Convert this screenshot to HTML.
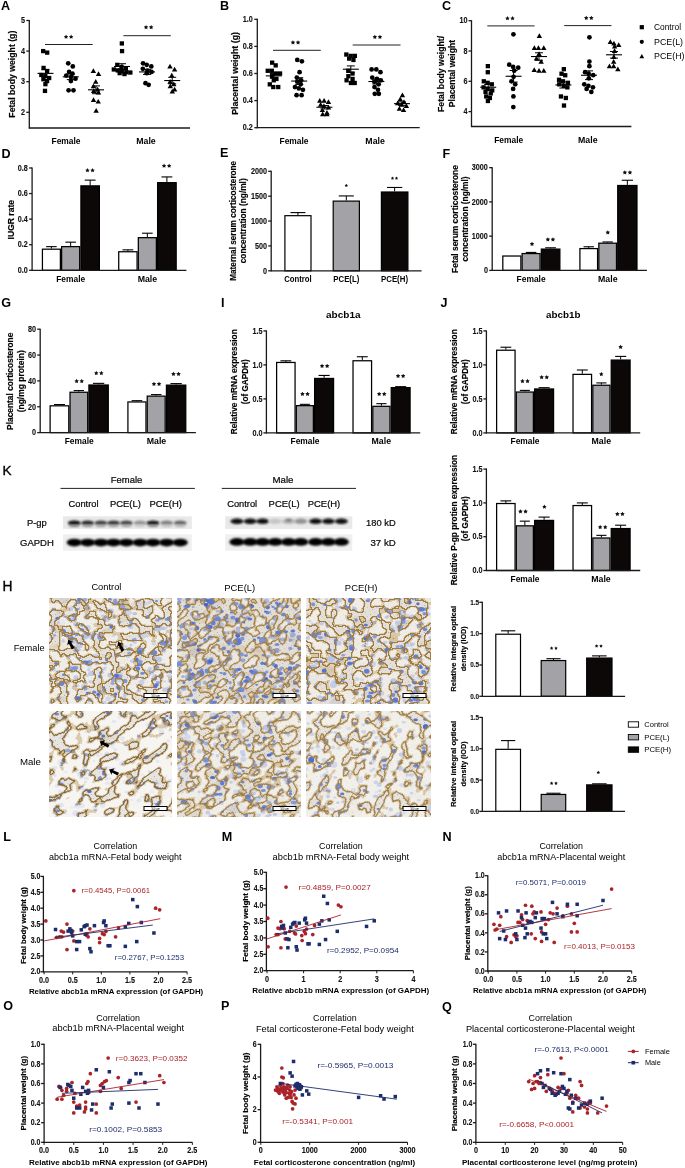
<!DOCTYPE html>
<html><head><meta charset="utf-8"><style>
html,body{margin:0;padding:0;background:#fff;}
svg{display:block;filter:blur(0.3px);}
text[fill="#0a0a0a"]{stroke:#0a0a0a;stroke-width:0.22px;}
text[transform^="rotate"][font-weight="bold"]{stroke:#111;stroke-width:0.18px;}
text[transform^="translate"]{stroke:#111;stroke-width:0.12px;}
</style></head><body>
<svg width="685" height="1168" viewBox="0 0 685 1168" font-family='"Liberation Sans", sans-serif'>
<defs>
<filter id="bl" x="-50%" y="-80%" width="200%" height="260%"><feGaussianBlur stdDeviation="0.9"/></filter>
<filter id="bl2" x="-5%" y="-20%" width="110%" height="140%"><feGaussianBlur stdDeviation="0.5"/></filter>
<pattern id="spk" width="9" height="9" patternUnits="userSpaceOnUse"><rect x="1" y="2" width="0.8" height="0.8" fill="#5a4a30"/><rect x="5.5" y="0.5" width="0.6" height="0.6" fill="#5a4a30"/><rect x="3.2" y="6.1" width="0.7" height="0.7" fill="#5a4a30"/><rect x="7.4" y="4.3" width="0.6" height="0.6" fill="#5a4a30"/><rect x="0.3" y="7.6" width="0.6" height="0.6" fill="#5a4a30"/></pattern>
</defs>
<rect width="685" height="1168" fill="#fff"/>
<text x="1" y="9.9" font-size="12.6" font-weight="bold" fill="#000">A</text>
<line x1="29.3" y1="20" x2="29.3" y2="128.5" stroke="#1a1a1a" stroke-width="1.3"/>
<line x1="26.3" y1="20.5" x2="29.3" y2="20.5" stroke="#1a1a1a" stroke-width="1.3"/>
<text transform="translate(25.1 23.26) scale(0.84 1)" font-size="8.61" font-weight="bold" text-anchor="end" fill="#111">5</text>
<line x1="26.3" y1="51.1" x2="29.3" y2="51.1" stroke="#1a1a1a" stroke-width="1.3"/>
<text transform="translate(25.1 53.86) scale(0.84 1)" font-size="8.61" font-weight="bold" text-anchor="end" fill="#111">4</text>
<line x1="26.3" y1="81.7" x2="29.3" y2="81.7" stroke="#1a1a1a" stroke-width="1.3"/>
<text transform="translate(25.1 84.46) scale(0.84 1)" font-size="8.61" font-weight="bold" text-anchor="end" fill="#111">3</text>
<line x1="26.3" y1="112.3" x2="29.3" y2="112.3" stroke="#1a1a1a" stroke-width="1.3"/>
<text transform="translate(25.1 115.06) scale(0.84 1)" font-size="8.61" font-weight="bold" text-anchor="end" fill="#111">2</text>
<line x1="28.8" y1="128" x2="190" y2="128" stroke="#1a1a1a" stroke-width="1.3"/>
<text x="15.02" y="74.2" font-size="8.6" font-weight="bold" text-anchor="middle" textLength="87" lengthAdjust="spacingAndGlyphs" transform="rotate(-90 15.02 74.2)">Fetal body weight (g)</text>
<text x="66" y="144.25" font-size="8.2" font-weight="bold" text-anchor="middle" textLength="29" lengthAdjust="spacingAndGlyphs">Female</text>
<text x="146" y="144.25" font-size="8.2" font-weight="bold" text-anchor="middle" textLength="19.5" lengthAdjust="spacingAndGlyphs">Male</text>
<line x1="45" y1="44.5" x2="92.7" y2="44.5" stroke="#222" stroke-width="1"/>
<polygon points="66.05,34.55 66.77,35.91 68.28,36.17 67.21,37.28 67.43,38.8 66.05,38.12 64.67,38.8 64.89,37.28 63.82,36.17 65.33,35.91" fill="#111"/>
<polygon points="71.15,34.55 71.87,35.91 73.38,36.17 72.31,37.28 72.53,38.8 71.15,38.12 69.77,38.8 69.99,37.28 68.92,36.17 70.43,35.91" fill="#111"/>
<line x1="123.4" y1="35.7" x2="170.8" y2="35.7" stroke="#222" stroke-width="1"/>
<polygon points="146.05,24.95 146.77,26.31 148.28,26.57 147.21,27.68 147.43,29.2 146.05,28.52 144.67,29.2 144.89,27.68 143.82,26.57 145.33,26.31" fill="#111"/>
<polygon points="151.15,24.95 151.87,26.31 153.38,26.57 152.31,27.68 152.53,29.2 151.15,28.52 149.77,29.2 149.99,27.68 148.92,26.57 150.43,26.31" fill="#111"/>
<rect x="41.04" y="48.95" width="4.3" height="4.3" fill="#000"/>
<rect x="45.03" y="50.48" width="4.3" height="4.3" fill="#000"/>
<rect x="41.43" y="65.78" width="4.3" height="4.3" fill="#000"/>
<rect x="44.94" y="68.84" width="4.3" height="4.3" fill="#000"/>
<rect x="39.19" y="72.82" width="4.3" height="4.3" fill="#000"/>
<rect x="43.19" y="74.04" width="4.3" height="4.3" fill="#000"/>
<rect x="47.02" y="75.88" width="4.3" height="4.3" fill="#000"/>
<rect x="41.26" y="77.1" width="4.3" height="4.3" fill="#000"/>
<rect x="44.89" y="78.94" width="4.3" height="4.3" fill="#000"/>
<rect x="43.27" y="82" width="4.3" height="4.3" fill="#000"/>
<rect x="42.83" y="88.73" width="4.3" height="4.3" fill="#000"/>
<line x1="37.5" y1="73.38" x2="53.5" y2="73.38" stroke="#000" stroke-width="1.1"/>
<line x1="41.5" y1="69.68" x2="49.5" y2="69.68" stroke="#000" stroke-width="1"/>
<line x1="41.5" y1="77.09" x2="49.5" y2="77.09" stroke="#000" stroke-width="1"/>
<line x1="45.5" y1="69.68" x2="45.5" y2="77.09" stroke="#000" stroke-width="1"/>
<circle cx="68.21" cy="63.34" r="2.37" fill="#000"/>
<circle cx="72.81" cy="66.4" r="2.37" fill="#000"/>
<circle cx="69.09" cy="71.91" r="2.37" fill="#000"/>
<circle cx="72.45" cy="73.74" r="2.37" fill="#000"/>
<circle cx="66.27" cy="75.58" r="2.37" fill="#000"/>
<circle cx="70.95" cy="77.11" r="2.37" fill="#000"/>
<circle cx="75.54" cy="78.64" r="2.37" fill="#000"/>
<circle cx="70.89" cy="81.09" r="2.37" fill="#000"/>
<circle cx="68.58" cy="90.27" r="2.37" fill="#000"/>
<circle cx="73.47" cy="90.27" r="2.37" fill="#000"/>
<line x1="62.8" y1="76.83" x2="78.8" y2="76.83" stroke="#000" stroke-width="1.1"/>
<line x1="66.8" y1="74.03" x2="74.8" y2="74.03" stroke="#000" stroke-width="1"/>
<line x1="66.8" y1="79.64" x2="74.8" y2="79.64" stroke="#000" stroke-width="1"/>
<line x1="70.8" y1="74.03" x2="70.8" y2="79.64" stroke="#000" stroke-width="1"/>
<path d="M93.36 68.28L96.06 73.02L90.65 73.02Z" fill="#000"/>
<path d="M98.53 71.34L101.24 76.08L95.82 76.08Z" fill="#000"/>
<path d="M95.75 78.99L98.46 83.73L93.04 83.73Z" fill="#000"/>
<path d="M93.47 83.58L96.18 88.32L90.76 88.32Z" fill="#000"/>
<path d="M97.64 86.64L100.35 91.38L94.93 91.38Z" fill="#000"/>
<path d="M93.67 88.17L96.38 92.91L90.96 92.91Z" fill="#000"/>
<path d="M98.48 89.7L101.19 94.44L95.77 94.44Z" fill="#000"/>
<path d="M93.52 97.35L96.23 102.09L90.81 102.09Z" fill="#000"/>
<path d="M98.2 98.88L100.91 103.62L95.49 103.62Z" fill="#000"/>
<path d="M96.17 108.06L98.88 112.8L93.46 112.8Z" fill="#000"/>
<line x1="88" y1="89.81" x2="104" y2="89.81" stroke="#000" stroke-width="1.1"/>
<line x1="92" y1="85.9" x2="100" y2="85.9" stroke="#000" stroke-width="1"/>
<line x1="92" y1="93.71" x2="100" y2="93.71" stroke="#000" stroke-width="1"/>
<line x1="96" y1="85.9" x2="96" y2="93.71" stroke="#000" stroke-width="1"/>
<rect x="119.7" y="41.3" width="4.3" height="4.3" fill="#000"/>
<rect x="119.91" y="48.95" width="4.3" height="4.3" fill="#000"/>
<rect x="115.13" y="62.72" width="4.3" height="4.3" fill="#000"/>
<rect x="119.32" y="64.86" width="4.3" height="4.3" fill="#000"/>
<rect x="123.7" y="66.09" width="4.3" height="4.3" fill="#000"/>
<rect x="111.67" y="67.31" width="4.3" height="4.3" fill="#000"/>
<rect x="115.56" y="68.23" width="4.3" height="4.3" fill="#000"/>
<rect x="119.63" y="69.15" width="4.3" height="4.3" fill="#000"/>
<rect x="124.15" y="70.06" width="4.3" height="4.3" fill="#000"/>
<rect x="128.19" y="70.37" width="4.3" height="4.3" fill="#000"/>
<rect x="117.51" y="70.98" width="4.3" height="4.3" fill="#000"/>
<rect x="122.3" y="71.9" width="4.3" height="4.3" fill="#000"/>
<line x1="114" y1="66.48" x2="130" y2="66.48" stroke="#000" stroke-width="1.1"/>
<line x1="118" y1="63.74" x2="126" y2="63.74" stroke="#000" stroke-width="1"/>
<line x1="118" y1="69.22" x2="126" y2="69.22" stroke="#000" stroke-width="1"/>
<line x1="122" y1="63.74" x2="122" y2="69.22" stroke="#000" stroke-width="1"/>
<circle cx="143.04" cy="63.34" r="2.37" fill="#000"/>
<circle cx="146.69" cy="64.87" r="2.37" fill="#000"/>
<circle cx="151.29" cy="66.4" r="2.37" fill="#000"/>
<circle cx="142.83" cy="68.85" r="2.37" fill="#000"/>
<circle cx="147.45" cy="70.68" r="2.37" fill="#000"/>
<circle cx="151.48" cy="71.91" r="2.37" fill="#000"/>
<circle cx="146.75" cy="73.13" r="2.37" fill="#000"/>
<circle cx="145.48" cy="83.23" r="2.37" fill="#000"/>
<circle cx="148.64" cy="84.76" r="2.37" fill="#000"/>
<line x1="139" y1="71.91" x2="155" y2="71.91" stroke="#000" stroke-width="1.1"/>
<line x1="143" y1="69.38" x2="151" y2="69.38" stroke="#000" stroke-width="1"/>
<line x1="143" y1="74.43" x2="151" y2="74.43" stroke="#000" stroke-width="1"/>
<line x1="147" y1="69.38" x2="147" y2="74.43" stroke="#000" stroke-width="1"/>
<path d="M170 63.69L172.71 68.43L167.29 68.43Z" fill="#000"/>
<path d="M174.61 66.75L177.32 71.49L171.9 71.49Z" fill="#000"/>
<path d="M171.78 72.87L174.49 77.61L169.07 77.61Z" fill="#000"/>
<path d="M170.09 78.99L172.8 83.73L167.38 83.73Z" fill="#000"/>
<path d="M173.75 81.44L176.46 86.18L171.04 86.18Z" fill="#000"/>
<path d="M170.3 83.58L173.01 88.32L167.59 88.32Z" fill="#000"/>
<path d="M174.62 86.64L177.33 91.38L171.91 91.38Z" fill="#000"/>
<path d="M172.29 88.78L175 93.52L169.58 93.52Z" fill="#000"/>
<line x1="164.2" y1="80.55" x2="180.2" y2="80.55" stroke="#000" stroke-width="1.1"/>
<line x1="168.2" y1="77.3" x2="176.2" y2="77.3" stroke="#000" stroke-width="1"/>
<line x1="168.2" y1="83.8" x2="176.2" y2="83.8" stroke="#000" stroke-width="1"/>
<line x1="172.2" y1="77.3" x2="172.2" y2="83.8" stroke="#000" stroke-width="1"/>
<text x="220" y="9.6" font-size="12.6" font-weight="bold" fill="#000">B</text>
<line x1="257.3" y1="18.8" x2="257.3" y2="128.2" stroke="#1a1a1a" stroke-width="1.3"/>
<line x1="254.3" y1="19.3" x2="257.3" y2="19.3" stroke="#1a1a1a" stroke-width="1.3"/>
<text transform="translate(252.8 22.06) scale(0.84 1)" font-size="8.61" font-weight="bold" text-anchor="end" fill="#111">1.0</text>
<line x1="254.3" y1="46.4" x2="257.3" y2="46.4" stroke="#1a1a1a" stroke-width="1.3"/>
<text transform="translate(252.8 49.16) scale(0.84 1)" font-size="8.61" font-weight="bold" text-anchor="end" fill="#111">0.8</text>
<line x1="254.3" y1="73.5" x2="257.3" y2="73.5" stroke="#1a1a1a" stroke-width="1.3"/>
<text transform="translate(252.8 76.26) scale(0.84 1)" font-size="8.61" font-weight="bold" text-anchor="end" fill="#111">0.6</text>
<line x1="254.3" y1="100.6" x2="257.3" y2="100.6" stroke="#1a1a1a" stroke-width="1.3"/>
<text transform="translate(252.8 103.36) scale(0.84 1)" font-size="8.61" font-weight="bold" text-anchor="end" fill="#111">0.4</text>
<line x1="254.3" y1="127.7" x2="257.3" y2="127.7" stroke="#1a1a1a" stroke-width="1.3"/>
<text transform="translate(252.8 130.46) scale(0.84 1)" font-size="8.61" font-weight="bold" text-anchor="end" fill="#111">0.2</text>
<line x1="256.8" y1="127.7" x2="419.7" y2="127.7" stroke="#1a1a1a" stroke-width="1.3"/>
<text x="237.82" y="73.4" font-size="8.6" font-weight="bold" text-anchor="middle" textLength="82.8" lengthAdjust="spacingAndGlyphs" transform="rotate(-90 237.82 73.4)">Placental weight (g)</text>
<text x="294" y="144.25" font-size="8.2" font-weight="bold" text-anchor="middle" textLength="29" lengthAdjust="spacingAndGlyphs">Female</text>
<text x="375.1" y="144.25" font-size="8.2" font-weight="bold" text-anchor="middle" textLength="19.5" lengthAdjust="spacingAndGlyphs">Male</text>
<line x1="273" y1="50.3" x2="320.8" y2="50.3" stroke="#222" stroke-width="1"/>
<polygon points="292.95,40.25 293.67,41.61 295.18,41.87 294.11,42.98 294.33,44.5 292.95,43.82 291.57,44.5 291.79,42.98 290.72,41.87 292.23,41.61" fill="#111"/>
<polygon points="298.05,40.25 298.77,41.61 300.28,41.87 299.21,42.98 299.43,44.5 298.05,43.82 296.67,44.5 296.89,42.98 295.82,41.87 297.33,41.61" fill="#111"/>
<line x1="352.7" y1="45" x2="400.5" y2="45" stroke="#222" stroke-width="1"/>
<polygon points="374.85,34.65 375.57,36.01 377.08,36.27 376.01,37.38 376.23,38.9 374.85,38.22 373.47,38.9 373.69,37.38 372.62,36.27 374.13,36.01" fill="#111"/>
<polygon points="379.95,34.65 380.67,36.01 382.18,36.27 381.11,37.38 381.33,38.9 379.95,38.22 378.57,38.9 378.79,37.38 377.72,36.27 379.23,36.01" fill="#111"/>
<rect x="270" y="60.51" width="4.3" height="4.3" fill="#000"/>
<rect x="273.53" y="63.22" width="4.3" height="4.3" fill="#000"/>
<rect x="265.58" y="68.64" width="4.3" height="4.3" fill="#000"/>
<rect x="269.66" y="68.64" width="4.3" height="4.3" fill="#000"/>
<rect x="273.85" y="71.35" width="4.3" height="4.3" fill="#000"/>
<rect x="277.9" y="71.35" width="4.3" height="4.3" fill="#000"/>
<rect x="269.96" y="74.06" width="4.3" height="4.3" fill="#000"/>
<rect x="274.28" y="76.77" width="4.3" height="4.3" fill="#000"/>
<rect x="271.62" y="78.12" width="4.3" height="4.3" fill="#000"/>
<rect x="267.65" y="82.19" width="4.3" height="4.3" fill="#000"/>
<rect x="271.12" y="84.9" width="4.3" height="4.3" fill="#000"/>
<rect x="276.09" y="84.9" width="4.3" height="4.3" fill="#000"/>
<line x1="265.8" y1="75.87" x2="281.8" y2="75.87" stroke="#000" stroke-width="1.1"/>
<line x1="269.8" y1="73.57" x2="277.8" y2="73.57" stroke="#000" stroke-width="1"/>
<line x1="269.8" y1="78.17" x2="277.8" y2="78.17" stroke="#000" stroke-width="1"/>
<line x1="273.8" y1="73.57" x2="273.8" y2="78.17" stroke="#000" stroke-width="1"/>
<circle cx="297.28" cy="59.95" r="2.37" fill="#000"/>
<circle cx="301.89" cy="61.31" r="2.37" fill="#000"/>
<circle cx="299.59" cy="72.15" r="2.37" fill="#000"/>
<circle cx="296.84" cy="77.57" r="2.37" fill="#000"/>
<circle cx="301.16" cy="80.28" r="2.37" fill="#000"/>
<circle cx="297.3" cy="81.63" r="2.37" fill="#000"/>
<circle cx="300.73" cy="84.34" r="2.37" fill="#000"/>
<circle cx="294.95" cy="87.05" r="2.37" fill="#000"/>
<circle cx="298.8" cy="88.41" r="2.37" fill="#000"/>
<circle cx="302.94" cy="89.76" r="2.37" fill="#000"/>
<circle cx="296.57" cy="95.18" r="2.37" fill="#000"/>
<circle cx="301.62" cy="95.18" r="2.37" fill="#000"/>
<line x1="291.2" y1="81.07" x2="307.2" y2="81.07" stroke="#000" stroke-width="1.1"/>
<line x1="295.2" y1="77.69" x2="303.2" y2="77.69" stroke="#000" stroke-width="1"/>
<line x1="295.2" y1="84.44" x2="303.2" y2="84.44" stroke="#000" stroke-width="1"/>
<line x1="299.2" y1="77.69" x2="299.2" y2="84.44" stroke="#000" stroke-width="1"/>
<path d="M319.76 97.89L322.46 102.63L317.05 102.63Z" fill="#000"/>
<path d="M324.1 97.89L326.81 102.63L321.39 102.63Z" fill="#000"/>
<path d="M328.47 99.25L331.18 103.99L325.76 103.99Z" fill="#000"/>
<path d="M320.65 101.96L323.35 106.7L317.94 106.7Z" fill="#000"/>
<path d="M323.9 103.31L326.61 108.05L321.19 108.05Z" fill="#000"/>
<path d="M328.54 104.67L331.25 109.41L325.83 109.41Z" fill="#000"/>
<path d="M322.36 107.38L325.07 112.12L319.65 112.12Z" fill="#000"/>
<path d="M326.96 110.09L329.67 114.83L324.25 114.83Z" fill="#000"/>
<path d="M322.68 111.44L325.39 116.18L319.97 116.18Z" fill="#000"/>
<path d="M326.94 111.44L329.65 116.18L324.23 116.18Z" fill="#000"/>
<line x1="316.4" y1="107.24" x2="332.4" y2="107.24" stroke="#000" stroke-width="1.1"/>
<line x1="320.4" y1="105.54" x2="328.4" y2="105.54" stroke="#000" stroke-width="1"/>
<line x1="320.4" y1="108.93" x2="328.4" y2="108.93" stroke="#000" stroke-width="1"/>
<line x1="324.4" y1="105.54" x2="324.4" y2="108.93" stroke="#000" stroke-width="1"/>
<rect x="344.18" y="52.38" width="4.3" height="4.3" fill="#000"/>
<rect x="348.55" y="53.74" width="4.3" height="4.3" fill="#000"/>
<rect x="352.68" y="53.74" width="4.3" height="4.3" fill="#000"/>
<rect x="347.01" y="56.45" width="4.3" height="4.3" fill="#000"/>
<rect x="351.3" y="57.8" width="4.3" height="4.3" fill="#000"/>
<rect x="346.13" y="68.64" width="4.3" height="4.3" fill="#000"/>
<rect x="350.36" y="71.35" width="4.3" height="4.3" fill="#000"/>
<rect x="346.23" y="74.06" width="4.3" height="4.3" fill="#000"/>
<rect x="350.43" y="76.77" width="4.3" height="4.3" fill="#000"/>
<rect x="344.43" y="78.12" width="4.3" height="4.3" fill="#000"/>
<rect x="348.76" y="80.83" width="4.3" height="4.3" fill="#000"/>
<rect x="352.57" y="80.83" width="4.3" height="4.3" fill="#000"/>
<line x1="342.8" y1="69.21" x2="358.8" y2="69.21" stroke="#000" stroke-width="1.1"/>
<line x1="346.8" y1="65.91" x2="354.8" y2="65.91" stroke="#000" stroke-width="1"/>
<line x1="346.8" y1="72.51" x2="354.8" y2="72.51" stroke="#000" stroke-width="1"/>
<line x1="350.8" y1="65.91" x2="350.8" y2="72.51" stroke="#000" stroke-width="1"/>
<circle cx="371.6" cy="69.44" r="2.37" fill="#000"/>
<circle cx="376.3" cy="69.44" r="2.37" fill="#000"/>
<circle cx="380.44" cy="72.15" r="2.37" fill="#000"/>
<circle cx="372.28" cy="77.57" r="2.37" fill="#000"/>
<circle cx="376.94" cy="78.92" r="2.37" fill="#000"/>
<circle cx="380.83" cy="80.28" r="2.37" fill="#000"/>
<circle cx="374.32" cy="81.63" r="2.37" fill="#000"/>
<circle cx="378.64" cy="84.34" r="2.37" fill="#000"/>
<circle cx="374.51" cy="87.05" r="2.37" fill="#000"/>
<circle cx="377.96" cy="89.76" r="2.37" fill="#000"/>
<circle cx="374.78" cy="93.83" r="2.37" fill="#000"/>
<circle cx="378.84" cy="93.83" r="2.37" fill="#000"/>
<line x1="368.4" y1="81.52" x2="384.4" y2="81.52" stroke="#000" stroke-width="1.1"/>
<line x1="372.4" y1="79.04" x2="380.4" y2="79.04" stroke="#000" stroke-width="1"/>
<line x1="372.4" y1="84" x2="380.4" y2="84" stroke="#000" stroke-width="1"/>
<line x1="376.4" y1="79.04" x2="376.4" y2="84" stroke="#000" stroke-width="1"/>
<path d="M402.45 92.47L405.16 97.21L399.74 97.21Z" fill="#000"/>
<path d="M400.26 96.54L402.97 101.28L397.55 101.28Z" fill="#000"/>
<path d="M403.97 99.25L406.68 103.99L401.26 103.99Z" fill="#000"/>
<path d="M397.68 100.6L400.39 105.34L394.97 105.34Z" fill="#000"/>
<path d="M401.52 101.96L404.23 106.7L398.82 106.7Z" fill="#000"/>
<path d="M406.36 103.31L409.07 108.05L403.65 108.05Z" fill="#000"/>
<path d="M399.37 106.02L402.08 110.76L396.67 110.76Z" fill="#000"/>
<path d="M403.58 107.38L406.29 112.12L400.87 112.12Z" fill="#000"/>
<line x1="394" y1="103.65" x2="410" y2="103.65" stroke="#000" stroke-width="1.1"/>
<line x1="398" y1="101.92" x2="406" y2="101.92" stroke="#000" stroke-width="1"/>
<line x1="398" y1="105.38" x2="406" y2="105.38" stroke="#000" stroke-width="1"/>
<line x1="402" y1="101.92" x2="402" y2="105.38" stroke="#000" stroke-width="1"/>
<text x="442" y="9.6" font-size="12.6" font-weight="bold" fill="#000">C</text>
<line x1="471.5" y1="20.2" x2="471.5" y2="127" stroke="#1a1a1a" stroke-width="1.3"/>
<line x1="468.5" y1="20.7" x2="471.5" y2="20.7" stroke="#1a1a1a" stroke-width="1.3"/>
<text transform="translate(467.5 23.46) scale(0.84 1)" font-size="8.61" font-weight="bold" text-anchor="end" fill="#111">10</text>
<line x1="468.5" y1="51" x2="471.5" y2="51" stroke="#1a1a1a" stroke-width="1.3"/>
<text transform="translate(467.5 53.76) scale(0.84 1)" font-size="8.61" font-weight="bold" text-anchor="end" fill="#111">8</text>
<line x1="468.5" y1="81.3" x2="471.5" y2="81.3" stroke="#1a1a1a" stroke-width="1.3"/>
<text transform="translate(467.5 84.06) scale(0.84 1)" font-size="8.61" font-weight="bold" text-anchor="end" fill="#111">6</text>
<line x1="468.5" y1="111.6" x2="471.5" y2="111.6" stroke="#1a1a1a" stroke-width="1.3"/>
<text transform="translate(467.5 114.36) scale(0.84 1)" font-size="8.61" font-weight="bold" text-anchor="end" fill="#111">4</text>
<line x1="471" y1="126.5" x2="631.4" y2="126.5" stroke="#1a1a1a" stroke-width="1.3"/>
<text x="443.52" y="73.9" font-size="8.6" font-weight="bold" text-anchor="middle" textLength="76.2" lengthAdjust="spacingAndGlyphs" transform="rotate(-90 443.52 73.9)">Fetal body weight/</text>
<text x="454.92" y="73.6" font-size="8.6" font-weight="bold" text-anchor="middle" textLength="67.2" lengthAdjust="spacingAndGlyphs" transform="rotate(-90 454.92 73.6)">Placental weight</text>
<text x="508.7" y="143.15" font-size="8.2" font-weight="bold" text-anchor="middle" textLength="29" lengthAdjust="spacingAndGlyphs">Female</text>
<text x="587.8" y="143.25" font-size="8.2" font-weight="bold" text-anchor="middle" textLength="19.5" lengthAdjust="spacingAndGlyphs">Male</text>
<line x1="487.3" y1="25.9" x2="534.6" y2="25.9" stroke="#222" stroke-width="1"/>
<polygon points="507.45,16.05 508.17,17.41 509.68,17.67 508.61,18.78 508.83,20.3 507.45,19.62 506.07,20.3 506.29,18.78 505.22,17.67 506.73,17.41" fill="#111"/>
<polygon points="512.55,16.05 513.27,17.41 514.78,17.67 513.71,18.78 513.93,20.3 512.55,19.62 511.17,20.3 511.39,18.78 510.32,17.67 511.83,17.41" fill="#111"/>
<line x1="564.2" y1="25.6" x2="611.5" y2="25.6" stroke="#222" stroke-width="1"/>
<polygon points="586.25,15.75 586.97,17.11 588.48,17.37 587.41,18.48 587.63,20 586.25,19.32 584.87,20 585.09,18.48 584.02,17.37 585.53,17.11" fill="#111"/>
<polygon points="591.35,15.75 592.07,17.11 593.58,17.37 592.51,18.48 592.73,20 591.35,19.32 589.97,20 590.19,18.48 589.12,17.37 590.63,17.11" fill="#111"/>
<rect x="485.7" y="64" width="4.3" height="4.3" fill="#000"/>
<rect x="485.64" y="70.06" width="4.3" height="4.3" fill="#000"/>
<rect x="481.66" y="79.15" width="4.3" height="4.3" fill="#000"/>
<rect x="485.51" y="80.66" width="4.3" height="4.3" fill="#000"/>
<rect x="489.65" y="82.18" width="4.3" height="4.3" fill="#000"/>
<rect x="481.43" y="85.21" width="4.3" height="4.3" fill="#000"/>
<rect x="485.57" y="86.72" width="4.3" height="4.3" fill="#000"/>
<rect x="490.09" y="88.24" width="4.3" height="4.3" fill="#000"/>
<rect x="483.38" y="89.75" width="4.3" height="4.3" fill="#000"/>
<rect x="488.6" y="91.27" width="4.3" height="4.3" fill="#000"/>
<rect x="484.09" y="94.3" width="4.3" height="4.3" fill="#000"/>
<rect x="487.73" y="95.81" width="4.3" height="4.3" fill="#000"/>
<rect x="485.75" y="98.84" width="4.3" height="4.3" fill="#000"/>
<line x1="480.2" y1="87.24" x2="496.2" y2="87.24" stroke="#000" stroke-width="1.1"/>
<line x1="484.2" y1="84.48" x2="492.2" y2="84.48" stroke="#000" stroke-width="1"/>
<line x1="484.2" y1="90.01" x2="492.2" y2="90.01" stroke="#000" stroke-width="1"/>
<line x1="488.2" y1="84.48" x2="488.2" y2="90.01" stroke="#000" stroke-width="1"/>
<circle cx="513.42" cy="34.34" r="2.37" fill="#000"/>
<circle cx="509.24" cy="64.64" r="2.37" fill="#000"/>
<circle cx="513.15" cy="66.91" r="2.37" fill="#000"/>
<circle cx="518.22" cy="67.66" r="2.37" fill="#000"/>
<circle cx="514.19" cy="70.69" r="2.37" fill="#000"/>
<circle cx="513.56" cy="76.76" r="2.37" fill="#000"/>
<circle cx="511.48" cy="81.3" r="2.37" fill="#000"/>
<circle cx="515.2" cy="84.33" r="2.37" fill="#000"/>
<circle cx="513.12" cy="88.88" r="2.37" fill="#000"/>
<circle cx="513.41" cy="96.45" r="2.37" fill="#000"/>
<circle cx="513.32" cy="107.06" r="2.37" fill="#000"/>
<line x1="505.6" y1="76.27" x2="521.6" y2="76.27" stroke="#000" stroke-width="1.1"/>
<line x1="509.6" y1="70.48" x2="517.6" y2="70.48" stroke="#000" stroke-width="1"/>
<line x1="509.6" y1="82.07" x2="517.6" y2="82.07" stroke="#000" stroke-width="1"/>
<line x1="513.6" y1="70.48" x2="513.6" y2="82.07" stroke="#000" stroke-width="1"/>
<path d="M539.39 33.14L542.1 37.88L536.69 37.88Z" fill="#000"/>
<path d="M534.39 45.26L537.1 50L531.68 50Z" fill="#000"/>
<path d="M538.43 45.26L541.14 50L535.72 50Z" fill="#000"/>
<path d="M543.74 45.26L546.45 50L541.03 50Z" fill="#000"/>
<path d="M539.03 51.32L541.74 56.06L536.32 56.06Z" fill="#000"/>
<path d="M536.48 55.87L539.18 60.61L533.77 60.61Z" fill="#000"/>
<path d="M541.15 58.9L543.86 63.64L538.44 63.64Z" fill="#000"/>
<path d="M534.23 67.23L536.94 71.97L531.52 71.97Z" fill="#000"/>
<path d="M539.03 67.99L541.74 72.73L536.32 72.73Z" fill="#000"/>
<path d="M543.77 67.99L546.48 72.73L541.07 72.73Z" fill="#000"/>
<line x1="531" y1="56.53" x2="547" y2="56.53" stroke="#000" stroke-width="1.1"/>
<line x1="535" y1="52.78" x2="543" y2="52.78" stroke="#000" stroke-width="1"/>
<line x1="535" y1="60.28" x2="543" y2="60.28" stroke="#000" stroke-width="1"/>
<line x1="539" y1="52.78" x2="539" y2="60.28" stroke="#000" stroke-width="1"/>
<rect x="561.69" y="67.03" width="4.3" height="4.3" fill="#000"/>
<rect x="559.39" y="71.57" width="4.3" height="4.3" fill="#000"/>
<rect x="563.06" y="73.09" width="4.3" height="4.3" fill="#000"/>
<rect x="556.89" y="77.64" width="4.3" height="4.3" fill="#000"/>
<rect x="560.85" y="79.15" width="4.3" height="4.3" fill="#000"/>
<rect x="565.78" y="80.66" width="4.3" height="4.3" fill="#000"/>
<rect x="557.09" y="82.18" width="4.3" height="4.3" fill="#000"/>
<rect x="561.58" y="83.69" width="4.3" height="4.3" fill="#000"/>
<rect x="565.25" y="85.21" width="4.3" height="4.3" fill="#000"/>
<rect x="558.82" y="94.3" width="4.3" height="4.3" fill="#000"/>
<rect x="563.72" y="95.81" width="4.3" height="4.3" fill="#000"/>
<rect x="561.83" y="103.39" width="4.3" height="4.3" fill="#000"/>
<line x1="555.4" y1="84.96" x2="571.4" y2="84.96" stroke="#000" stroke-width="1.1"/>
<line x1="559.4" y1="81.89" x2="567.4" y2="81.89" stroke="#000" stroke-width="1"/>
<line x1="559.4" y1="88.03" x2="567.4" y2="88.03" stroke="#000" stroke-width="1"/>
<line x1="563.4" y1="81.89" x2="563.4" y2="88.03" stroke="#000" stroke-width="1"/>
<circle cx="589.42" cy="37.36" r="2.37" fill="#000"/>
<circle cx="589.37" cy="61.61" r="2.37" fill="#000"/>
<circle cx="589.38" cy="66.15" r="2.37" fill="#000"/>
<circle cx="585.09" cy="72.21" r="2.37" fill="#000"/>
<circle cx="588.67" cy="73.72" r="2.37" fill="#000"/>
<circle cx="593.22" cy="75.24" r="2.37" fill="#000"/>
<circle cx="588.83" cy="78.27" r="2.37" fill="#000"/>
<circle cx="584.23" cy="84.33" r="2.37" fill="#000"/>
<circle cx="588.43" cy="85.84" r="2.37" fill="#000"/>
<circle cx="592.94" cy="87.36" r="2.37" fill="#000"/>
<circle cx="586.61" cy="88.88" r="2.37" fill="#000"/>
<circle cx="591.33" cy="91.91" r="2.37" fill="#000"/>
<line x1="581" y1="75.24" x2="597" y2="75.24" stroke="#000" stroke-width="1.1"/>
<line x1="585" y1="70.86" x2="593" y2="70.86" stroke="#000" stroke-width="1"/>
<line x1="585" y1="79.62" x2="593" y2="79.62" stroke="#000" stroke-width="1"/>
<line x1="589" y1="70.86" x2="589" y2="79.62" stroke="#000" stroke-width="1"/>
<path d="M610.35 39.2L613.06 43.94L607.64 43.94Z" fill="#000"/>
<path d="M613.94 40.72L616.65 45.46L611.23 45.46Z" fill="#000"/>
<path d="M618.72 42.23L621.43 46.97L616.02 46.97Z" fill="#000"/>
<path d="M614.59 43.75L617.29 48.49L611.88 48.49Z" fill="#000"/>
<path d="M614.55 48.29L617.26 53.03L611.84 53.03Z" fill="#000"/>
<path d="M613.84 54.35L616.55 59.09L611.13 59.09Z" fill="#000"/>
<path d="M613.66 58.9L616.37 63.64L610.96 63.64Z" fill="#000"/>
<path d="M609.47 63.44L612.18 68.18L606.76 68.18Z" fill="#000"/>
<path d="M613.64 63.44L616.35 68.18L610.93 68.18Z" fill="#000"/>
<path d="M617.85 66.47L620.55 71.21L615.14 71.21Z" fill="#000"/>
<line x1="606" y1="54.79" x2="622" y2="54.79" stroke="#000" stroke-width="1.1"/>
<line x1="610" y1="51.47" x2="618" y2="51.47" stroke="#000" stroke-width="1"/>
<line x1="610" y1="58.11" x2="618" y2="58.11" stroke="#000" stroke-width="1"/>
<line x1="614" y1="51.47" x2="614" y2="58.11" stroke="#000" stroke-width="1"/>
<rect x="639.7" y="25.1" width="4.2" height="4.2" fill="#000"/>
<circle cx="641.8" cy="41.8" r="2.09" fill="#000"/>
<path d="M641.8 54.01L644.19 58.2L639.41 58.2Z" fill="#000"/>
<text x="654" y="30.13" font-size="8.7" textLength="27" lengthAdjust="spacingAndGlyphs">Control</text>
<text x="654" y="44.93" font-size="8.7" textLength="29" lengthAdjust="spacingAndGlyphs">PCE(L)</text>
<text x="654" y="59.33" font-size="8.7" textLength="30.5" lengthAdjust="spacingAndGlyphs">PCE(H)</text>
<text x="1.6" y="157.8" font-size="12.6" font-weight="bold" fill="#000">D</text>
<line x1="32.1" y1="167.5" x2="32.1" y2="270.8" stroke="#1a1a1a" stroke-width="1.3"/>
<line x1="29.1" y1="167.98" x2="32.1" y2="167.98" stroke="#1a1a1a" stroke-width="1.3"/>
<text transform="translate(27.7 170.74) scale(0.84 1)" font-size="8.61" font-weight="bold" text-anchor="end" fill="#111">0.8</text>
<line x1="29.1" y1="193.56" x2="32.1" y2="193.56" stroke="#1a1a1a" stroke-width="1.3"/>
<text transform="translate(27.7 196.32) scale(0.84 1)" font-size="8.61" font-weight="bold" text-anchor="end" fill="#111">0.6</text>
<line x1="29.1" y1="219.14" x2="32.1" y2="219.14" stroke="#1a1a1a" stroke-width="1.3"/>
<text transform="translate(27.7 221.9) scale(0.84 1)" font-size="8.61" font-weight="bold" text-anchor="end" fill="#111">0.4</text>
<line x1="29.1" y1="244.72" x2="32.1" y2="244.72" stroke="#1a1a1a" stroke-width="1.3"/>
<text transform="translate(27.7 247.48) scale(0.84 1)" font-size="8.61" font-weight="bold" text-anchor="end" fill="#111">0.2</text>
<line x1="29.1" y1="270.3" x2="32.1" y2="270.3" stroke="#1a1a1a" stroke-width="1.3"/>
<text transform="translate(27.7 273.06) scale(0.84 1)" font-size="8.61" font-weight="bold" text-anchor="end" fill="#111">0.0</text>
<line x1="51.4" y1="248.56" x2="51.4" y2="246.64" stroke="#000" stroke-width="1"/>
<line x1="46.12" y1="246.64" x2="56.68" y2="246.64" stroke="#000" stroke-width="1.1"/>
<rect x="42.42" y="249.18" width="17.95" height="21.12" fill="#ffffff" stroke="#000" stroke-width="1.25"/>
<line x1="70.65" y1="246" x2="70.65" y2="242.16" stroke="#000" stroke-width="1"/>
<line x1="65.34" y1="242.16" x2="75.96" y2="242.16" stroke="#000" stroke-width="1.1"/>
<rect x="61.62" y="246.62" width="18.05" height="23.68" fill="#a3a3a7" stroke="#000" stroke-width="1.25"/>
<line x1="90.15" y1="185.25" x2="90.15" y2="180.13" stroke="#000" stroke-width="1"/>
<line x1="84.73" y1="180.13" x2="95.57" y2="180.13" stroke="#000" stroke-width="1.1"/>
<rect x="80.92" y="185.87" width="18.45" height="84.43" fill="#0c0808" stroke="#000" stroke-width="1.25"/>
<line x1="127.9" y1="251.12" x2="127.9" y2="249.84" stroke="#000" stroke-width="1"/>
<line x1="122.51" y1="249.84" x2="133.29" y2="249.84" stroke="#000" stroke-width="1.1"/>
<rect x="118.72" y="251.74" width="18.35" height="18.56" fill="#ffffff" stroke="#000" stroke-width="1.25"/>
<line x1="147.35" y1="237.05" x2="147.35" y2="233.21" stroke="#000" stroke-width="1"/>
<line x1="142.04" y1="233.21" x2="152.66" y2="233.21" stroke="#000" stroke-width="1.1"/>
<rect x="138.32" y="237.67" width="18.05" height="32.63" fill="#a3a3a7" stroke="#000" stroke-width="1.25"/>
<line x1="166.9" y1="182.05" x2="166.9" y2="176.93" stroke="#000" stroke-width="1"/>
<line x1="161.46" y1="176.93" x2="172.34" y2="176.93" stroke="#000" stroke-width="1.1"/>
<rect x="157.62" y="182.67" width="18.55" height="87.63" fill="#0c0808" stroke="#000" stroke-width="1.25"/>
<line x1="31.6" y1="270.3" x2="186.4" y2="270.3" stroke="#1a1a1a" stroke-width="1.3"/>
<text x="13.52" y="219.7" font-size="8.6" font-weight="bold" text-anchor="middle" textLength="39.4" lengthAdjust="spacingAndGlyphs" transform="rotate(-90 13.52 219.7)">IUGR rate</text>
<text x="70.7" y="282.05" font-size="8.2" font-weight="bold" text-anchor="middle" textLength="29" lengthAdjust="spacingAndGlyphs">Female</text>
<text x="147.4" y="281.75" font-size="8.2" font-weight="bold" text-anchor="middle" textLength="19.5" lengthAdjust="spacingAndGlyphs">Male</text>
<polygon points="87.45,168.05 88.17,169.41 89.68,169.67 88.61,170.78 88.83,172.3 87.45,171.62 86.07,172.3 86.29,170.78 85.22,169.67 86.73,169.41" fill="#111"/>
<polygon points="92.55,168.05 93.27,169.41 94.78,169.67 93.71,170.78 93.93,172.3 92.55,171.62 91.17,172.3 91.39,170.78 90.32,169.67 91.83,169.41" fill="#111"/>
<polygon points="164.05,163.55 164.77,164.91 166.28,165.17 165.21,166.28 165.43,167.8 164.05,167.12 162.67,167.8 162.89,166.28 161.82,165.17 163.33,164.91" fill="#111"/>
<polygon points="169.15,163.55 169.87,164.91 171.38,165.17 170.31,166.28 170.53,167.8 169.15,167.12 167.77,167.8 167.99,166.28 166.92,165.17 168.43,164.91" fill="#111"/>
<text x="220" y="157.3" font-size="12.6" font-weight="bold" fill="#000">E</text>
<line x1="271.2" y1="170.8" x2="271.2" y2="271.3" stroke="#1a1a1a" stroke-width="1.3"/>
<line x1="268.2" y1="171.3" x2="271.2" y2="171.3" stroke="#1a1a1a" stroke-width="1.3"/>
<text transform="translate(267 174.06) scale(0.84 1)" font-size="8.61" font-weight="bold" text-anchor="end" fill="#111">2000</text>
<line x1="268.2" y1="196.18" x2="271.2" y2="196.18" stroke="#1a1a1a" stroke-width="1.3"/>
<text transform="translate(267 198.93) scale(0.84 1)" font-size="8.61" font-weight="bold" text-anchor="end" fill="#111">1500</text>
<line x1="268.2" y1="221.05" x2="271.2" y2="221.05" stroke="#1a1a1a" stroke-width="1.3"/>
<text transform="translate(267 223.81) scale(0.84 1)" font-size="8.61" font-weight="bold" text-anchor="end" fill="#111">1000</text>
<line x1="268.2" y1="245.93" x2="271.2" y2="245.93" stroke="#1a1a1a" stroke-width="1.3"/>
<text transform="translate(267 248.68) scale(0.84 1)" font-size="8.61" font-weight="bold" text-anchor="end" fill="#111">500</text>
<line x1="268.2" y1="270.8" x2="271.2" y2="270.8" stroke="#1a1a1a" stroke-width="1.3"/>
<text transform="translate(267 273.56) scale(0.84 1)" font-size="8.61" font-weight="bold" text-anchor="end" fill="#111">0</text>
<line x1="297.95" y1="215.08" x2="297.95" y2="212.59" stroke="#000" stroke-width="1"/>
<line x1="290.44" y1="212.59" x2="305.46" y2="212.59" stroke="#000" stroke-width="1.1"/>
<rect x="284.9" y="215.68" width="26.1" height="55.12" fill="#ffffff" stroke="#000" stroke-width="1.2"/>
<line x1="346.3" y1="200.5" x2="346.3" y2="195.93" stroke="#000" stroke-width="1"/>
<line x1="338.77" y1="195.93" x2="353.83" y2="195.93" stroke="#000" stroke-width="1.1"/>
<rect x="333.2" y="201.1" width="26.2" height="69.7" fill="#a3a3a7" stroke="#000" stroke-width="1.2"/>
<line x1="394.65" y1="191.4" x2="394.65" y2="187.47" stroke="#000" stroke-width="1"/>
<line x1="387.03" y1="187.47" x2="402.27" y2="187.47" stroke="#000" stroke-width="1.1"/>
<rect x="381.4" y="192" width="26.5" height="78.8" fill="#0c0808" stroke="#000" stroke-width="1.2"/>
<line x1="270.7" y1="270.8" x2="421.6" y2="270.8" stroke="#1a1a1a" stroke-width="1.3"/>
<text x="236.02" y="220.8" font-size="8.6" font-weight="bold" text-anchor="middle" textLength="120" lengthAdjust="spacingAndGlyphs" transform="rotate(-90 236.02 220.8)">Maternal serum corticosterone</text>
<text x="246.02" y="220.8" font-size="8.6" font-weight="bold" text-anchor="middle" textLength="85" lengthAdjust="spacingAndGlyphs" transform="rotate(-90 246.02 220.8)">concentration (ng/ml)</text>
<text x="298" y="282.45" font-size="8.2" font-weight="bold" text-anchor="middle" textLength="27.5" lengthAdjust="spacingAndGlyphs">Control</text>
<text x="346.3" y="282.45" font-size="8.2" font-weight="bold" text-anchor="middle" textLength="26" lengthAdjust="spacingAndGlyphs">PCE(L)</text>
<text x="394.5" y="282.45" font-size="8.2" font-weight="bold" text-anchor="middle" textLength="27" lengthAdjust="spacingAndGlyphs">PCE(H)</text>
<polygon points="346.3,183.85 346.83,184.86 347.96,185.06 347.17,185.88 347.33,187.02 346.3,186.51 345.27,187.02 345.43,185.88 344.64,185.06 345.77,184.86" fill="#111"/>
<polygon points="392.5,176.55 393.03,177.56 394.16,177.76 393.37,178.58 393.53,179.72 392.5,179.21 391.47,179.72 391.63,178.58 390.84,177.76 391.97,177.56" fill="#111"/>
<polygon points="396.5,176.55 397.03,177.56 398.16,177.76 397.37,178.58 397.53,179.72 396.5,179.21 395.47,179.72 395.63,178.58 394.84,177.76 395.97,177.56" fill="#111"/>
<text x="442.6" y="157.6" font-size="12.6" font-weight="bold" fill="#000">F</text>
<line x1="492.2" y1="167.3" x2="492.2" y2="270.9" stroke="#1a1a1a" stroke-width="1.3"/>
<line x1="489.2" y1="167.65" x2="492.2" y2="167.65" stroke="#1a1a1a" stroke-width="1.3"/>
<text transform="translate(487.9 170.41) scale(0.84 1)" font-size="8.61" font-weight="bold" text-anchor="end" fill="#111">3000</text>
<line x1="489.2" y1="201.9" x2="492.2" y2="201.9" stroke="#1a1a1a" stroke-width="1.3"/>
<text transform="translate(487.9 204.66) scale(0.84 1)" font-size="8.61" font-weight="bold" text-anchor="end" fill="#111">2000</text>
<line x1="489.2" y1="236.15" x2="492.2" y2="236.15" stroke="#1a1a1a" stroke-width="1.3"/>
<text transform="translate(487.9 238.91) scale(0.84 1)" font-size="8.61" font-weight="bold" text-anchor="end" fill="#111">1000</text>
<line x1="489.2" y1="270.4" x2="492.2" y2="270.4" stroke="#1a1a1a" stroke-width="1.3"/>
<text transform="translate(487.9 273.16) scale(0.84 1)" font-size="8.61" font-weight="bold" text-anchor="end" fill="#111">0</text>
<rect x="502.82" y="256.02" width="18.05" height="14.38" fill="#ffffff" stroke="#000" stroke-width="1.25"/>
<line x1="531.1" y1="252.93" x2="531.1" y2="252.42" stroke="#000" stroke-width="1"/>
<line x1="525.82" y1="252.42" x2="536.38" y2="252.42" stroke="#000" stroke-width="1.1"/>
<rect x="522.12" y="253.56" width="17.95" height="16.84" fill="#a3a3a7" stroke="#000" stroke-width="1.25"/>
<line x1="550.6" y1="248.48" x2="550.6" y2="247.79" stroke="#000" stroke-width="1"/>
<line x1="545.16" y1="247.79" x2="556.04" y2="247.79" stroke="#000" stroke-width="1.1"/>
<rect x="541.33" y="249.1" width="18.55" height="21.3" fill="#0c0808" stroke="#000" stroke-width="1.25"/>
<line x1="588.75" y1="247.97" x2="588.75" y2="246.77" stroke="#000" stroke-width="1"/>
<line x1="583.55" y1="246.77" x2="593.95" y2="246.77" stroke="#000" stroke-width="1.1"/>
<rect x="579.92" y="248.59" width="17.65" height="21.81" fill="#ffffff" stroke="#000" stroke-width="1.25"/>
<line x1="607.65" y1="242.55" x2="607.65" y2="241.97" stroke="#000" stroke-width="1"/>
<line x1="602.45" y1="241.97" x2="612.85" y2="241.97" stroke="#000" stroke-width="1.1"/>
<rect x="598.83" y="243.18" width="17.65" height="27.22" fill="#a3a3a7" stroke="#000" stroke-width="1.25"/>
<line x1="627.35" y1="184.88" x2="627.35" y2="180.25" stroke="#000" stroke-width="1"/>
<line x1="621.71" y1="180.25" x2="632.99" y2="180.25" stroke="#000" stroke-width="1.1"/>
<rect x="617.73" y="185.5" width="19.25" height="84.9" fill="#0c0808" stroke="#000" stroke-width="1.25"/>
<line x1="491.7" y1="270.4" x2="646.9" y2="270.4" stroke="#1a1a1a" stroke-width="1.3"/>
<text x="457.72" y="219" font-size="8.6" font-weight="bold" text-anchor="middle" textLength="107.8" lengthAdjust="spacingAndGlyphs" transform="rotate(-90 457.72 219)">Fetal serum corticosterone</text>
<text x="467.72" y="219" font-size="8.6" font-weight="bold" text-anchor="middle" textLength="85" lengthAdjust="spacingAndGlyphs" transform="rotate(-90 467.72 219)">concentration (ng/ml)</text>
<text x="531.1" y="281.95" font-size="8.2" font-weight="bold" text-anchor="middle" textLength="29" lengthAdjust="spacingAndGlyphs">Female</text>
<text x="607.8" y="281.95" font-size="8.2" font-weight="bold" text-anchor="middle" textLength="19.5" lengthAdjust="spacingAndGlyphs">Male</text>
<polygon points="532,241.65 532.72,243.01 534.23,243.27 533.16,244.38 533.38,245.9 532,245.22 530.62,245.9 530.84,244.38 529.77,243.27 531.28,243.01" fill="#111"/>
<polygon points="547.85,237.25 548.57,238.61 550.08,238.87 549.01,239.98 549.23,241.5 547.85,240.82 546.47,241.5 546.69,239.98 545.62,238.87 547.13,238.61" fill="#111"/>
<polygon points="552.95,237.25 553.67,238.61 555.18,238.87 554.11,239.98 554.33,241.5 552.95,240.82 551.57,241.5 551.79,239.98 550.72,238.87 552.23,238.61" fill="#111"/>
<polygon points="607.8,230.25 608.52,231.61 610.03,231.87 608.96,232.98 609.18,234.5 607.8,233.82 606.42,234.5 606.64,232.98 605.57,231.87 607.08,231.61" fill="#111"/>
<polygon points="624.85,170.15 625.57,171.51 627.08,171.77 626.01,172.88 626.23,174.4 624.85,173.72 623.47,174.4 623.69,172.88 622.62,171.77 624.13,171.51" fill="#111"/>
<polygon points="629.95,170.15 630.67,171.51 632.18,171.77 631.11,172.88 631.33,174.4 629.95,173.72 628.57,174.4 628.79,172.88 627.72,171.77 629.23,171.51" fill="#111"/>
<text x="1.3" y="307" font-size="12.6" font-weight="bold" fill="#000">G</text>
<line x1="40.2" y1="328.7" x2="40.2" y2="433.1" stroke="#1a1a1a" stroke-width="1.3"/>
<line x1="37.2" y1="329.2" x2="40.2" y2="329.2" stroke="#1a1a1a" stroke-width="1.3"/>
<text transform="translate(36 331.96) scale(0.84 1)" font-size="8.61" font-weight="bold" text-anchor="end" fill="#111">80</text>
<line x1="37.2" y1="355.05" x2="40.2" y2="355.05" stroke="#1a1a1a" stroke-width="1.3"/>
<text transform="translate(36 357.81) scale(0.84 1)" font-size="8.61" font-weight="bold" text-anchor="end" fill="#111">60</text>
<line x1="37.2" y1="380.9" x2="40.2" y2="380.9" stroke="#1a1a1a" stroke-width="1.3"/>
<text transform="translate(36 383.66) scale(0.84 1)" font-size="8.61" font-weight="bold" text-anchor="end" fill="#111">40</text>
<line x1="37.2" y1="406.75" x2="40.2" y2="406.75" stroke="#1a1a1a" stroke-width="1.3"/>
<text transform="translate(36 409.51) scale(0.84 1)" font-size="8.61" font-weight="bold" text-anchor="end" fill="#111">20</text>
<line x1="37.2" y1="432.6" x2="40.2" y2="432.6" stroke="#1a1a1a" stroke-width="1.3"/>
<text transform="translate(36 435.36) scale(0.84 1)" font-size="8.61" font-weight="bold" text-anchor="end" fill="#111">0</text>
<line x1="59.45" y1="405.2" x2="59.45" y2="404.55" stroke="#000" stroke-width="1"/>
<line x1="53.98" y1="404.55" x2="64.92" y2="404.55" stroke="#000" stroke-width="1.1"/>
<rect x="50.12" y="405.82" width="18.65" height="26.78" fill="#ffffff" stroke="#000" stroke-width="1.25"/>
<line x1="78.85" y1="391.63" x2="78.85" y2="390.59" stroke="#000" stroke-width="1"/>
<line x1="73.65" y1="390.59" x2="84.05" y2="390.59" stroke="#000" stroke-width="1.1"/>
<rect x="70.03" y="392.25" width="17.65" height="40.35" fill="#a3a3a7" stroke="#000" stroke-width="1.25"/>
<line x1="98.6" y1="384.39" x2="98.6" y2="383.36" stroke="#000" stroke-width="1"/>
<line x1="92.93" y1="383.36" x2="104.27" y2="383.36" stroke="#000" stroke-width="1.1"/>
<rect x="88.92" y="385.01" width="19.35" height="47.59" fill="#0c0808" stroke="#000" stroke-width="1.25"/>
<line x1="136.95" y1="401.32" x2="136.95" y2="400.68" stroke="#000" stroke-width="1"/>
<line x1="131.64" y1="400.68" x2="142.26" y2="400.68" stroke="#000" stroke-width="1.1"/>
<rect x="127.92" y="401.95" width="18.05" height="30.65" fill="#ffffff" stroke="#000" stroke-width="1.25"/>
<line x1="156.2" y1="395.51" x2="156.2" y2="394.6" stroke="#000" stroke-width="1"/>
<line x1="150.92" y1="394.6" x2="161.48" y2="394.6" stroke="#000" stroke-width="1.1"/>
<rect x="147.22" y="396.13" width="17.95" height="36.47" fill="#a3a3a7" stroke="#000" stroke-width="1.25"/>
<line x1="176.1" y1="384.52" x2="176.1" y2="383.61" stroke="#000" stroke-width="1"/>
<line x1="170.44" y1="383.61" x2="181.77" y2="383.61" stroke="#000" stroke-width="1.1"/>
<rect x="166.43" y="385.14" width="19.35" height="47.46" fill="#0c0808" stroke="#000" stroke-width="1.25"/>
<line x1="39.7" y1="432.6" x2="195.9" y2="432.6" stroke="#1a1a1a" stroke-width="1.3"/>
<text x="13.22" y="381.3" font-size="8.6" font-weight="bold" text-anchor="middle" textLength="97.2" lengthAdjust="spacingAndGlyphs" transform="rotate(-90 13.22 381.3)">Placental corticosterone</text>
<text x="24.02" y="381.3" font-size="8.6" font-weight="bold" text-anchor="middle" textLength="62" lengthAdjust="spacingAndGlyphs" transform="rotate(-90 24.02 381.3)">(ng/mg protein)</text>
<text x="79.2" y="444.45" font-size="8.2" font-weight="bold" text-anchor="middle" textLength="29" lengthAdjust="spacingAndGlyphs">Female</text>
<text x="156.5" y="444.45" font-size="8.2" font-weight="bold" text-anchor="middle" textLength="19.5" lengthAdjust="spacingAndGlyphs">Male</text>
<polygon points="76.65,378.85 77.37,380.21 78.88,380.47 77.81,381.58 78.03,383.1 76.65,382.42 75.27,383.1 75.49,381.58 74.42,380.47 75.93,380.21" fill="#111"/>
<polygon points="81.75,378.85 82.47,380.21 83.98,380.47 82.91,381.58 83.13,383.1 81.75,382.42 80.37,383.1 80.59,381.58 79.52,380.47 81.03,380.21" fill="#111"/>
<polygon points="96.25,370.85 96.97,372.21 98.48,372.47 97.41,373.58 97.63,375.1 96.25,374.42 94.87,375.1 95.09,373.58 94.02,372.47 95.53,372.21" fill="#111"/>
<polygon points="101.35,370.85 102.07,372.21 103.58,372.47 102.51,373.58 102.73,375.1 101.35,374.42 99.97,375.1 100.19,373.58 99.12,372.47 100.63,372.21" fill="#111"/>
<polygon points="153.95,381.75 154.67,383.11 156.18,383.37 155.11,384.48 155.33,386 153.95,385.32 152.57,386 152.79,384.48 151.72,383.37 153.23,383.11" fill="#111"/>
<polygon points="159.05,381.75 159.77,383.11 161.28,383.37 160.21,384.48 160.43,386 159.05,385.32 157.67,386 157.89,384.48 156.82,383.37 158.33,383.11" fill="#111"/>
<polygon points="173.45,371.65 174.17,373.01 175.68,373.27 174.61,374.38 174.83,375.9 173.45,375.22 172.07,375.9 172.29,374.38 171.22,373.27 172.73,373.01" fill="#111"/>
<polygon points="178.55,371.65 179.27,373.01 180.78,373.27 179.71,374.38 179.93,375.9 178.55,375.22 177.17,375.9 177.39,374.38 176.32,373.27 177.83,373.01" fill="#111"/>
<text x="221" y="307.3" font-size="12.6" font-weight="bold" fill="#000">I</text>
<text x="343.3" y="318.03" font-size="9.8" font-weight="bold" text-anchor="middle" textLength="34.5" lengthAdjust="spacingAndGlyphs">abcb1a</text>
<line x1="266.4" y1="330.4" x2="266.4" y2="433.4" stroke="#1a1a1a" stroke-width="1.3"/>
<line x1="263.4" y1="330.9" x2="266.4" y2="330.9" stroke="#1a1a1a" stroke-width="1.3"/>
<text transform="translate(262.5 333.66) scale(0.84 1)" font-size="8.61" font-weight="bold" text-anchor="end" fill="#111">1.5</text>
<line x1="263.4" y1="364.9" x2="266.4" y2="364.9" stroke="#1a1a1a" stroke-width="1.3"/>
<text transform="translate(262.5 367.66) scale(0.84 1)" font-size="8.61" font-weight="bold" text-anchor="end" fill="#111">1.0</text>
<line x1="263.4" y1="398.9" x2="266.4" y2="398.9" stroke="#1a1a1a" stroke-width="1.3"/>
<text transform="translate(262.5 401.66) scale(0.84 1)" font-size="8.61" font-weight="bold" text-anchor="end" fill="#111">0.5</text>
<line x1="263.4" y1="432.9" x2="266.4" y2="432.9" stroke="#1a1a1a" stroke-width="1.3"/>
<text transform="translate(262.5 435.66) scale(0.84 1)" font-size="8.61" font-weight="bold" text-anchor="end" fill="#111">0.0</text>
<line x1="285.85" y1="361.84" x2="285.85" y2="360.82" stroke="#000" stroke-width="1"/>
<line x1="280.43" y1="360.82" x2="291.27" y2="360.82" stroke="#000" stroke-width="1.1"/>
<rect x="276.62" y="362.46" width="18.45" height="70.44" fill="#ffffff" stroke="#000" stroke-width="1.25"/>
<line x1="304.85" y1="405.02" x2="304.85" y2="404.34" stroke="#000" stroke-width="1"/>
<line x1="299.82" y1="404.34" x2="309.88" y2="404.34" stroke="#000" stroke-width="1.1"/>
<rect x="296.32" y="405.64" width="17.05" height="27.25" fill="#a3a3a7" stroke="#000" stroke-width="1.25"/>
<line x1="324.1" y1="377.82" x2="324.1" y2="375.44" stroke="#000" stroke-width="1"/>
<line x1="318.55" y1="375.44" x2="329.66" y2="375.44" stroke="#000" stroke-width="1.1"/>
<rect x="314.62" y="378.44" width="18.95" height="54.45" fill="#0c0808" stroke="#000" stroke-width="1.25"/>
<line x1="362.3" y1="360.14" x2="362.3" y2="356.74" stroke="#000" stroke-width="1"/>
<line x1="356.85" y1="356.74" x2="367.74" y2="356.74" stroke="#000" stroke-width="1.1"/>
<rect x="353.02" y="360.76" width="18.55" height="72.13" fill="#ffffff" stroke="#000" stroke-width="1.25"/>
<line x1="381.4" y1="405.7" x2="381.4" y2="403.66" stroke="#000" stroke-width="1"/>
<line x1="376.34" y1="403.66" x2="386.46" y2="403.66" stroke="#000" stroke-width="1.1"/>
<rect x="372.82" y="406.32" width="17.15" height="26.57" fill="#a3a3a7" stroke="#000" stroke-width="1.25"/>
<line x1="400.65" y1="387" x2="400.65" y2="386.66" stroke="#000" stroke-width="1"/>
<line x1="395.12" y1="386.66" x2="406.18" y2="386.66" stroke="#000" stroke-width="1.1"/>
<rect x="391.23" y="387.62" width="18.85" height="45.27" fill="#0c0808" stroke="#000" stroke-width="1.25"/>
<line x1="265.9" y1="432.9" x2="420.2" y2="432.9" stroke="#1a1a1a" stroke-width="1.3"/>
<text x="237.22" y="381.8" font-size="8.6" font-weight="bold" text-anchor="middle" textLength="105" lengthAdjust="spacingAndGlyphs" transform="rotate(-90 237.22 381.8)">Relative mRNA expression</text>
<text x="247.72" y="381.8" font-size="8.6" font-weight="bold" text-anchor="middle" textLength="45" lengthAdjust="spacingAndGlyphs" transform="rotate(-90 247.72 381.8)">(of GAPDH)</text>
<text x="305" y="444.25" font-size="8.2" font-weight="bold" text-anchor="middle" textLength="29" lengthAdjust="spacingAndGlyphs">Female</text>
<text x="381.3" y="444.25" font-size="8.2" font-weight="bold" text-anchor="middle" textLength="19.5" lengthAdjust="spacingAndGlyphs">Male</text>
<polygon points="302.45,391.65 303.17,393.01 304.68,393.27 303.61,394.38 303.83,395.9 302.45,395.22 301.07,395.9 301.29,394.38 300.22,393.27 301.73,393.01" fill="#111"/>
<polygon points="307.55,391.65 308.27,393.01 309.78,393.27 308.71,394.38 308.93,395.9 307.55,395.22 306.17,395.9 306.39,394.38 305.32,393.27 306.83,393.01" fill="#111"/>
<polygon points="322.05,363.65 322.77,365.01 324.28,365.27 323.21,366.38 323.43,367.9 322.05,367.22 320.67,367.9 320.89,366.38 319.82,365.27 321.33,365.01" fill="#111"/>
<polygon points="327.15,363.65 327.87,365.01 329.38,365.27 328.31,366.38 328.53,367.9 327.15,367.22 325.77,367.9 325.99,366.38 324.92,365.27 326.43,365.01" fill="#111"/>
<polygon points="379.15,391.65 379.87,393.01 381.38,393.27 380.31,394.38 380.53,395.9 379.15,395.22 377.77,395.9 377.99,394.38 376.92,393.27 378.43,393.01" fill="#111"/>
<polygon points="384.25,391.65 384.97,393.01 386.48,393.27 385.41,394.38 385.63,395.9 384.25,395.22 382.87,395.9 383.09,394.38 382.02,393.27 383.53,393.01" fill="#111"/>
<polygon points="398.05,373.65 398.77,375.01 400.28,375.27 399.21,376.38 399.43,377.9 398.05,377.22 396.67,377.9 396.89,376.38 395.82,375.27 397.33,375.01" fill="#111"/>
<polygon points="403.15,373.65 403.87,375.01 405.38,375.27 404.31,376.38 404.53,377.9 403.15,377.22 401.77,377.9 401.99,376.38 400.92,375.27 402.43,375.01" fill="#111"/>
<text x="440.5" y="307.3" font-size="12.6" font-weight="bold" fill="#000">J</text>
<text x="563.3" y="318.03" font-size="9.8" font-weight="bold" text-anchor="middle" textLength="34.5" lengthAdjust="spacingAndGlyphs">abcb1b</text>
<line x1="486.4" y1="330.4" x2="486.4" y2="433.4" stroke="#1a1a1a" stroke-width="1.3"/>
<line x1="483.4" y1="330.9" x2="486.4" y2="330.9" stroke="#1a1a1a" stroke-width="1.3"/>
<text transform="translate(482.5 333.66) scale(0.84 1)" font-size="8.61" font-weight="bold" text-anchor="end" fill="#111">1.5</text>
<line x1="483.4" y1="364.9" x2="486.4" y2="364.9" stroke="#1a1a1a" stroke-width="1.3"/>
<text transform="translate(482.5 367.66) scale(0.84 1)" font-size="8.61" font-weight="bold" text-anchor="end" fill="#111">1.0</text>
<line x1="483.4" y1="398.9" x2="486.4" y2="398.9" stroke="#1a1a1a" stroke-width="1.3"/>
<text transform="translate(482.5 401.66) scale(0.84 1)" font-size="8.61" font-weight="bold" text-anchor="end" fill="#111">0.5</text>
<line x1="483.4" y1="432.9" x2="486.4" y2="432.9" stroke="#1a1a1a" stroke-width="1.3"/>
<text transform="translate(482.5 435.66) scale(0.84 1)" font-size="8.61" font-weight="bold" text-anchor="end" fill="#111">0.0</text>
<line x1="505.85" y1="349.6" x2="505.85" y2="347.22" stroke="#000" stroke-width="1"/>
<line x1="500.43" y1="347.22" x2="511.27" y2="347.22" stroke="#000" stroke-width="1.1"/>
<rect x="496.62" y="350.22" width="18.45" height="82.68" fill="#ffffff" stroke="#000" stroke-width="1.25"/>
<line x1="524.85" y1="391.42" x2="524.85" y2="390.4" stroke="#000" stroke-width="1"/>
<line x1="519.82" y1="390.4" x2="529.88" y2="390.4" stroke="#000" stroke-width="1.1"/>
<rect x="516.33" y="392.04" width="17.05" height="40.86" fill="#a3a3a7" stroke="#000" stroke-width="1.25"/>
<line x1="544.1" y1="388.36" x2="544.1" y2="387.68" stroke="#000" stroke-width="1"/>
<line x1="538.54" y1="387.68" x2="549.66" y2="387.68" stroke="#000" stroke-width="1.1"/>
<rect x="534.62" y="388.98" width="18.95" height="43.92" fill="#0c0808" stroke="#000" stroke-width="1.25"/>
<line x1="582.3" y1="373.74" x2="582.3" y2="370" stroke="#000" stroke-width="1"/>
<line x1="576.85" y1="370" x2="587.75" y2="370" stroke="#000" stroke-width="1.1"/>
<rect x="573.02" y="374.37" width="18.55" height="58.53" fill="#ffffff" stroke="#000" stroke-width="1.25"/>
<line x1="601.4" y1="384.62" x2="601.4" y2="382.92" stroke="#000" stroke-width="1"/>
<line x1="596.34" y1="382.92" x2="606.46" y2="382.92" stroke="#000" stroke-width="1.1"/>
<rect x="592.83" y="385.25" width="17.15" height="47.65" fill="#a3a3a7" stroke="#000" stroke-width="1.25"/>
<line x1="620.65" y1="359.46" x2="620.65" y2="356.4" stroke="#000" stroke-width="1"/>
<line x1="615.12" y1="356.4" x2="626.18" y2="356.4" stroke="#000" stroke-width="1.1"/>
<rect x="611.23" y="360.08" width="18.85" height="72.81" fill="#0c0808" stroke="#000" stroke-width="1.25"/>
<line x1="485.9" y1="432.9" x2="640.2" y2="432.9" stroke="#1a1a1a" stroke-width="1.3"/>
<text x="457.22" y="381.8" font-size="8.6" font-weight="bold" text-anchor="middle" textLength="105" lengthAdjust="spacingAndGlyphs" transform="rotate(-90 457.22 381.8)">Relative mRNA expression</text>
<text x="467.72" y="381.8" font-size="8.6" font-weight="bold" text-anchor="middle" textLength="45" lengthAdjust="spacingAndGlyphs" transform="rotate(-90 467.72 381.8)">(of GAPDH)</text>
<text x="525" y="444.25" font-size="8.2" font-weight="bold" text-anchor="middle" textLength="29" lengthAdjust="spacingAndGlyphs">Female</text>
<text x="601.3" y="444.25" font-size="8.2" font-weight="bold" text-anchor="middle" textLength="19.5" lengthAdjust="spacingAndGlyphs">Male</text>
<polygon points="522.45,378.85 523.17,380.21 524.68,380.47 523.61,381.58 523.83,383.1 522.45,382.42 521.07,383.1 521.29,381.58 520.22,380.47 521.73,380.21" fill="#111"/>
<polygon points="527.55,378.85 528.27,380.21 529.78,380.47 528.71,381.58 528.93,383.1 527.55,382.42 526.17,383.1 526.39,381.58 525.32,380.47 526.83,380.21" fill="#111"/>
<polygon points="541.65,374.95 542.37,376.31 543.88,376.57 542.81,377.68 543.03,379.2 541.65,378.52 540.27,379.2 540.49,377.68 539.42,376.57 540.93,376.31" fill="#111"/>
<polygon points="546.75,374.95 547.47,376.31 548.98,376.57 547.91,377.68 548.13,379.2 546.75,378.52 545.37,379.2 545.59,377.68 544.52,376.57 546.03,376.31" fill="#111"/>
<polygon points="601.3,371.85 602.02,373.21 603.53,373.47 602.46,374.58 602.68,376.1 601.3,375.42 599.92,376.1 600.14,374.58 599.07,373.47 600.58,373.21" fill="#111"/>
<polygon points="620.6,344.65 621.32,346.01 622.83,346.27 621.76,347.38 621.98,348.9 620.6,348.22 619.22,348.9 619.44,347.38 618.37,346.27 619.88,346.01" fill="#111"/>
<line x1="486.4" y1="468.4" x2="486.4" y2="571" stroke="#1a1a1a" stroke-width="1.3"/>
<line x1="483.4" y1="469.1" x2="486.4" y2="469.1" stroke="#1a1a1a" stroke-width="1.3"/>
<text transform="translate(482.5 471.86) scale(0.84 1)" font-size="8.61" font-weight="bold" text-anchor="end" fill="#111">1.5</text>
<line x1="483.4" y1="502.9" x2="486.4" y2="502.9" stroke="#1a1a1a" stroke-width="1.3"/>
<text transform="translate(482.5 505.66) scale(0.84 1)" font-size="8.61" font-weight="bold" text-anchor="end" fill="#111">1.0</text>
<line x1="483.4" y1="536.7" x2="486.4" y2="536.7" stroke="#1a1a1a" stroke-width="1.3"/>
<text transform="translate(482.5 539.46) scale(0.84 1)" font-size="8.61" font-weight="bold" text-anchor="end" fill="#111">0.5</text>
<line x1="483.4" y1="570.5" x2="486.4" y2="570.5" stroke="#1a1a1a" stroke-width="1.3"/>
<text transform="translate(482.5 573.26) scale(0.84 1)" font-size="8.61" font-weight="bold" text-anchor="end" fill="#111">0.0</text>
<line x1="505.85" y1="502.9" x2="505.85" y2="500.87" stroke="#000" stroke-width="1"/>
<line x1="500.43" y1="500.87" x2="511.27" y2="500.87" stroke="#000" stroke-width="1.1"/>
<rect x="496.62" y="503.52" width="18.45" height="66.98" fill="#ffffff" stroke="#000" stroke-width="1.25"/>
<line x1="524.85" y1="525.21" x2="524.85" y2="521.15" stroke="#000" stroke-width="1"/>
<line x1="519.82" y1="521.15" x2="529.88" y2="521.15" stroke="#000" stroke-width="1.1"/>
<rect x="516.33" y="525.83" width="17.05" height="44.67" fill="#a3a3a7" stroke="#000" stroke-width="1.25"/>
<line x1="544.1" y1="519.8" x2="544.1" y2="517.1" stroke="#000" stroke-width="1"/>
<line x1="538.54" y1="517.1" x2="549.66" y2="517.1" stroke="#000" stroke-width="1.1"/>
<rect x="534.62" y="520.42" width="18.95" height="50.08" fill="#0c0808" stroke="#000" stroke-width="1.25"/>
<line x1="582.3" y1="504.93" x2="582.3" y2="502.9" stroke="#000" stroke-width="1"/>
<line x1="576.85" y1="502.9" x2="587.75" y2="502.9" stroke="#000" stroke-width="1.1"/>
<rect x="573.02" y="505.55" width="18.55" height="64.95" fill="#ffffff" stroke="#000" stroke-width="1.25"/>
<line x1="601.4" y1="537.38" x2="601.4" y2="535.35" stroke="#000" stroke-width="1"/>
<line x1="596.34" y1="535.35" x2="606.46" y2="535.35" stroke="#000" stroke-width="1.1"/>
<rect x="592.83" y="538" width="17.15" height="32.5" fill="#a3a3a7" stroke="#000" stroke-width="1.25"/>
<line x1="620.65" y1="527.91" x2="620.65" y2="525.21" stroke="#000" stroke-width="1"/>
<line x1="615.12" y1="525.21" x2="626.18" y2="525.21" stroke="#000" stroke-width="1.1"/>
<rect x="611.23" y="528.54" width="18.85" height="41.96" fill="#0c0808" stroke="#000" stroke-width="1.25"/>
<line x1="485.9" y1="570.5" x2="640.2" y2="570.5" stroke="#1a1a1a" stroke-width="1.3"/>
<text x="457.22" y="520" font-size="8.6" font-weight="bold" text-anchor="middle" textLength="130.5" lengthAdjust="spacingAndGlyphs" transform="rotate(-90 457.22 520)">Relative P-gp protien expression</text>
<text x="467.72" y="518.8" font-size="8.6" font-weight="bold" text-anchor="middle" textLength="45" lengthAdjust="spacingAndGlyphs" transform="rotate(-90 467.72 518.8)">(of GAPDH)</text>
<text x="525" y="582.25" font-size="8.2" font-weight="bold" text-anchor="middle" textLength="29" lengthAdjust="spacingAndGlyphs">Female</text>
<text x="601" y="582.45" font-size="8.2" font-weight="bold" text-anchor="middle" textLength="19.5" lengthAdjust="spacingAndGlyphs">Male</text>
<polygon points="520.45,509.15 521.17,510.51 522.68,510.77 521.61,511.88 521.83,513.4 520.45,512.72 519.07,513.4 519.29,511.88 518.22,510.77 519.73,510.51" fill="#111"/>
<polygon points="525.55,509.15 526.27,510.51 527.78,510.77 526.71,511.88 526.93,513.4 525.55,512.72 524.17,513.4 524.39,511.88 523.32,510.77 524.83,510.51" fill="#111"/>
<polygon points="544.4,504.55 545.12,505.91 546.63,506.17 545.56,507.28 545.78,508.8 544.4,508.12 543.02,508.8 543.24,507.28 542.17,506.17 543.68,505.91" fill="#111"/>
<polygon points="600.15,524.85 600.87,526.21 602.38,526.47 601.31,527.58 601.53,529.1 600.15,528.42 598.77,529.1 598.99,527.58 597.92,526.47 599.43,526.21" fill="#111"/>
<polygon points="605.25,524.85 605.97,526.21 607.48,526.47 606.41,527.58 606.63,529.1 605.25,528.42 603.87,529.1 604.09,527.58 603.02,526.47 604.53,526.21" fill="#111"/>
<polygon points="617.35,511.65 618.07,513.01 619.58,513.27 618.51,514.38 618.73,515.9 617.35,515.22 615.97,515.9 616.19,514.38 615.12,513.27 616.63,513.01" fill="#111"/>
<polygon points="622.45,511.65 623.17,513.01 624.68,513.27 623.61,514.38 623.83,515.9 622.45,515.22 621.07,515.9 621.29,514.38 620.22,513.27 621.73,513.01" fill="#111"/>
<text x="2.6" y="475.1" font-size="13.6" fill="#000" stroke="#000" stroke-width="0.35">K</text>
<text x="126.5" y="482.55" font-size="9.3" text-anchor="middle" fill="#0a0a0a" textLength="31.5" lengthAdjust="spacingAndGlyphs">Female</text>
<line x1="60.5" y1="488.4" x2="194.9" y2="488.4" stroke="#222" stroke-width="1"/>
<text x="283" y="482.55" font-size="9.3" text-anchor="middle" fill="#0a0a0a" textLength="21" lengthAdjust="spacingAndGlyphs">Male</text>
<line x1="221.8" y1="488.4" x2="356" y2="488.4" stroke="#222" stroke-width="1"/>
<text x="83.5" y="507.05" font-size="9.3" text-anchor="middle" fill="#0a0a0a" textLength="30" lengthAdjust="spacingAndGlyphs">Control</text>
<text x="125.4" y="507.05" font-size="9.3" text-anchor="middle" fill="#0a0a0a" textLength="31" lengthAdjust="spacingAndGlyphs">PCE(L)</text>
<text x="165.7" y="507.05" font-size="9.3" text-anchor="middle" fill="#0a0a0a" textLength="32.5" lengthAdjust="spacingAndGlyphs">PCE(H)</text>
<text x="242.2" y="507.05" font-size="9.3" text-anchor="middle" fill="#0a0a0a" textLength="30" lengthAdjust="spacingAndGlyphs">Control</text>
<text x="284.1" y="507.05" font-size="9.3" text-anchor="middle" fill="#0a0a0a" textLength="31" lengthAdjust="spacingAndGlyphs">PCE(L)</text>
<text x="324" y="507.05" font-size="9.3" text-anchor="middle" fill="#0a0a0a" textLength="32.5" lengthAdjust="spacingAndGlyphs">PCE(H)</text>
<text x="36.9" y="526.15" font-size="9.3" text-anchor="middle" fill="#0a0a0a" textLength="19.9" lengthAdjust="spacingAndGlyphs">P-gp</text>
<text x="36.9" y="545.55" font-size="9.3" text-anchor="middle" fill="#0a0a0a" textLength="33.8" lengthAdjust="spacingAndGlyphs">GAPDH</text>
<text x="366.1" y="525.55" font-size="9.3" fill="#0a0a0a" textLength="29.6" lengthAdjust="spacingAndGlyphs">180 kD</text>
<text x="370.5" y="545.65" font-size="9.3" fill="#0a0a0a" textLength="25.2" lengthAdjust="spacingAndGlyphs">37 kD</text>
<rect x="63" y="516.3" width="128.8" height="12.6" fill="#e9e9e9" filter="url(#bl2)"/>
<rect x="63" y="534.4" width="128.8" height="16.3" fill="#efefef" filter="url(#bl2)"/>
<rect x="225.2" y="516.3" width="127.1" height="12.6" fill="#e9e9e9" filter="url(#bl2)"/>
<rect x="225.2" y="534.4" width="127.1" height="16.3" fill="#efefef" filter="url(#bl2)"/>
<ellipse cx="74.3" cy="523" rx="6.4" ry="2.6" fill="#070707" filter="url(#bl)"/>
<ellipse cx="74.3" cy="525.8" rx="5.5" ry="1.3" fill="#8f8f8f" filter="url(#bl)"/>
<ellipse cx="87.6" cy="523" rx="6.4" ry="2.6" fill="#262626" filter="url(#bl)"/>
<ellipse cx="87.6" cy="525.8" rx="5.5" ry="1.3" fill="#9d9d9d" filter="url(#bl)"/>
<ellipse cx="100.9" cy="523" rx="6.4" ry="2.6" fill="#3f3f3f" filter="url(#bl)"/>
<ellipse cx="100.9" cy="525.8" rx="5.5" ry="1.3" fill="#a8a8a8" filter="url(#bl)"/>
<ellipse cx="113.5" cy="523" rx="6.4" ry="2.6" fill="#383838" filter="url(#bl)"/>
<ellipse cx="113.5" cy="525.8" rx="5.5" ry="1.3" fill="#a5a5a5" filter="url(#bl)"/>
<ellipse cx="126.4" cy="523" rx="6.4" ry="2.6" fill="#474747" filter="url(#bl)"/>
<ellipse cx="126.4" cy="525.8" rx="5.5" ry="1.3" fill="#acacac" filter="url(#bl)"/>
<ellipse cx="140.1" cy="523" rx="6.4" ry="2.6" fill="#939393" filter="url(#bl)"/>
<ellipse cx="140.1" cy="525.8" rx="5.5" ry="1.3" fill="#cecece" filter="url(#bl)"/>
<ellipse cx="153" cy="523" rx="6.4" ry="2.6" fill="#141414" filter="url(#bl)"/>
<ellipse cx="153" cy="525.8" rx="5.5" ry="1.3" fill="#959595" filter="url(#bl)"/>
<ellipse cx="166.7" cy="523" rx="6.4" ry="2.6" fill="#7f7f7f" filter="url(#bl)"/>
<ellipse cx="166.7" cy="525.8" rx="5.5" ry="1.3" fill="#c5c5c5" filter="url(#bl)"/>
<ellipse cx="180.2" cy="523" rx="6.4" ry="2.6" fill="#666666" filter="url(#bl)"/>
<ellipse cx="180.2" cy="525.8" rx="5.5" ry="1.3" fill="#bababa" filter="url(#bl)"/>
<ellipse cx="74.3" cy="542.6" rx="7.6" ry="3.9" fill="#000000" filter="url(#bl)"/>
<ellipse cx="87.6" cy="542.6" rx="7.6" ry="3.9" fill="#000000" filter="url(#bl)"/>
<ellipse cx="100.9" cy="542.6" rx="7.6" ry="3.9" fill="#000000" filter="url(#bl)"/>
<ellipse cx="113.5" cy="542.6" rx="7.6" ry="3.9" fill="#000000" filter="url(#bl)"/>
<ellipse cx="126.4" cy="542.6" rx="7.6" ry="3.9" fill="#000000" filter="url(#bl)"/>
<ellipse cx="140.1" cy="542.6" rx="7.6" ry="3.9" fill="#000000" filter="url(#bl)"/>
<ellipse cx="153" cy="542.6" rx="7.6" ry="3.9" fill="#000000" filter="url(#bl)"/>
<ellipse cx="166.7" cy="542.6" rx="7.6" ry="3.9" fill="#000000" filter="url(#bl)"/>
<ellipse cx="180.2" cy="542.6" rx="7.6" ry="3.9" fill="#000000" filter="url(#bl)"/>
<ellipse cx="237" cy="521.3" rx="6.4" ry="2.7" fill="#070707" filter="url(#bl)"/>
<ellipse cx="250.2" cy="521.3" rx="6.4" ry="2.7" fill="#070707" filter="url(#bl)"/>
<ellipse cx="262.6" cy="521.3" rx="6.4" ry="2.7" fill="#0c0c0c" filter="url(#bl)"/>
<ellipse cx="275.3" cy="521.3" rx="6.4" ry="2.7" fill="#c6c6c6" filter="url(#bl)"/>
<ellipse cx="288.6" cy="521.3" rx="6.4" ry="2.7" fill="#b2b2b2" filter="url(#bl)"/>
<ellipse cx="300.8" cy="521.3" rx="6.4" ry="2.7" fill="#939393" filter="url(#bl)"/>
<ellipse cx="315.6" cy="521.3" rx="6.4" ry="2.7" fill="#0c0c0c" filter="url(#bl)"/>
<ellipse cx="328.4" cy="521.3" rx="6.4" ry="2.7" fill="#0c0c0c" filter="url(#bl)"/>
<ellipse cx="341.3" cy="521.3" rx="6.4" ry="2.7" fill="#070707" filter="url(#bl)"/>
<ellipse cx="288.6" cy="520.3" rx="3" ry="1" fill="#666666" filter="url(#bl)"/>
<ellipse cx="237" cy="541.9" rx="7.6" ry="3.9" fill="#000000" filter="url(#bl)"/>
<ellipse cx="250.2" cy="541.9" rx="7.6" ry="3.9" fill="#000000" filter="url(#bl)"/>
<ellipse cx="262.6" cy="541.9" rx="7.6" ry="3.9" fill="#000000" filter="url(#bl)"/>
<ellipse cx="275.3" cy="541.9" rx="7.6" ry="3.9" fill="#000000" filter="url(#bl)"/>
<ellipse cx="288.6" cy="541.9" rx="7.6" ry="3.9" fill="#000000" filter="url(#bl)"/>
<ellipse cx="300.8" cy="541.9" rx="7.6" ry="3.9" fill="#000000" filter="url(#bl)"/>
<ellipse cx="315.6" cy="541.9" rx="7.6" ry="3.9" fill="#000000" filter="url(#bl)"/>
<ellipse cx="328.4" cy="541.9" rx="7.6" ry="3.9" fill="#000000" filter="url(#bl)"/>
<ellipse cx="341.3" cy="541.9" rx="7.6" ry="3.9" fill="#000000" filter="url(#bl)"/>
<text x="2.6" y="590.8" font-size="13.8" fill="#000" stroke="#000" stroke-width="0.35">H</text>
<text x="106.4" y="590.15" font-size="9.3" text-anchor="middle" textLength="30" lengthAdjust="spacingAndGlyphs">Control</text>
<text x="239.7" y="590.75" font-size="9.3" text-anchor="middle" textLength="31" lengthAdjust="spacingAndGlyphs">PCE(L)</text>
<text x="361.1" y="590.75" font-size="9.3" text-anchor="middle" textLength="32.5" lengthAdjust="spacingAndGlyphs">PCE(H)</text>
<text x="29.2" y="651.15" font-size="9.3" text-anchor="middle" textLength="31" lengthAdjust="spacingAndGlyphs">Female</text>
<text x="30.4" y="764.65" font-size="9.3" text-anchor="middle" textLength="21" lengthAdjust="spacingAndGlyphs">Male</text>
<clipPath id="hc0"><rect x="49" y="598" width="123" height="106"/></clipPath>
<filter id="vf0" x="0" y="0" width="1" height="1" color-interpolation-filters="sRGB"><feTurbulence type="fractalNoise" baseFrequency="0.117 0.131" numOctaves="3" seed="11" result="n0"/><feGaussianBlur in="n0" stdDeviation="1.0" result="n"/><feColorMatrix in="n" type="matrix" values="0 0 0 0 0 0 0 0 0 0 0 0 0 0 0 1 0 0 0 0" result="r"/><feComponentTransfer in="r" result="A"><feFuncA type="discrete" tableValues="0 0 0 0 0 0 0 0 0 0 1 1 1 1 1 1 1 1 1 1"/></feComponentTransfer><feComponentTransfer in="r" result="W"><feFuncA type="discrete" tableValues="0 0 0 0 0 0 0 0 0 0 0 1 1 1 1 1 1 1 1 1"/></feComponentTransfer><feMorphology in="A" operator="dilate" radius="0.7" result="D"/><feComposite in="D" in2="A" operator="out" result="E"/><feComposite in="A" in2="W" operator="out" result="H"/><feFlood flood-color="#a07e44"/><feComposite operator="in" in2="E" result="Ec"/><feFlood flood-color="#d0b27c" flood-opacity="0.5"/><feComposite operator="in" in2="H" result="Hc"/><feFlood flood-color="#f6f4f0" flood-opacity="0.65"/><feComposite operator="in" in2="W" result="Wc"/><feMerge><feMergeNode in="Wc"/><feMergeNode in="Hc"/><feMergeNode in="Ec"/></feMerge></filter>
<g clip-path="url(#hc0)">
<rect x="49" y="598" width="123" height="106" fill="#e4e1dc"/>
<ellipse cx="63.4" cy="645.8" rx="7.9" ry="4.9" fill="#d6c096" opacity="0.3"/>
<ellipse cx="150.4" cy="654.8" rx="8.2" ry="3.1" fill="#d6c096" opacity="0.3"/>
<ellipse cx="130.1" cy="616.7" rx="5.2" ry="5.1" fill="#d6c096" opacity="0.2"/>
<ellipse cx="67.7" cy="614.9" rx="5.6" ry="3.6" fill="#cfb893" opacity="0.4"/>
<ellipse cx="97.6" cy="646.5" rx="9.3" ry="5.3" fill="#cfb893" opacity="0.2"/>
<ellipse cx="130.3" cy="607.4" rx="7.2" ry="2.6" fill="#d6c096" opacity="0.4"/>
<ellipse cx="65.6" cy="612.4" rx="9.4" ry="2.9" fill="#d6c096" opacity="0.3"/>
<ellipse cx="128.8" cy="697.7" rx="7.4" ry="5" fill="#d6c096" opacity="0.2"/>
<ellipse cx="76.9" cy="664.8" rx="8" ry="4.8" fill="#bcb8cc" opacity="0.2"/>
<ellipse cx="134.7" cy="655.9" rx="10" ry="3.6" fill="#cfb893" opacity="0.2"/>
<ellipse cx="57.5" cy="627.8" rx="4.8" ry="5.4" fill="#cfb893" opacity="0.4"/>
<ellipse cx="139.1" cy="682" rx="8.6" ry="5.6" fill="#bcb8cc" opacity="0.2"/>
<ellipse cx="51.7" cy="660.9" rx="4.2" ry="5" fill="#cfb893" opacity="0.3"/>
<ellipse cx="60.1" cy="598.9" rx="9.2" ry="5.5" fill="#bcb8cc" opacity="0.3"/>
<ellipse cx="72.8" cy="686.3" rx="7" ry="3.3" fill="#bcb8cc" opacity="0.2"/>
<ellipse cx="59.2" cy="615.4" rx="3.8" ry="4.4" fill="#bcb8cc" opacity="0.2"/>
<ellipse cx="140.4" cy="605.1" rx="8" ry="4.5" fill="#bcb8cc" opacity="0.3"/>
<ellipse cx="107.4" cy="656.2" rx="6.1" ry="2.2" fill="#bcb8cc" opacity="0.3"/>
<ellipse cx="144.4" cy="708.5" rx="4.1" ry="2.2" fill="#d6c096" opacity="0.2"/>
<ellipse cx="56" cy="622.2" rx="9.6" ry="3.6" fill="#bcb8cc" opacity="0.3"/>
<ellipse cx="107.1" cy="632.9" rx="6.7" ry="4.4" fill="#cfb893" opacity="0.4"/>
<ellipse cx="99.6" cy="688.9" rx="3.5" ry="6" fill="#cfb893" opacity="0.2"/>
<ellipse cx="175.6" cy="691.5" rx="3.7" ry="2.9" fill="#bcb8cc" opacity="0.2"/>
<ellipse cx="170.9" cy="593.3" rx="3.3" ry="2.1" fill="#cfb893" opacity="0.4"/>
<ellipse cx="83.2" cy="639.7" rx="3.6" ry="3.2" fill="#bcb8cc" opacity="0.3"/>
<ellipse cx="127.3" cy="692" rx="5.5" ry="4.7" fill="#bcb8cc" opacity="0.3"/>
<ellipse cx="140.9" cy="614.4" rx="3.2" ry="4.5" fill="#d6c096" opacity="0.2"/>
<ellipse cx="150.5" cy="609.7" rx="3" ry="4.9" fill="#bcb8cc" opacity="0.3"/>
<ellipse cx="111.5" cy="613.2" rx="8.1" ry="2.8" fill="#cfb893" opacity="0.4"/>
<ellipse cx="123.9" cy="659.9" rx="3.5" ry="3.8" fill="#cfb893" opacity="0.3"/>
<ellipse cx="102.2" cy="692.3" rx="3.8" ry="3.2" fill="#bcb8cc" opacity="0.4"/>
<ellipse cx="121" cy="618.9" rx="8.6" ry="3.7" fill="#cfb893" opacity="0.2"/>
<ellipse cx="172.7" cy="601.1" rx="5.9" ry="4.3" fill="#cfb893" opacity="0.3"/>
<ellipse cx="135.6" cy="627.1" rx="3.7" ry="4.3" fill="#bcb8cc" opacity="0.4"/>
<ellipse cx="62.7" cy="681" rx="4" ry="5.8" fill="#bcb8cc" opacity="0.2"/>
<ellipse cx="119.2" cy="676" rx="3.7" ry="5.3" fill="#bcb8cc" opacity="0.4"/>
<ellipse cx="59.4" cy="699.2" rx="9.4" ry="3.1" fill="#cfb893" opacity="0.3"/>
<ellipse cx="147.7" cy="633.4" rx="9.4" ry="2.9" fill="#d6c096" opacity="0.2"/>
<ellipse cx="55.8" cy="647.5" rx="8.2" ry="3.4" fill="#d6c096" opacity="0.3"/>
<ellipse cx="109.5" cy="703.8" rx="9" ry="4.4" fill="#bcb8cc" opacity="0.2"/>
<ellipse cx="113.9" cy="704.7" rx="7.8" ry="2.2" fill="#d6c096" opacity="0.3"/>
<ellipse cx="74.9" cy="707.4" rx="3.8" ry="3.5" fill="#d6c096" opacity="0.2"/>
<ellipse cx="127.4" cy="605" rx="9.2" ry="4.8" fill="#cfb893" opacity="0.4"/>
<ellipse cx="69.5" cy="603.2" rx="7.2" ry="4.6" fill="#cfb893" opacity="0.2"/>
<ellipse cx="69.5" cy="642.2" rx="5.2" ry="2.8" fill="#d6c096" opacity="0.2"/>
<rect x="49" y="598" width="123" height="106" fill="url(#spk)" opacity="0.5"/>
<ellipse cx="131" cy="645" rx="1.5" ry="1.5" fill="#3f60c8" opacity="0.8"/>
<ellipse cx="122.7" cy="667.6" rx="2.1" ry="1.5" fill="#4a6bd0" opacity="0.8"/>
<ellipse cx="101.3" cy="638.4" rx="1.7" ry="1.2" fill="#3f60c8" opacity="0.9"/>
<ellipse cx="98.2" cy="694.4" rx="1.9" ry="1.7" fill="#3f60c8" opacity="0.9"/>
<ellipse cx="70.7" cy="668.2" rx="3.2" ry="2" fill="#8497d4" opacity="0.8"/>
<ellipse cx="75.3" cy="668.1" rx="2.7" ry="2.1" fill="#5b7bd4" opacity="0.7"/>
<ellipse cx="110.4" cy="702.7" rx="2" ry="1.9" fill="#5b7bd4" opacity="0.9"/>
<ellipse cx="105.3" cy="663.6" rx="2.2" ry="1.6" fill="#3f60c8" opacity="0.9"/>
<ellipse cx="139.8" cy="634" rx="2.3" ry="1.5" fill="#6f8ad8" opacity="0.9"/>
<ellipse cx="114.3" cy="616.7" rx="1.5" ry="1.4" fill="#5b7bd4" opacity="0.9"/>
<ellipse cx="76" cy="698.5" rx="2.4" ry="2" fill="#6f8ad8" opacity="0.8"/>
<ellipse cx="91.2" cy="673.5" rx="3.1" ry="2.6" fill="#3f60c8" opacity="0.8"/>
<ellipse cx="169.4" cy="640.8" rx="4" ry="3.9" fill="#8497d4" opacity="0.9"/>
<ellipse cx="169.6" cy="690.7" rx="1.9" ry="1.4" fill="#6f8ad8" opacity="0.8"/>
<ellipse cx="139.9" cy="664.3" rx="2.6" ry="2" fill="#5572cc" opacity="0.9"/>
<ellipse cx="71.4" cy="607.6" rx="2.3" ry="2" fill="#8497d4" opacity="0.7"/>
<ellipse cx="124.3" cy="614.5" rx="1.6" ry="1.1" fill="#6f8ad8" opacity="0.7"/>
<ellipse cx="118.2" cy="687" rx="2.5" ry="2.1" fill="#6f8ad8" opacity="0.8"/>
<ellipse cx="157.9" cy="628.5" rx="3.8" ry="3.1" fill="#3f60c8" opacity="0.9"/>
<ellipse cx="109.2" cy="673.7" rx="1.7" ry="1" fill="#5572cc" opacity="0.8"/>
<ellipse cx="50.1" cy="702.7" rx="2.5" ry="2.5" fill="#5572cc" opacity="0.8"/>
<ellipse cx="78.9" cy="698.6" rx="2.5" ry="2.3" fill="#3f60c8" opacity="0.8"/>
<ellipse cx="85.5" cy="688.6" rx="2.2" ry="2" fill="#6f8ad8" opacity="0.7"/>
<ellipse cx="119.2" cy="680.4" rx="3.7" ry="2.1" fill="#6f8ad8" opacity="0.8"/>
<ellipse cx="76.2" cy="610" rx="2" ry="1.4" fill="#5572cc" opacity="0.7"/>
<ellipse cx="124.7" cy="697.1" rx="2" ry="1.9" fill="#5b7bd4" opacity="0.8"/>
<ellipse cx="58.1" cy="622.6" rx="1.5" ry="1.5" fill="#4a6bd0" opacity="0.9"/>
<ellipse cx="142.3" cy="673.2" rx="2" ry="1.5" fill="#5572cc" opacity="0.8"/>
<ellipse cx="142.6" cy="636.1" rx="3.3" ry="2.6" fill="#6f8ad8" opacity="0.9"/>
<ellipse cx="130.4" cy="626.6" rx="2.9" ry="2.7" fill="#5572cc" opacity="0.9"/>
<ellipse cx="141.6" cy="682.2" rx="2.7" ry="2.5" fill="#5b7bd4" opacity="0.8"/>
<ellipse cx="132.1" cy="619.4" rx="1.9" ry="1.3" fill="#5b7bd4" opacity="0.8"/>
<ellipse cx="163.5" cy="628.4" rx="2.7" ry="1.8" fill="#3f60c8" opacity="0.9"/>
<ellipse cx="166.2" cy="701.7" rx="1.8" ry="1.3" fill="#6f8ad8" opacity="0.8"/>
<ellipse cx="66.4" cy="635.4" rx="2.3" ry="1.9" fill="#3f60c8" opacity="0.9"/>
<ellipse cx="83.9" cy="686.3" rx="2.8" ry="2.3" fill="#5b7bd4" opacity="0.8"/>
<ellipse cx="90.6" cy="681.8" rx="2.2" ry="1.7" fill="#5b7bd4" opacity="0.8"/>
<ellipse cx="137.8" cy="601" rx="2" ry="1.2" fill="#5b7bd4" opacity="0.8"/>
<ellipse cx="92" cy="637.7" rx="1.7" ry="1.5" fill="#5572cc" opacity="0.7"/>
<ellipse cx="106.4" cy="619.2" rx="3.7" ry="2.9" fill="#6f8ad8" opacity="0.9"/>
<ellipse cx="121.9" cy="605.6" rx="3.4" ry="2.5" fill="#8497d4" opacity="0.8"/>
<ellipse cx="138.7" cy="690.9" rx="2.4" ry="1.5" fill="#4a6bd0" opacity="0.9"/>
<ellipse cx="119.2" cy="676.5" rx="2.8" ry="2.3" fill="#8497d4" opacity="0.9"/>
<ellipse cx="113.5" cy="696.1" rx="3.2" ry="2.4" fill="#8497d4" opacity="0.9"/>
<ellipse cx="84.9" cy="662.8" rx="3.7" ry="2.3" fill="#4a6bd0" opacity="0.9"/>
<ellipse cx="100.5" cy="676.4" rx="2.5" ry="2.1" fill="#5b7bd4" opacity="0.9"/>
<ellipse cx="140.4" cy="651" rx="4" ry="3.5" fill="#6f8ad8" opacity="0.9"/>
<ellipse cx="151.5" cy="673.3" rx="2.2" ry="2" fill="#4a6bd0" opacity="0.7"/>
<ellipse cx="71.8" cy="639.2" rx="3.8" ry="2.3" fill="#5572cc" opacity="0.8"/>
<ellipse cx="87.2" cy="605.6" rx="1.6" ry="1.1" fill="#4a6bd0" opacity="0.9"/>
<ellipse cx="136.3" cy="659.9" rx="2.5" ry="2.3" fill="#4a6bd0" opacity="0.9"/>
<ellipse cx="134.3" cy="640.4" rx="2.5" ry="2.4" fill="#6f8ad8" opacity="0.7"/>
<ellipse cx="132.3" cy="661.1" rx="2.6" ry="1.8" fill="#5572cc" opacity="0.8"/>
<ellipse cx="86.2" cy="616.2" rx="2.7" ry="2.3" fill="#6f8ad8" opacity="0.7"/>
<ellipse cx="53.2" cy="668.5" rx="2.2" ry="1.8" fill="#5572cc" opacity="0.8"/>
<ellipse cx="128.2" cy="656.2" rx="2.1" ry="1.8" fill="#4a6bd0" opacity="0.8"/>
<ellipse cx="94.2" cy="692.2" rx="2.1" ry="1.4" fill="#4a6bd0" opacity="0.8"/>
<ellipse cx="137.2" cy="676" rx="1.6" ry="1.6" fill="#4a6bd0" opacity="0.8"/>
<ellipse cx="169.8" cy="681.2" rx="2.4" ry="1.8" fill="#5572cc" opacity="0.8"/>
<ellipse cx="110" cy="624.6" rx="2.7" ry="1.6" fill="#3f60c8" opacity="0.7"/>
<ellipse cx="156.5" cy="601.2" rx="1.6" ry="1.1" fill="#6f8ad8" opacity="0.9"/>
<ellipse cx="149.8" cy="602.2" rx="2.3" ry="1.6" fill="#4a6bd0" opacity="0.7"/>
<ellipse cx="130.6" cy="649.1" rx="2.2" ry="1.5" fill="#5572cc" opacity="0.9"/>
<ellipse cx="51.3" cy="638.1" rx="2.3" ry="1.6" fill="#3f60c8" opacity="0.8"/>
<ellipse cx="139.8" cy="662.1" rx="2.6" ry="2.5" fill="#8497d4" opacity="0.9"/>
<ellipse cx="148.5" cy="598.2" rx="1.6" ry="1.5" fill="#8497d4" opacity="0.7"/>
<ellipse cx="71.7" cy="670.8" rx="1.8" ry="1.5" fill="#5b7bd4" opacity="0.8"/>
<ellipse cx="148.1" cy="617.1" rx="2.6" ry="2.1" fill="#5b7bd4" opacity="0.8"/>
<ellipse cx="128" cy="612.1" rx="3.9" ry="3.4" fill="#6f8ad8" opacity="0.8"/>
<ellipse cx="128.5" cy="689.9" rx="1.7" ry="1.1" fill="#3f60c8" opacity="0.9"/>
<ellipse cx="53.7" cy="609" rx="2.4" ry="1.8" fill="#6f8ad8" opacity="0.9"/>
<ellipse cx="166.6" cy="628" rx="1.7" ry="1.2" fill="#8497d4" opacity="0.7"/>
<ellipse cx="52" cy="629.6" rx="1.6" ry="1.2" fill="#3f60c8" opacity="0.8"/>
<ellipse cx="89.5" cy="661.8" rx="2.6" ry="1.8" fill="#5b7bd4" opacity="0.7"/>
<ellipse cx="100.9" cy="611.1" rx="2.6" ry="1.6" fill="#6f8ad8" opacity="0.7"/>
<ellipse cx="155.4" cy="686.5" rx="2.1" ry="2.1" fill="#3f60c8" opacity="0.8"/>
<ellipse cx="115.5" cy="694.1" rx="1.8" ry="1.5" fill="#4a6bd0" opacity="0.9"/>
<ellipse cx="140.2" cy="652.5" rx="2.4" ry="2.2" fill="#4a6bd0" opacity="0.7"/>
<ellipse cx="103.7" cy="669.2" rx="2.1" ry="1.7" fill="#5b7bd4" opacity="0.8"/>
<ellipse cx="82" cy="630.2" rx="2.3" ry="1.9" fill="#5572cc" opacity="0.8"/>
<ellipse cx="78.2" cy="609" rx="1.7" ry="1" fill="#6f8ad8" opacity="0.7"/>
<ellipse cx="127.3" cy="609.9" rx="1.7" ry="1.7" fill="#8497d4" opacity="0.8"/>
<ellipse cx="58.3" cy="698.5" rx="2.4" ry="2.1" fill="#8497d4" opacity="0.9"/>
<ellipse cx="113.7" cy="635.7" rx="1.8" ry="1.3" fill="#8497d4" opacity="0.9"/>
<ellipse cx="109.9" cy="599.2" rx="1.8" ry="1.2" fill="#3f60c8" opacity="0.7"/>
<ellipse cx="72.8" cy="632.7" rx="2.5" ry="1.6" fill="#6f8ad8" opacity="0.8"/>
<ellipse cx="78.7" cy="630.9" rx="1.6" ry="1" fill="#3f60c8" opacity="0.8"/>
<ellipse cx="79.2" cy="645.3" rx="3.5" ry="3.2" fill="#3f60c8" opacity="0.8"/>
<ellipse cx="99.4" cy="691.3" rx="2.2" ry="1.4" fill="#4a6bd0" opacity="0.8"/>
<ellipse cx="108" cy="698.8" rx="2.7" ry="2.5" fill="#8497d4" opacity="0.9"/>
<ellipse cx="75.4" cy="603.3" rx="1.8" ry="1.6" fill="#3f60c8" opacity="0.7"/>
<ellipse cx="113.6" cy="679.9" rx="2.5" ry="2.2" fill="#8497d4" opacity="0.8"/>
<ellipse cx="124.6" cy="694.7" rx="2" ry="1.8" fill="#5572cc" opacity="0.8"/>
<ellipse cx="76.8" cy="634.9" rx="1.8" ry="1.1" fill="#4a6bd0" opacity="0.7"/>
<ellipse cx="61.6" cy="683.3" rx="2.6" ry="2.6" fill="#3f60c8" opacity="0.7"/>
<ellipse cx="111.4" cy="627.2" rx="1.9" ry="1.6" fill="#4a6bd0" opacity="0.9"/>
<ellipse cx="105.3" cy="667.9" rx="1.5" ry="1.1" fill="#5b7bd4" opacity="0.8"/>
<ellipse cx="134.8" cy="642.6" rx="2.1" ry="1.4" fill="#5b7bd4" opacity="0.8"/>
<ellipse cx="52.9" cy="628.1" rx="2.3" ry="1.8" fill="#6f8ad8" opacity="0.9"/>
<ellipse cx="71.1" cy="636.2" rx="2.1" ry="1.2" fill="#6f8ad8" opacity="0.8"/>
<ellipse cx="79.9" cy="657.9" rx="1.5" ry="0.9" fill="#5572cc" opacity="0.8"/>
<ellipse cx="63.1" cy="640.9" rx="1.8" ry="1.8" fill="#5b7bd4" opacity="0.9"/>
<ellipse cx="63.4" cy="631.6" rx="2.6" ry="2.5" fill="#4a6bd0" opacity="0.8"/>
<ellipse cx="171" cy="626" rx="2.2" ry="2.2" fill="#5b7bd4" opacity="0.7"/>
<ellipse cx="78.7" cy="601.8" rx="2.4" ry="2.4" fill="#6f8ad8" opacity="0.8"/>
<ellipse cx="157.4" cy="620.3" rx="2.3" ry="1.3" fill="#8497d4" opacity="0.9"/>
<ellipse cx="170.2" cy="671.9" rx="2.1" ry="1.7" fill="#3f60c8" opacity="0.9"/>
<ellipse cx="101.7" cy="672.4" rx="2.6" ry="1.5" fill="#5572cc" opacity="0.9"/>
<ellipse cx="79.3" cy="650.1" rx="1.9" ry="1.1" fill="#4a6bd0" opacity="0.8"/>
<ellipse cx="76.2" cy="685.9" rx="1.7" ry="1.1" fill="#5b7bd4" opacity="0.9"/>
<ellipse cx="133.6" cy="604.1" rx="2.3" ry="1.5" fill="#8497d4" opacity="0.7"/>
<ellipse cx="159.7" cy="697.2" rx="2" ry="1.6" fill="#3f60c8" opacity="0.7"/>
<ellipse cx="154.2" cy="677.9" rx="2.7" ry="2.7" fill="#5572cc" opacity="0.9"/>
<ellipse cx="56.8" cy="679.9" rx="1.8" ry="1.4" fill="#4a6bd0" opacity="0.8"/>
<ellipse cx="88.1" cy="627.7" rx="2.7" ry="2.6" fill="#5b7bd4" opacity="0.8"/>
<ellipse cx="163.9" cy="650.8" rx="2.5" ry="2.3" fill="#5b7bd4" opacity="0.9"/>
<ellipse cx="132.5" cy="677.2" rx="2.5" ry="2.1" fill="#5572cc" opacity="0.7"/>
<ellipse cx="128.6" cy="649" rx="2.4" ry="1.4" fill="#5572cc" opacity="0.9"/>
<ellipse cx="67.8" cy="692.1" rx="2.4" ry="1.4" fill="#5572cc" opacity="0.9"/>
<ellipse cx="99.2" cy="638.2" rx="1.6" ry="1.6" fill="#8497d4" opacity="0.9"/>
<ellipse cx="168.7" cy="602.6" rx="1.8" ry="1.3" fill="#8497d4" opacity="0.8"/>
<ellipse cx="104.5" cy="703.1" rx="2.4" ry="2" fill="#5b7bd4" opacity="0.8"/>
<ellipse cx="91.6" cy="633.7" rx="2.3" ry="1.3" fill="#8497d4" opacity="0.7"/>
<ellipse cx="161" cy="676" rx="2.6" ry="2.4" fill="#6f8ad8" opacity="0.9"/>
<ellipse cx="53.8" cy="629.4" rx="1.7" ry="1.4" fill="#5572cc" opacity="0.9"/>
<ellipse cx="163.9" cy="663.9" rx="1.6" ry="1.2" fill="#5b7bd4" opacity="0.8"/>
<ellipse cx="116.3" cy="675.7" rx="2.5" ry="2.2" fill="#4a6bd0" opacity="0.9"/>
<ellipse cx="169.5" cy="675.9" rx="3" ry="1.7" fill="#5b7bd4" opacity="0.8"/>
<ellipse cx="69.2" cy="657" rx="1.9" ry="1.8" fill="#5572cc" opacity="0.7"/>
<ellipse cx="58.1" cy="671.3" rx="2" ry="1.4" fill="#6f8ad8" opacity="0.9"/>
<ellipse cx="124.3" cy="609.3" rx="2.7" ry="1.6" fill="#5b7bd4" opacity="0.7"/>
<ellipse cx="117" cy="655.2" rx="2.8" ry="2.4" fill="#6f8ad8" opacity="0.9"/>
<ellipse cx="153.6" cy="696.4" rx="2.1" ry="1.5" fill="#4a6bd0" opacity="0.8"/>
<ellipse cx="82.1" cy="698.6" rx="2.4" ry="1.4" fill="#3f60c8" opacity="0.7"/>
<ellipse cx="169" cy="687.9" rx="2.1" ry="1.4" fill="#5b7bd4" opacity="0.7"/>
<ellipse cx="153.9" cy="643.6" rx="2.4" ry="2" fill="#8497d4" opacity="0.9"/>
<ellipse cx="51.9" cy="686.8" rx="1.6" ry="1.1" fill="#5572cc" opacity="0.7"/>
<ellipse cx="167.5" cy="644.5" rx="4" ry="3.6" fill="#5572cc" opacity="0.7"/>
<ellipse cx="76" cy="677.4" rx="2.5" ry="2.1" fill="#5572cc" opacity="0.9"/>
<ellipse cx="54.3" cy="670.4" rx="1.8" ry="1.2" fill="#6f8ad8" opacity="0.9"/>
<ellipse cx="100.6" cy="635.9" rx="3.4" ry="3.2" fill="#8497d4" opacity="0.9"/>
<ellipse cx="161.9" cy="696.2" rx="1.8" ry="1.2" fill="#5572cc" opacity="0.9"/>
<ellipse cx="75.7" cy="624" rx="2.5" ry="2.5" fill="#5572cc" opacity="0.9"/>
<ellipse cx="164.5" cy="681.6" rx="1.6" ry="1.2" fill="#6f8ad8" opacity="0.8"/>
<ellipse cx="94.6" cy="633.7" rx="1.9" ry="1.5" fill="#5b7bd4" opacity="0.9"/>
<ellipse cx="87.2" cy="675.7" rx="1.8" ry="1.5" fill="#5572cc" opacity="0.7"/>
<ellipse cx="74.8" cy="618.6" rx="2.5" ry="1.7" fill="#8497d4" opacity="0.7"/>
<ellipse cx="71.1" cy="608.3" rx="2" ry="1.3" fill="#8497d4" opacity="0.8"/>
<ellipse cx="79.4" cy="599.2" rx="2.3" ry="2" fill="#5572cc" opacity="0.8"/>
<ellipse cx="153.4" cy="652.7" rx="3.8" ry="2.4" fill="#5572cc" opacity="0.8"/>
<ellipse cx="149.5" cy="669.5" rx="2.2" ry="2.2" fill="#4a6bd0" opacity="0.8"/>
<ellipse cx="167.8" cy="687.9" rx="2.1" ry="1.2" fill="#6f8ad8" opacity="0.7"/>
<ellipse cx="89.2" cy="693.1" rx="1.8" ry="1.4" fill="#5b7bd4" opacity="0.8"/>
<ellipse cx="154.1" cy="658.2" rx="1.6" ry="1.5" fill="#5b7bd4" opacity="0.7"/>
<ellipse cx="84.6" cy="599.7" rx="2.8" ry="1.9" fill="#8497d4" opacity="0.7"/>
<ellipse cx="77.3" cy="685.8" rx="2.3" ry="1.3" fill="#6f8ad8" opacity="0.9"/>
<ellipse cx="161.6" cy="641.4" rx="2.4" ry="1.7" fill="#3f60c8" opacity="0.9"/>
<ellipse cx="154" cy="670.7" rx="1.9" ry="1.2" fill="#8497d4" opacity="0.8"/>
<ellipse cx="73.5" cy="615.1" rx="2.5" ry="2.3" fill="#4a6bd0" opacity="0.7"/>
<ellipse cx="87.5" cy="608.3" rx="2.6" ry="2.3" fill="#8497d4" opacity="0.9"/>
<ellipse cx="111" cy="610.9" rx="2.9" ry="2.4" fill="#3f60c8" opacity="0.7"/>
<ellipse cx="100.1" cy="603.6" rx="1.8" ry="1" fill="#5572cc" opacity="0.8"/>
<ellipse cx="130.9" cy="622.1" rx="2" ry="1.9" fill="#6f8ad8" opacity="0.8"/>
<ellipse cx="146" cy="634" rx="2.7" ry="1.8" fill="#8497d4" opacity="0.7"/>
<ellipse cx="85.2" cy="637.3" rx="2.4" ry="2.1" fill="#5572cc" opacity="0.9"/>
<ellipse cx="96.4" cy="663.3" rx="2.3" ry="2.2" fill="#4a6bd0" opacity="0.8"/>
<ellipse cx="169.8" cy="618.5" rx="3.2" ry="2.1" fill="#5b7bd4" opacity="0.8"/>
<ellipse cx="86" cy="635.2" rx="3.7" ry="3.2" fill="#3f60c8" opacity="0.9"/>
<ellipse cx="84.8" cy="682.3" rx="1.9" ry="1.1" fill="#4a6bd0" opacity="0.8"/>
<ellipse cx="64.7" cy="616.1" rx="2.3" ry="1.9" fill="#4a6bd0" opacity="0.8"/>
<ellipse cx="69" cy="619.3" rx="2.6" ry="1.5" fill="#6f8ad8" opacity="0.9"/>
<ellipse cx="71.2" cy="609.4" rx="2.1" ry="2" fill="#5572cc" opacity="0.7"/>
<ellipse cx="54.5" cy="635.3" rx="1.7" ry="1.5" fill="#8497d4" opacity="0.7"/>
<ellipse cx="115.9" cy="603.2" rx="2.6" ry="1.8" fill="#6f8ad8" opacity="0.9"/>
<ellipse cx="98.5" cy="696.8" rx="1.7" ry="1" fill="#8497d4" opacity="0.9"/>
<ellipse cx="119.6" cy="688" rx="2.6" ry="2.5" fill="#3f60c8" opacity="0.7"/>
<ellipse cx="109.7" cy="675.6" rx="2.5" ry="2" fill="#5572cc" opacity="0.9"/>
<ellipse cx="166.1" cy="690" rx="3.9" ry="2.4" fill="#5572cc" opacity="0.9"/>
<ellipse cx="137.8" cy="668.6" rx="2.4" ry="2.3" fill="#4a6bd0" opacity="0.8"/>
<ellipse cx="66.5" cy="682.6" rx="2.7" ry="1.5" fill="#8497d4" opacity="0.8"/>
<ellipse cx="75.7" cy="650.8" rx="2.1" ry="1.9" fill="#8497d4" opacity="0.7"/>
<ellipse cx="57.8" cy="618.6" rx="2.6" ry="1.8" fill="#4a6bd0" opacity="0.9"/>
<ellipse cx="111.8" cy="645.5" rx="1.7" ry="1.4" fill="#5572cc" opacity="0.7"/>
<ellipse cx="161" cy="696.9" rx="2" ry="1.8" fill="#5572cc" opacity="0.9"/>
<ellipse cx="103.3" cy="615.7" rx="2.5" ry="1.5" fill="#4a6bd0" opacity="0.8"/>
<ellipse cx="156.5" cy="684.8" rx="2.3" ry="1.7" fill="#5572cc" opacity="0.9"/>
<ellipse cx="56.1" cy="663.5" rx="2" ry="1.4" fill="#4a6bd0" opacity="0.8"/>
<ellipse cx="143.6" cy="679.4" rx="2.1" ry="1.2" fill="#3f60c8" opacity="0.7"/>
<ellipse cx="171.4" cy="632.7" rx="1.6" ry="1.2" fill="#4a6bd0" opacity="0.9"/>
<ellipse cx="166.7" cy="642" rx="2.6" ry="1.7" fill="#4a6bd0" opacity="0.7"/>
<ellipse cx="129.2" cy="653.1" rx="2.1" ry="1.4" fill="#8497d4" opacity="0.8"/>
<ellipse cx="134.9" cy="613.6" rx="2.5" ry="1.6" fill="#3f60c8" opacity="0.9"/>
<ellipse cx="58" cy="685" rx="2" ry="1.9" fill="#5572cc" opacity="0.8"/>
<ellipse cx="125.2" cy="646.5" rx="2.6" ry="1.6" fill="#8497d4" opacity="0.8"/>
<ellipse cx="73.3" cy="640.9" rx="3.5" ry="3.3" fill="#5b7bd4" opacity="0.8"/>
<ellipse cx="171.1" cy="624.2" rx="1.7" ry="1.3" fill="#4a6bd0" opacity="0.9"/>
<ellipse cx="124.9" cy="681.1" rx="2.6" ry="2.2" fill="#5572cc" opacity="0.7"/>
<ellipse cx="88.8" cy="669.7" rx="1.8" ry="1.7" fill="#5b7bd4" opacity="0.8"/>
<ellipse cx="147.2" cy="636.2" rx="1.7" ry="1.4" fill="#6f8ad8" opacity="0.9"/>
<ellipse cx="92.5" cy="636.8" rx="2" ry="2" fill="#5572cc" opacity="0.9"/>
<ellipse cx="156.5" cy="667.3" rx="2.7" ry="2" fill="#8497d4" opacity="0.9"/>
<ellipse cx="91.6" cy="637.9" rx="2.4" ry="2.1" fill="#5b7bd4" opacity="0.8"/>
<ellipse cx="112.5" cy="683.3" rx="2" ry="1.6" fill="#8497d4" opacity="0.8"/>
<ellipse cx="158.3" cy="682.6" rx="2.2" ry="1.4" fill="#8497d4" opacity="0.8"/>
<ellipse cx="89.6" cy="665.4" rx="2.4" ry="2.4" fill="#8497d4" opacity="0.9"/>
<ellipse cx="167" cy="619.3" rx="2.7" ry="1.5" fill="#6f8ad8" opacity="0.8"/>
<ellipse cx="82.2" cy="624.9" rx="1.9" ry="1.5" fill="#6f8ad8" opacity="0.9"/>
<ellipse cx="158.4" cy="659.4" rx="3.5" ry="3" fill="#4a6bd0" opacity="0.9"/>
<ellipse cx="75.1" cy="641.2" rx="1.7" ry="1.1" fill="#5572cc" opacity="0.9"/>
<ellipse cx="55.5" cy="650.8" rx="1.7" ry="0.9" fill="#8497d4" opacity="0.8"/>
<ellipse cx="162.2" cy="642.9" rx="2.6" ry="2.6" fill="#6f8ad8" opacity="0.9"/>
<ellipse cx="150.6" cy="668.3" rx="2.2" ry="1.3" fill="#6f8ad8" opacity="0.9"/>
<ellipse cx="163.6" cy="664.8" rx="2.1" ry="1.4" fill="#8497d4" opacity="0.8"/>
<ellipse cx="95.5" cy="655.5" rx="2.1" ry="1.9" fill="#6f8ad8" opacity="0.9"/>
<ellipse cx="90" cy="699.4" rx="2.8" ry="2.2" fill="#6f8ad8" opacity="0.8"/>
<ellipse cx="63.8" cy="674.7" rx="1.9" ry="1.2" fill="#4a6bd0" opacity="0.7"/>
<ellipse cx="106.7" cy="659.7" rx="1.6" ry="1.5" fill="#5572cc" opacity="0.9"/>
<ellipse cx="155.1" cy="675.1" rx="1.8" ry="1.1" fill="#4a6bd0" opacity="0.7"/>
<ellipse cx="119.4" cy="622.1" rx="2" ry="1.7" fill="#8497d4" opacity="0.9"/>
<ellipse cx="115.1" cy="600.9" rx="2.3" ry="2.2" fill="#8497d4" opacity="0.9"/>
<ellipse cx="122.8" cy="600.7" rx="2.1" ry="1.9" fill="#3f60c8" opacity="0.8"/>
<ellipse cx="76.6" cy="697.1" rx="1.8" ry="1.2" fill="#5b7bd4" opacity="0.7"/>
<ellipse cx="146.3" cy="603.4" rx="2.8" ry="2" fill="#8497d4" opacity="0.8"/>
<ellipse cx="103.7" cy="690.3" rx="2.5" ry="2.4" fill="#5572cc" opacity="0.9"/>
<ellipse cx="121.5" cy="697.5" rx="1.8" ry="1.5" fill="#5572cc" opacity="0.7"/>
<ellipse cx="87.2" cy="692.8" rx="1.5" ry="0.9" fill="#3f60c8" opacity="0.9"/>
<ellipse cx="77.2" cy="649" rx="2.7" ry="2.4" fill="#5572cc" opacity="0.8"/>
<ellipse cx="103.5" cy="687.3" rx="1.8" ry="1.1" fill="#4a6bd0" opacity="0.9"/>
<ellipse cx="143.3" cy="700.1" rx="2.2" ry="1.9" fill="#4a6bd0" opacity="0.7"/>
<ellipse cx="50.9" cy="679.1" rx="2" ry="1.6" fill="#4a6bd0" opacity="0.7"/>
<ellipse cx="160.4" cy="618.4" rx="2.7" ry="1.5" fill="#5b7bd4" opacity="0.7"/>
<rect x="18.25" y="558.75" width="184.5" height="184.5" fill="#000" filter="url(#vf0)" transform="rotate(0 110.5 651)"/>
<path d="M0 0L-4 -2.8L-3.4 -1L-9 -1.2L-9 1.2L-3.4 1L-4 2.8Z" fill="#000" transform="translate(68.2 639.7) rotate(241) scale(1.15 1.3)"/>
<path d="M0 0L-4 -2.8L-3.4 -1L-9 -1.2L-9 1.2L-3.4 1L-4 2.8Z" fill="#000" transform="translate(118.2 641.7) rotate(243) scale(1.15 1.3)"/>
<rect x="144" y="693.5" width="23" height="4" fill="#ffffff" stroke="#000" stroke-width="1"/>
<text x="155.5" y="696.6" font-size="2.6" text-anchor="middle" fill="#000">100 μm</text>
</g>
<clipPath id="hc1"><rect x="177" y="598" width="124" height="106"/></clipPath>
<filter id="vf1" x="0" y="0" width="1" height="1" color-interpolation-filters="sRGB"><feTurbulence type="fractalNoise" baseFrequency="0.097 0.179" numOctaves="3" seed="12" result="n0"/><feGaussianBlur in="n0" stdDeviation="1.0" result="n"/><feColorMatrix in="n" type="matrix" values="0 0 0 0 0 0 0 0 0 0 0 0 0 0 0 1 0 0 0 0" result="r"/><feComponentTransfer in="r" result="A"><feFuncA type="discrete" tableValues="0 0 0 0 0 0 0 0 0 0 0 1 1 1 1 1 1 1 1 1"/></feComponentTransfer><feComponentTransfer in="r" result="W"><feFuncA type="discrete" tableValues="0 0 0 0 0 0 0 0 0 0 0 0 1 1 1 1 1 1 1 1"/></feComponentTransfer><feMorphology in="A" operator="dilate" radius="0.7" result="D"/><feComposite in="D" in2="A" operator="out" result="E"/><feComposite in="A" in2="W" operator="out" result="H"/><feFlood flood-color="#a07e44"/><feComposite operator="in" in2="E" result="Ec"/><feFlood flood-color="#d0b27c" flood-opacity="0.5"/><feComposite operator="in" in2="H" result="Hc"/><feFlood flood-color="#f6f4f0" flood-opacity="0.5"/><feComposite operator="in" in2="W" result="Wc"/><feMerge><feMergeNode in="Wc"/><feMergeNode in="Hc"/><feMergeNode in="Ec"/></feMerge></filter>
<g clip-path="url(#hc1)">
<rect x="177" y="598" width="124" height="106" fill="#e2ddd5"/>
<ellipse cx="249.9" cy="615.6" rx="9.5" ry="3.9" fill="#bcb8cc" opacity="0.3"/>
<ellipse cx="200.7" cy="618.7" rx="6.4" ry="5.1" fill="#cfb893" opacity="0.3"/>
<ellipse cx="230.7" cy="622.6" rx="3.6" ry="5.1" fill="#d6c096" opacity="0.3"/>
<ellipse cx="235.2" cy="630.8" rx="8.5" ry="3.7" fill="#bcb8cc" opacity="0.2"/>
<ellipse cx="234.7" cy="617.6" rx="8.8" ry="4.7" fill="#bcb8cc" opacity="0.3"/>
<ellipse cx="290.2" cy="638.8" rx="4.6" ry="2.3" fill="#cfb893" opacity="0.4"/>
<ellipse cx="228.1" cy="694.1" rx="6.7" ry="3.4" fill="#d6c096" opacity="0.2"/>
<ellipse cx="266.4" cy="594.1" rx="8.7" ry="5.9" fill="#bcb8cc" opacity="0.3"/>
<ellipse cx="209.2" cy="681.6" rx="7.8" ry="4.9" fill="#cfb893" opacity="0.3"/>
<ellipse cx="259.4" cy="648.1" rx="8.9" ry="4" fill="#cfb893" opacity="0.4"/>
<ellipse cx="196.3" cy="654.5" rx="9.7" ry="2.3" fill="#d6c096" opacity="0.3"/>
<ellipse cx="243.6" cy="674.4" rx="8.9" ry="2.5" fill="#cfb893" opacity="0.4"/>
<ellipse cx="275.8" cy="686.9" rx="4" ry="2.7" fill="#bcb8cc" opacity="0.4"/>
<ellipse cx="270.9" cy="696.5" rx="9.8" ry="5.9" fill="#cfb893" opacity="0.2"/>
<ellipse cx="192.1" cy="629.2" rx="3.5" ry="4.2" fill="#cfb893" opacity="0.4"/>
<ellipse cx="219" cy="599.7" rx="7.8" ry="3.3" fill="#cfb893" opacity="0.3"/>
<ellipse cx="192.6" cy="647.1" rx="3.8" ry="5.9" fill="#cfb893" opacity="0.4"/>
<ellipse cx="214.8" cy="604.1" rx="9.8" ry="2.7" fill="#bcb8cc" opacity="0.2"/>
<ellipse cx="225" cy="664.1" rx="7" ry="5.2" fill="#bcb8cc" opacity="0.2"/>
<ellipse cx="208.6" cy="669.6" rx="7.2" ry="3.3" fill="#bcb8cc" opacity="0.2"/>
<ellipse cx="189.9" cy="633.1" rx="9.3" ry="3.6" fill="#cfb893" opacity="0.2"/>
<ellipse cx="201.5" cy="600.7" rx="7.7" ry="2.6" fill="#d6c096" opacity="0.2"/>
<ellipse cx="175.2" cy="692.8" rx="7.7" ry="4.7" fill="#d6c096" opacity="0.3"/>
<ellipse cx="260.8" cy="656.8" rx="6.2" ry="4.2" fill="#d6c096" opacity="0.3"/>
<ellipse cx="212.4" cy="622.6" rx="4.4" ry="5.9" fill="#cfb893" opacity="0.4"/>
<ellipse cx="205" cy="660.1" rx="8.2" ry="3.8" fill="#cfb893" opacity="0.3"/>
<ellipse cx="208" cy="675.4" rx="8.4" ry="3.9" fill="#d6c096" opacity="0.4"/>
<ellipse cx="295.6" cy="599.8" rx="9.5" ry="4.7" fill="#cfb893" opacity="0.4"/>
<ellipse cx="299.9" cy="649.5" rx="3.4" ry="4.8" fill="#bcb8cc" opacity="0.2"/>
<ellipse cx="257.5" cy="673.2" rx="8.6" ry="3.4" fill="#bcb8cc" opacity="0.4"/>
<ellipse cx="191.7" cy="675.8" rx="3.8" ry="2" fill="#cfb893" opacity="0.3"/>
<ellipse cx="258.3" cy="654.7" rx="8.1" ry="4.6" fill="#d6c096" opacity="0.2"/>
<ellipse cx="294.8" cy="683.7" rx="9.3" ry="3.8" fill="#bcb8cc" opacity="0.2"/>
<ellipse cx="197.4" cy="652.9" rx="8.6" ry="4.7" fill="#bcb8cc" opacity="0.4"/>
<ellipse cx="186.1" cy="654.2" rx="5.3" ry="5.7" fill="#d6c096" opacity="0.4"/>
<ellipse cx="249.3" cy="648.8" rx="3.8" ry="6" fill="#d6c096" opacity="0.3"/>
<ellipse cx="248.5" cy="694.3" rx="7.2" ry="6" fill="#bcb8cc" opacity="0.3"/>
<ellipse cx="189.9" cy="599.9" rx="7.8" ry="2.2" fill="#cfb893" opacity="0.2"/>
<ellipse cx="210.6" cy="612.2" rx="7.6" ry="3.5" fill="#cfb893" opacity="0.4"/>
<ellipse cx="289.6" cy="675.2" rx="9.5" ry="3.3" fill="#bcb8cc" opacity="0.2"/>
<ellipse cx="212.9" cy="697.1" rx="4.7" ry="3.6" fill="#cfb893" opacity="0.3"/>
<ellipse cx="238.4" cy="649.5" rx="9.2" ry="5" fill="#d6c096" opacity="0.4"/>
<ellipse cx="197.6" cy="683.2" rx="5.2" ry="3.1" fill="#d6c096" opacity="0.4"/>
<ellipse cx="222.3" cy="622.5" rx="8.1" ry="5.8" fill="#bcb8cc" opacity="0.3"/>
<ellipse cx="275.8" cy="697.5" rx="7.3" ry="5.9" fill="#cfb893" opacity="0.4"/>
<ellipse cx="179.4" cy="670.9" rx="4.2" ry="2.1" fill="#d6c096" opacity="0.3"/>
<ellipse cx="302.1" cy="691.9" rx="3.3" ry="2.2" fill="#cfb893" opacity="0.2"/>
<ellipse cx="188.8" cy="707.4" rx="9.4" ry="2.7" fill="#d6c096" opacity="0.4"/>
<ellipse cx="278.6" cy="677.3" rx="5.6" ry="5.3" fill="#cfb893" opacity="0.2"/>
<ellipse cx="251.9" cy="692" rx="8.3" ry="4.1" fill="#d6c096" opacity="0.3"/>
<ellipse cx="295.2" cy="641.8" rx="3.3" ry="4.1" fill="#bcb8cc" opacity="0.4"/>
<ellipse cx="173.4" cy="673.8" rx="6.2" ry="3.5" fill="#cfb893" opacity="0.3"/>
<ellipse cx="220.9" cy="648.7" rx="8.4" ry="5" fill="#d6c096" opacity="0.3"/>
<ellipse cx="255.3" cy="648.9" rx="3.4" ry="4.7" fill="#bcb8cc" opacity="0.2"/>
<ellipse cx="218.3" cy="637.3" rx="6.9" ry="2.9" fill="#d6c096" opacity="0.4"/>
<rect x="177" y="598" width="124" height="106" fill="url(#spk)" opacity="0.5"/>
<ellipse cx="301" cy="655.1" rx="2" ry="1.5" fill="#3f60c8" opacity="0.9"/>
<ellipse cx="183.8" cy="676.6" rx="1.5" ry="1" fill="#5572cc" opacity="0.7"/>
<ellipse cx="192.7" cy="674.5" rx="2.3" ry="1.9" fill="#3f60c8" opacity="0.8"/>
<ellipse cx="267.7" cy="607.3" rx="2.2" ry="2.1" fill="#4a6bd0" opacity="0.9"/>
<ellipse cx="236.8" cy="700.9" rx="1.7" ry="1.3" fill="#6f8ad8" opacity="0.9"/>
<ellipse cx="198.2" cy="683.4" rx="3.1" ry="2.6" fill="#4a6bd0" opacity="0.9"/>
<ellipse cx="181.6" cy="626.3" rx="2.3" ry="2.3" fill="#6f8ad8" opacity="0.8"/>
<ellipse cx="284" cy="632" rx="2.3" ry="1.6" fill="#5572cc" opacity="0.8"/>
<ellipse cx="205" cy="630" rx="2.2" ry="1.6" fill="#3f60c8" opacity="0.9"/>
<ellipse cx="195.1" cy="701.7" rx="2.2" ry="2" fill="#3f60c8" opacity="0.8"/>
<ellipse cx="232.2" cy="696.1" rx="1.6" ry="1.2" fill="#5572cc" opacity="0.9"/>
<ellipse cx="226.2" cy="680.7" rx="2.3" ry="1.8" fill="#5572cc" opacity="0.8"/>
<ellipse cx="291.4" cy="663.2" rx="2.4" ry="1.5" fill="#8497d4" opacity="0.9"/>
<ellipse cx="279" cy="680.9" rx="1.6" ry="1.1" fill="#5572cc" opacity="0.8"/>
<ellipse cx="275.7" cy="666" rx="2.2" ry="1.9" fill="#3f60c8" opacity="0.9"/>
<ellipse cx="198.4" cy="650.6" rx="2.3" ry="1.5" fill="#6f8ad8" opacity="0.8"/>
<ellipse cx="229.1" cy="644.5" rx="1.6" ry="1.3" fill="#6f8ad8" opacity="0.7"/>
<ellipse cx="186" cy="634.8" rx="1.6" ry="0.9" fill="#6f8ad8" opacity="0.8"/>
<ellipse cx="204.7" cy="682.6" rx="2.2" ry="2.1" fill="#3f60c8" opacity="0.8"/>
<ellipse cx="212.4" cy="681" rx="2.6" ry="1.6" fill="#5572cc" opacity="0.9"/>
<ellipse cx="292.8" cy="662.8" rx="2.3" ry="1.6" fill="#5b7bd4" opacity="0.9"/>
<ellipse cx="228.6" cy="651.9" rx="1.8" ry="1.8" fill="#4a6bd0" opacity="0.8"/>
<ellipse cx="300.4" cy="618.7" rx="2.5" ry="1.5" fill="#5572cc" opacity="0.9"/>
<ellipse cx="187.1" cy="655.1" rx="1.5" ry="1" fill="#5572cc" opacity="0.7"/>
<ellipse cx="177.7" cy="665" rx="2.1" ry="1.9" fill="#6f8ad8" opacity="0.9"/>
<ellipse cx="224.5" cy="673.8" rx="2" ry="1.7" fill="#5b7bd4" opacity="0.8"/>
<ellipse cx="235.2" cy="675" rx="1.7" ry="1.1" fill="#3f60c8" opacity="0.7"/>
<ellipse cx="241.6" cy="615.1" rx="1.9" ry="1.7" fill="#6f8ad8" opacity="0.7"/>
<ellipse cx="196.9" cy="628.1" rx="2.4" ry="2.3" fill="#4a6bd0" opacity="0.9"/>
<ellipse cx="262.2" cy="663.3" rx="1.9" ry="1.7" fill="#5572cc" opacity="0.9"/>
<ellipse cx="220.3" cy="662.4" rx="2" ry="1.7" fill="#6f8ad8" opacity="0.9"/>
<ellipse cx="266.6" cy="696.7" rx="1.8" ry="1.1" fill="#4a6bd0" opacity="0.9"/>
<ellipse cx="195.7" cy="616.7" rx="2.2" ry="1.5" fill="#8497d4" opacity="0.9"/>
<ellipse cx="271.9" cy="652.5" rx="2.2" ry="1.7" fill="#5572cc" opacity="0.9"/>
<ellipse cx="196.6" cy="677.2" rx="2.2" ry="1.9" fill="#3f60c8" opacity="0.7"/>
<ellipse cx="232.9" cy="697.7" rx="1.6" ry="1.5" fill="#5572cc" opacity="0.9"/>
<ellipse cx="265.7" cy="611.7" rx="1.8" ry="1.1" fill="#4a6bd0" opacity="0.9"/>
<ellipse cx="252.9" cy="665.9" rx="2.2" ry="1.3" fill="#5572cc" opacity="0.9"/>
<ellipse cx="272.2" cy="623.7" rx="1.6" ry="1.4" fill="#3f60c8" opacity="0.9"/>
<ellipse cx="251.5" cy="682.7" rx="1.7" ry="1" fill="#3f60c8" opacity="0.9"/>
<ellipse cx="265.8" cy="663.7" rx="2.6" ry="1.8" fill="#4a6bd0" opacity="0.9"/>
<ellipse cx="272.5" cy="692.9" rx="2.2" ry="1.7" fill="#5572cc" opacity="0.8"/>
<ellipse cx="277.1" cy="680.4" rx="1.7" ry="1.2" fill="#6f8ad8" opacity="0.8"/>
<ellipse cx="266.8" cy="623.2" rx="1.7" ry="1.3" fill="#5572cc" opacity="0.8"/>
<ellipse cx="181.6" cy="664.9" rx="2.5" ry="1.4" fill="#6f8ad8" opacity="0.8"/>
<ellipse cx="245.9" cy="655.6" rx="2.1" ry="1.4" fill="#5b7bd4" opacity="0.8"/>
<ellipse cx="207.3" cy="634.2" rx="1.9" ry="1.1" fill="#8497d4" opacity="0.7"/>
<ellipse cx="205.7" cy="641.1" rx="2.4" ry="2" fill="#6f8ad8" opacity="0.7"/>
<ellipse cx="257.3" cy="702.6" rx="1.8" ry="1.4" fill="#4a6bd0" opacity="0.9"/>
<ellipse cx="264" cy="696.1" rx="2.4" ry="1.6" fill="#3f60c8" opacity="0.8"/>
<ellipse cx="267.7" cy="612.7" rx="2" ry="1.6" fill="#5b7bd4" opacity="0.9"/>
<ellipse cx="185.2" cy="609.2" rx="1.7" ry="1.3" fill="#5572cc" opacity="0.7"/>
<ellipse cx="286.8" cy="606.4" rx="2" ry="1.8" fill="#5572cc" opacity="0.9"/>
<ellipse cx="238.1" cy="621.9" rx="2.7" ry="2" fill="#3f60c8" opacity="0.9"/>
<ellipse cx="211.2" cy="659.3" rx="2.2" ry="2.1" fill="#8497d4" opacity="0.9"/>
<ellipse cx="262.3" cy="702.4" rx="2.1" ry="1.3" fill="#5b7bd4" opacity="0.9"/>
<ellipse cx="240.1" cy="683.7" rx="3.1" ry="2.4" fill="#5b7bd4" opacity="0.9"/>
<ellipse cx="252" cy="649.8" rx="1.9" ry="1.7" fill="#5572cc" opacity="0.8"/>
<ellipse cx="192.2" cy="614" rx="2.2" ry="2.2" fill="#8497d4" opacity="0.8"/>
<ellipse cx="269.6" cy="648.4" rx="2.7" ry="2.5" fill="#8497d4" opacity="0.7"/>
<ellipse cx="184.6" cy="637.7" rx="2.6" ry="2.3" fill="#6f8ad8" opacity="0.8"/>
<ellipse cx="282.9" cy="632" rx="2.2" ry="2.2" fill="#6f8ad8" opacity="0.9"/>
<ellipse cx="241.1" cy="654.4" rx="2.8" ry="2" fill="#5b7bd4" opacity="0.7"/>
<ellipse cx="240.6" cy="639.7" rx="2.2" ry="1.9" fill="#8497d4" opacity="0.9"/>
<ellipse cx="242.9" cy="606.4" rx="1.5" ry="1.4" fill="#3f60c8" opacity="0.8"/>
<ellipse cx="217.3" cy="619.1" rx="3.7" ry="2.2" fill="#5572cc" opacity="0.8"/>
<ellipse cx="238.5" cy="691" rx="2.6" ry="1.5" fill="#5b7bd4" opacity="0.7"/>
<ellipse cx="248" cy="680.4" rx="2.6" ry="2.6" fill="#6f8ad8" opacity="0.8"/>
<ellipse cx="262.7" cy="690.4" rx="1.6" ry="1" fill="#8497d4" opacity="0.7"/>
<ellipse cx="264.1" cy="655.2" rx="2.2" ry="1.4" fill="#5b7bd4" opacity="0.8"/>
<ellipse cx="206" cy="605" rx="2.1" ry="1.8" fill="#3f60c8" opacity="0.8"/>
<ellipse cx="285.9" cy="631.8" rx="2.2" ry="1.4" fill="#5572cc" opacity="0.9"/>
<ellipse cx="211.6" cy="626.8" rx="1.8" ry="1.5" fill="#8497d4" opacity="0.8"/>
<ellipse cx="228.7" cy="641.5" rx="2.9" ry="2.8" fill="#5572cc" opacity="0.8"/>
<ellipse cx="226.9" cy="621.7" rx="1.9" ry="1" fill="#5b7bd4" opacity="0.8"/>
<ellipse cx="297.8" cy="695.9" rx="2.3" ry="2" fill="#5572cc" opacity="0.8"/>
<ellipse cx="250.6" cy="605.3" rx="2" ry="1.7" fill="#3f60c8" opacity="0.9"/>
<ellipse cx="196.9" cy="611.7" rx="1.6" ry="1.1" fill="#5b7bd4" opacity="0.9"/>
<ellipse cx="189" cy="636.3" rx="1.7" ry="1.3" fill="#3f60c8" opacity="0.8"/>
<ellipse cx="178.3" cy="696.9" rx="2.1" ry="1.2" fill="#5b7bd4" opacity="0.9"/>
<ellipse cx="270" cy="682.8" rx="2.2" ry="1.7" fill="#3f60c8" opacity="0.9"/>
<ellipse cx="233.4" cy="672.1" rx="2.5" ry="1.5" fill="#3f60c8" opacity="0.8"/>
<ellipse cx="294.6" cy="698.7" rx="1.7" ry="1.2" fill="#6f8ad8" opacity="0.8"/>
<ellipse cx="277.2" cy="682.9" rx="1.6" ry="1.4" fill="#4a6bd0" opacity="0.9"/>
<ellipse cx="188.5" cy="674.3" rx="2" ry="1.7" fill="#6f8ad8" opacity="0.9"/>
<ellipse cx="185.1" cy="606.4" rx="1.7" ry="1.5" fill="#6f8ad8" opacity="0.9"/>
<ellipse cx="189.2" cy="633.5" rx="1.9" ry="1.4" fill="#4a6bd0" opacity="0.8"/>
<ellipse cx="282.2" cy="681.7" rx="1.5" ry="1.3" fill="#6f8ad8" opacity="0.9"/>
<ellipse cx="297.7" cy="665.1" rx="1.8" ry="1.2" fill="#5572cc" opacity="0.7"/>
<ellipse cx="254.3" cy="670.7" rx="2" ry="1.4" fill="#3f60c8" opacity="0.7"/>
<ellipse cx="188.1" cy="677.2" rx="3.3" ry="2.6" fill="#5572cc" opacity="0.9"/>
<ellipse cx="204.8" cy="639.2" rx="1.6" ry="1.1" fill="#5b7bd4" opacity="0.8"/>
<ellipse cx="290.6" cy="640.1" rx="1.9" ry="1.6" fill="#6f8ad8" opacity="0.7"/>
<ellipse cx="273" cy="606.9" rx="1.7" ry="1.1" fill="#5b7bd4" opacity="0.8"/>
<ellipse cx="243.7" cy="621.9" rx="1.7" ry="1.4" fill="#4a6bd0" opacity="0.8"/>
<ellipse cx="242.8" cy="660.3" rx="2.5" ry="2.1" fill="#8497d4" opacity="0.8"/>
<ellipse cx="278.4" cy="632.7" rx="3.2" ry="2.2" fill="#5572cc" opacity="0.9"/>
<ellipse cx="293.9" cy="673.2" rx="2" ry="1.5" fill="#8497d4" opacity="0.9"/>
<ellipse cx="195.4" cy="598.3" rx="2.6" ry="2.6" fill="#4a6bd0" opacity="0.7"/>
<ellipse cx="222.1" cy="624.4" rx="1.7" ry="1.4" fill="#4a6bd0" opacity="0.9"/>
<ellipse cx="225.6" cy="618" rx="2.5" ry="2.1" fill="#5b7bd4" opacity="0.8"/>
<ellipse cx="192.1" cy="623.3" rx="2.2" ry="1.8" fill="#5b7bd4" opacity="0.9"/>
<ellipse cx="288.1" cy="673.6" rx="2.9" ry="1.9" fill="#8497d4" opacity="0.8"/>
<ellipse cx="183.2" cy="647.6" rx="2" ry="1.8" fill="#8497d4" opacity="0.9"/>
<ellipse cx="211.4" cy="661" rx="2.1" ry="1.6" fill="#5572cc" opacity="0.8"/>
<ellipse cx="295.4" cy="683" rx="2.6" ry="1.7" fill="#5572cc" opacity="0.9"/>
<ellipse cx="242.8" cy="674.7" rx="2.5" ry="1.7" fill="#5b7bd4" opacity="0.8"/>
<ellipse cx="281.3" cy="686" rx="2.8" ry="1.8" fill="#5b7bd4" opacity="0.9"/>
<ellipse cx="262.8" cy="640.5" rx="3.8" ry="3.6" fill="#5b7bd4" opacity="0.8"/>
<ellipse cx="272" cy="637" rx="3.9" ry="2.5" fill="#8497d4" opacity="0.9"/>
<ellipse cx="263.5" cy="679.7" rx="2.4" ry="2.3" fill="#4a6bd0" opacity="0.9"/>
<ellipse cx="195.9" cy="618.2" rx="1.8" ry="1.5" fill="#6f8ad8" opacity="0.9"/>
<ellipse cx="279.6" cy="605" rx="3.3" ry="2.6" fill="#5572cc" opacity="0.9"/>
<ellipse cx="187.5" cy="644.3" rx="3.1" ry="3" fill="#5b7bd4" opacity="0.9"/>
<ellipse cx="287.4" cy="617.4" rx="1.5" ry="1.3" fill="#5572cc" opacity="0.7"/>
<ellipse cx="245.8" cy="598.6" rx="2.1" ry="2.1" fill="#5b7bd4" opacity="0.9"/>
<ellipse cx="280" cy="695" rx="1.5" ry="1.4" fill="#4a6bd0" opacity="0.8"/>
<ellipse cx="227.5" cy="632.1" rx="1.7" ry="1.3" fill="#8497d4" opacity="0.9"/>
<ellipse cx="226.4" cy="661" rx="2.7" ry="2.3" fill="#8497d4" opacity="0.7"/>
<ellipse cx="266.7" cy="672.1" rx="1.6" ry="1.5" fill="#5b7bd4" opacity="0.7"/>
<ellipse cx="209.5" cy="676" rx="1.6" ry="0.9" fill="#5572cc" opacity="0.8"/>
<ellipse cx="258.9" cy="690.9" rx="2.8" ry="1.7" fill="#6f8ad8" opacity="0.9"/>
<ellipse cx="273.2" cy="637.3" rx="2.2" ry="1.9" fill="#8497d4" opacity="0.8"/>
<ellipse cx="296" cy="609.4" rx="1.5" ry="1.3" fill="#6f8ad8" opacity="0.7"/>
<ellipse cx="211.3" cy="688.6" rx="1.8" ry="1" fill="#8497d4" opacity="0.8"/>
<ellipse cx="200.5" cy="673.6" rx="3.8" ry="3.3" fill="#4a6bd0" opacity="0.8"/>
<ellipse cx="218.1" cy="626.6" rx="1.8" ry="1.7" fill="#5b7bd4" opacity="0.9"/>
<ellipse cx="183.9" cy="682.8" rx="1.5" ry="1.3" fill="#5572cc" opacity="0.9"/>
<ellipse cx="210.4" cy="637.9" rx="2.8" ry="2.5" fill="#3f60c8" opacity="0.7"/>
<ellipse cx="265.9" cy="697.3" rx="1.8" ry="1.2" fill="#5b7bd4" opacity="0.8"/>
<ellipse cx="282.9" cy="639.5" rx="2.7" ry="2.1" fill="#3f60c8" opacity="0.9"/>
<ellipse cx="290.1" cy="676.9" rx="1.6" ry="1.3" fill="#5b7bd4" opacity="0.9"/>
<ellipse cx="233.4" cy="632.5" rx="1.8" ry="1.2" fill="#3f60c8" opacity="0.7"/>
<ellipse cx="224.3" cy="632.7" rx="1.9" ry="1.7" fill="#3f60c8" opacity="0.9"/>
<ellipse cx="207.4" cy="671" rx="2.8" ry="2.4" fill="#5b7bd4" opacity="0.8"/>
<ellipse cx="286.5" cy="654.3" rx="1.9" ry="1.1" fill="#3f60c8" opacity="0.8"/>
<ellipse cx="222" cy="665.4" rx="2" ry="1.3" fill="#8497d4" opacity="0.9"/>
<ellipse cx="217.4" cy="697.5" rx="2" ry="1.2" fill="#4a6bd0" opacity="0.9"/>
<ellipse cx="205.3" cy="660" rx="2.3" ry="2" fill="#6f8ad8" opacity="0.8"/>
<ellipse cx="246.8" cy="629.3" rx="3.3" ry="2.1" fill="#5572cc" opacity="0.7"/>
<ellipse cx="247.6" cy="618" rx="2.6" ry="1.8" fill="#8497d4" opacity="0.9"/>
<ellipse cx="251" cy="671.2" rx="1.9" ry="1.6" fill="#5572cc" opacity="0.9"/>
<ellipse cx="265.9" cy="677.7" rx="1.6" ry="1" fill="#6f8ad8" opacity="0.7"/>
<ellipse cx="280.4" cy="673.4" rx="2.4" ry="1.7" fill="#4a6bd0" opacity="0.8"/>
<ellipse cx="198.8" cy="649.7" rx="2.3" ry="1.7" fill="#3f60c8" opacity="0.9"/>
<ellipse cx="213.6" cy="607.8" rx="2.2" ry="1.3" fill="#8497d4" opacity="0.9"/>
<ellipse cx="207.9" cy="616.4" rx="2.7" ry="1.8" fill="#5b7bd4" opacity="0.8"/>
<ellipse cx="183.7" cy="642" rx="1.8" ry="1.1" fill="#6f8ad8" opacity="0.8"/>
<ellipse cx="189.6" cy="674.7" rx="2.3" ry="2.3" fill="#4a6bd0" opacity="0.9"/>
<ellipse cx="297.1" cy="690.9" rx="2.1" ry="1.6" fill="#3f60c8" opacity="0.7"/>
<ellipse cx="254.4" cy="672.4" rx="3.7" ry="2.2" fill="#5572cc" opacity="0.8"/>
<ellipse cx="268.6" cy="656.2" rx="2.2" ry="1.8" fill="#4a6bd0" opacity="0.8"/>
<ellipse cx="233.4" cy="676.6" rx="1.5" ry="1.4" fill="#5b7bd4" opacity="0.8"/>
<ellipse cx="213.8" cy="647.6" rx="2" ry="1.2" fill="#3f60c8" opacity="0.9"/>
<ellipse cx="276.9" cy="650.5" rx="2.7" ry="2.4" fill="#8497d4" opacity="0.9"/>
<ellipse cx="298.7" cy="637.2" rx="2.4" ry="2.1" fill="#5b7bd4" opacity="0.7"/>
<ellipse cx="241.7" cy="606.6" rx="3.6" ry="2.9" fill="#5b7bd4" opacity="0.8"/>
<ellipse cx="237.9" cy="628.7" rx="2.4" ry="2.2" fill="#3f60c8" opacity="0.8"/>
<ellipse cx="202.3" cy="599.7" rx="1.8" ry="1.3" fill="#6f8ad8" opacity="0.7"/>
<ellipse cx="277" cy="644.6" rx="2.5" ry="1.5" fill="#5b7bd4" opacity="0.8"/>
<ellipse cx="210.9" cy="601.5" rx="3.8" ry="3.5" fill="#6f8ad8" opacity="0.8"/>
<ellipse cx="234.8" cy="603.8" rx="3.8" ry="2.1" fill="#6f8ad8" opacity="0.8"/>
<ellipse cx="266.1" cy="678.9" rx="2.1" ry="1.7" fill="#3f60c8" opacity="0.9"/>
<ellipse cx="202" cy="599.9" rx="2.2" ry="2" fill="#5572cc" opacity="0.9"/>
<ellipse cx="231.7" cy="612.4" rx="1.8" ry="1.1" fill="#5572cc" opacity="0.9"/>
<ellipse cx="299.5" cy="648.3" rx="2" ry="1.9" fill="#5572cc" opacity="0.9"/>
<ellipse cx="217.2" cy="618" rx="2.7" ry="2.2" fill="#6f8ad8" opacity="0.8"/>
<ellipse cx="221.2" cy="672.9" rx="1.5" ry="1" fill="#5572cc" opacity="0.8"/>
<ellipse cx="237.5" cy="641.7" rx="3.7" ry="3.6" fill="#4a6bd0" opacity="0.8"/>
<ellipse cx="237.8" cy="635.5" rx="2.5" ry="2.4" fill="#3f60c8" opacity="0.9"/>
<ellipse cx="273.3" cy="664.3" rx="2.2" ry="1.9" fill="#6f8ad8" opacity="0.9"/>
<ellipse cx="244.5" cy="696.7" rx="1.7" ry="1.6" fill="#6f8ad8" opacity="0.8"/>
<ellipse cx="279.1" cy="670.5" rx="2.6" ry="1.9" fill="#6f8ad8" opacity="0.7"/>
<ellipse cx="231.3" cy="642.9" rx="2" ry="1.6" fill="#8497d4" opacity="0.9"/>
<ellipse cx="238.2" cy="669.5" rx="2" ry="1.5" fill="#4a6bd0" opacity="0.8"/>
<ellipse cx="187.9" cy="699.6" rx="1.7" ry="1.2" fill="#5b7bd4" opacity="0.8"/>
<ellipse cx="279.4" cy="674" rx="1.5" ry="0.9" fill="#5572cc" opacity="0.8"/>
<ellipse cx="217.6" cy="611.2" rx="1.8" ry="1.6" fill="#4a6bd0" opacity="0.8"/>
<ellipse cx="265.6" cy="606.3" rx="1.9" ry="1.1" fill="#8497d4" opacity="0.7"/>
<ellipse cx="249.9" cy="619.2" rx="2.3" ry="1.4" fill="#5572cc" opacity="0.9"/>
<ellipse cx="208" cy="606.9" rx="2.3" ry="1.4" fill="#3f60c8" opacity="0.9"/>
<ellipse cx="230.1" cy="656.4" rx="2.6" ry="1.9" fill="#3f60c8" opacity="0.7"/>
<ellipse cx="233.7" cy="646" rx="2" ry="1.6" fill="#5572cc" opacity="0.7"/>
<ellipse cx="282.6" cy="606.7" rx="1.9" ry="1.8" fill="#3f60c8" opacity="0.8"/>
<ellipse cx="213.1" cy="622.9" rx="2.5" ry="2.3" fill="#4a6bd0" opacity="0.8"/>
<ellipse cx="287.9" cy="619.8" rx="2.7" ry="2.3" fill="#5572cc" opacity="0.8"/>
<ellipse cx="247.2" cy="677.3" rx="1.8" ry="1.3" fill="#3f60c8" opacity="0.9"/>
<ellipse cx="190.1" cy="670.1" rx="2.1" ry="1.7" fill="#6f8ad8" opacity="0.9"/>
<ellipse cx="269.3" cy="681.4" rx="1.5" ry="1.1" fill="#6f8ad8" opacity="0.7"/>
<ellipse cx="270.7" cy="602.5" rx="1.6" ry="1.3" fill="#5b7bd4" opacity="0.8"/>
<ellipse cx="256.7" cy="684.8" rx="1.5" ry="1.1" fill="#4a6bd0" opacity="0.7"/>
<ellipse cx="194.9" cy="628.8" rx="2" ry="1.6" fill="#5b7bd4" opacity="0.7"/>
<ellipse cx="275.1" cy="686.7" rx="1.7" ry="1.6" fill="#5b7bd4" opacity="0.9"/>
<ellipse cx="292.3" cy="631.1" rx="2.1" ry="1.2" fill="#8497d4" opacity="0.9"/>
<ellipse cx="297.6" cy="617.3" rx="2.5" ry="1.9" fill="#5b7bd4" opacity="0.8"/>
<ellipse cx="248.5" cy="680" rx="3.1" ry="3" fill="#6f8ad8" opacity="0.8"/>
<ellipse cx="230.1" cy="682.6" rx="1.7" ry="1.6" fill="#8497d4" opacity="0.9"/>
<ellipse cx="245" cy="631.8" rx="2.7" ry="2.5" fill="#8497d4" opacity="0.9"/>
<ellipse cx="210.2" cy="685.8" rx="1.9" ry="1.8" fill="#6f8ad8" opacity="0.9"/>
<ellipse cx="214.9" cy="702.2" rx="2.1" ry="1.8" fill="#4a6bd0" opacity="0.8"/>
<ellipse cx="281.9" cy="701.5" rx="3.8" ry="3.6" fill="#5b7bd4" opacity="0.8"/>
<ellipse cx="205.9" cy="604.5" rx="2.4" ry="1.4" fill="#3f60c8" opacity="0.9"/>
<ellipse cx="262.3" cy="640.4" rx="2.5" ry="1.8" fill="#8497d4" opacity="0.8"/>
<ellipse cx="229.6" cy="639.1" rx="2.5" ry="1.7" fill="#6f8ad8" opacity="0.7"/>
<ellipse cx="267.7" cy="626.8" rx="1.8" ry="1.8" fill="#3f60c8" opacity="0.8"/>
<ellipse cx="227.6" cy="665.3" rx="2.1" ry="1.6" fill="#8497d4" opacity="0.7"/>
<ellipse cx="189.9" cy="677.8" rx="3.6" ry="2.5" fill="#5b7bd4" opacity="0.8"/>
<ellipse cx="290.4" cy="648.4" rx="2.1" ry="1.6" fill="#8497d4" opacity="0.9"/>
<ellipse cx="268.9" cy="628.2" rx="2.4" ry="1.4" fill="#4a6bd0" opacity="0.9"/>
<ellipse cx="236" cy="670.4" rx="2.2" ry="2.1" fill="#6f8ad8" opacity="0.9"/>
<ellipse cx="217.9" cy="640.5" rx="1.8" ry="1.3" fill="#4a6bd0" opacity="0.8"/>
<ellipse cx="264.2" cy="674.6" rx="2" ry="2" fill="#4a6bd0" opacity="0.9"/>
<ellipse cx="203.1" cy="599.1" rx="2.2" ry="1.9" fill="#4a6bd0" opacity="0.8"/>
<ellipse cx="297.3" cy="665.5" rx="2.1" ry="1.7" fill="#6f8ad8" opacity="0.7"/>
<ellipse cx="223.9" cy="648.3" rx="2.1" ry="1.9" fill="#5572cc" opacity="0.8"/>
<ellipse cx="297.6" cy="615.4" rx="2.7" ry="1.7" fill="#3f60c8" opacity="0.7"/>
<ellipse cx="266.4" cy="601.2" rx="2.8" ry="2.6" fill="#5b7bd4" opacity="0.9"/>
<ellipse cx="192.9" cy="643.5" rx="4" ry="2.3" fill="#3f60c8" opacity="0.9"/>
<ellipse cx="201.4" cy="644.6" rx="2.1" ry="1.2" fill="#5b7bd4" opacity="0.8"/>
<ellipse cx="187.6" cy="599.5" rx="2.3" ry="1.6" fill="#5572cc" opacity="0.8"/>
<ellipse cx="210" cy="661.6" rx="2.1" ry="1.8" fill="#3f60c8" opacity="0.9"/>
<ellipse cx="262.9" cy="616.6" rx="1.6" ry="1.3" fill="#6f8ad8" opacity="0.9"/>
<ellipse cx="292.7" cy="634.9" rx="2.8" ry="2.4" fill="#8497d4" opacity="0.7"/>
<ellipse cx="243.2" cy="622.3" rx="1.7" ry="1" fill="#5572cc" opacity="0.8"/>
<ellipse cx="187.6" cy="606" rx="2.7" ry="2" fill="#5572cc" opacity="0.9"/>
<ellipse cx="243.1" cy="634.4" rx="2" ry="1.8" fill="#5b7bd4" opacity="0.8"/>
<ellipse cx="209.2" cy="662.2" rx="2.7" ry="2.4" fill="#4a6bd0" opacity="0.8"/>
<ellipse cx="295.2" cy="645.8" rx="1.6" ry="1.2" fill="#3f60c8" opacity="0.8"/>
<ellipse cx="179.4" cy="599.2" rx="2.3" ry="1.8" fill="#8497d4" opacity="0.7"/>
<ellipse cx="224.5" cy="638" rx="2.2" ry="1.3" fill="#5572cc" opacity="0.7"/>
<ellipse cx="238.1" cy="650.9" rx="2.6" ry="1.6" fill="#5b7bd4" opacity="0.9"/>
<ellipse cx="183.7" cy="688.2" rx="2.8" ry="2.5" fill="#3f60c8" opacity="0.9"/>
<ellipse cx="211.6" cy="702.4" rx="2.3" ry="1.9" fill="#4a6bd0" opacity="0.7"/>
<ellipse cx="284.2" cy="602.2" rx="1.7" ry="1.6" fill="#8497d4" opacity="0.7"/>
<ellipse cx="271.2" cy="676.2" rx="2.3" ry="2" fill="#5b7bd4" opacity="0.9"/>
<ellipse cx="193.9" cy="700.5" rx="1.8" ry="1.6" fill="#5b7bd4" opacity="0.8"/>
<ellipse cx="211" cy="601.5" rx="4" ry="2.6" fill="#5572cc" opacity="0.9"/>
<ellipse cx="221.7" cy="624.4" rx="2.6" ry="1.6" fill="#6f8ad8" opacity="0.7"/>
<ellipse cx="277.7" cy="611.4" rx="2.2" ry="1.4" fill="#8497d4" opacity="0.7"/>
<ellipse cx="295.1" cy="667.8" rx="2.7" ry="1.5" fill="#5572cc" opacity="0.8"/>
<ellipse cx="182.8" cy="676.5" rx="1.6" ry="1.6" fill="#4a6bd0" opacity="0.9"/>
<ellipse cx="179.4" cy="602.3" rx="2" ry="1.7" fill="#8497d4" opacity="0.9"/>
<ellipse cx="209" cy="630.8" rx="2" ry="1.2" fill="#3f60c8" opacity="0.9"/>
<ellipse cx="242.4" cy="633.3" rx="1.9" ry="1.7" fill="#3f60c8" opacity="0.9"/>
<ellipse cx="241.4" cy="689.5" rx="3.1" ry="2.6" fill="#5b7bd4" opacity="0.8"/>
<ellipse cx="177.4" cy="650.9" rx="1.7" ry="1.7" fill="#6f8ad8" opacity="0.9"/>
<ellipse cx="189.3" cy="679.2" rx="2.3" ry="1.7" fill="#5b7bd4" opacity="0.9"/>
<ellipse cx="198.8" cy="616.3" rx="1.9" ry="1.8" fill="#4a6bd0" opacity="0.9"/>
<ellipse cx="254.9" cy="670.4" rx="2" ry="1.4" fill="#8497d4" opacity="0.9"/>
<ellipse cx="256.2" cy="696.5" rx="2.7" ry="1.5" fill="#8497d4" opacity="0.9"/>
<ellipse cx="207.6" cy="608" rx="1.7" ry="1" fill="#6f8ad8" opacity="0.9"/>
<ellipse cx="191" cy="628.8" rx="1.9" ry="1.5" fill="#5572cc" opacity="0.7"/>
<ellipse cx="274.7" cy="618.8" rx="2.6" ry="2.1" fill="#3f60c8" opacity="0.9"/>
<ellipse cx="247.8" cy="598.4" rx="1.8" ry="1.4" fill="#4a6bd0" opacity="0.9"/>
<ellipse cx="232.9" cy="617.7" rx="2.5" ry="1.9" fill="#6f8ad8" opacity="0.9"/>
<ellipse cx="206.2" cy="600.3" rx="2.4" ry="1.8" fill="#3f60c8" opacity="0.8"/>
<ellipse cx="245.7" cy="681.3" rx="2.5" ry="1.8" fill="#5572cc" opacity="0.9"/>
<ellipse cx="242.5" cy="639" rx="1.6" ry="1.2" fill="#3f60c8" opacity="0.9"/>
<ellipse cx="208.8" cy="627.1" rx="3.5" ry="2.5" fill="#4a6bd0" opacity="0.9"/>
<ellipse cx="180.6" cy="632.5" rx="1.8" ry="1.4" fill="#6f8ad8" opacity="0.7"/>
<ellipse cx="269.8" cy="612.3" rx="1.5" ry="1.1" fill="#8497d4" opacity="0.9"/>
<ellipse cx="246.8" cy="611.4" rx="2.7" ry="1.8" fill="#5b7bd4" opacity="0.7"/>
<ellipse cx="258.6" cy="637.7" rx="1.8" ry="1.2" fill="#3f60c8" opacity="0.7"/>
<ellipse cx="246.5" cy="628.8" rx="2.3" ry="2.3" fill="#8497d4" opacity="0.8"/>
<ellipse cx="207" cy="627.7" rx="2" ry="1.2" fill="#8497d4" opacity="0.7"/>
<ellipse cx="237.9" cy="632.3" rx="2.5" ry="2.2" fill="#5572cc" opacity="0.9"/>
<ellipse cx="281.9" cy="678.7" rx="2.4" ry="2" fill="#4a6bd0" opacity="0.8"/>
<ellipse cx="276.3" cy="697" rx="2.3" ry="1.9" fill="#5b7bd4" opacity="0.8"/>
<ellipse cx="226.8" cy="615.1" rx="1.7" ry="1.5" fill="#6f8ad8" opacity="0.9"/>
<ellipse cx="191.1" cy="675.9" rx="1.9" ry="1.5" fill="#6f8ad8" opacity="0.9"/>
<ellipse cx="181.1" cy="633.9" rx="2.2" ry="1.5" fill="#5b7bd4" opacity="0.9"/>
<ellipse cx="187.5" cy="656.6" rx="2.7" ry="2.5" fill="#5572cc" opacity="0.9"/>
<ellipse cx="283.9" cy="630.3" rx="2" ry="1.9" fill="#6f8ad8" opacity="0.7"/>
<ellipse cx="281.7" cy="668.2" rx="2.4" ry="1.6" fill="#8497d4" opacity="0.9"/>
<ellipse cx="239.6" cy="669.2" rx="2.3" ry="1.5" fill="#4a6bd0" opacity="0.7"/>
<ellipse cx="215" cy="671.1" rx="2.4" ry="1.8" fill="#5572cc" opacity="0.7"/>
<ellipse cx="237.3" cy="619.7" rx="2.4" ry="2.1" fill="#3f60c8" opacity="0.8"/>
<ellipse cx="195.5" cy="685.5" rx="2.5" ry="1.7" fill="#5b7bd4" opacity="0.9"/>
<ellipse cx="219.3" cy="651" rx="1.7" ry="0.9" fill="#6f8ad8" opacity="0.9"/>
<ellipse cx="293.1" cy="630.9" rx="2.2" ry="1.6" fill="#4a6bd0" opacity="0.7"/>
<ellipse cx="210.7" cy="677.4" rx="2.2" ry="1.4" fill="#5b7bd4" opacity="0.7"/>
<ellipse cx="287.5" cy="695.2" rx="2.2" ry="1.9" fill="#5b7bd4" opacity="0.9"/>
<ellipse cx="289.2" cy="622.9" rx="1.8" ry="1.6" fill="#4a6bd0" opacity="0.9"/>
<ellipse cx="278.7" cy="677.4" rx="1.6" ry="1" fill="#6f8ad8" opacity="0.9"/>
<ellipse cx="287.2" cy="684.3" rx="2" ry="1.4" fill="#3f60c8" opacity="0.7"/>
<ellipse cx="221" cy="611.4" rx="2.8" ry="1.6" fill="#5572cc" opacity="0.9"/>
<ellipse cx="193.7" cy="623" rx="2.1" ry="1.2" fill="#5572cc" opacity="0.8"/>
<ellipse cx="220.1" cy="626.1" rx="2.8" ry="2.5" fill="#8497d4" opacity="0.8"/>
<ellipse cx="179.6" cy="650.5" rx="2.2" ry="1.4" fill="#5b7bd4" opacity="0.8"/>
<ellipse cx="251.8" cy="606.4" rx="2.4" ry="1.8" fill="#3f60c8" opacity="0.8"/>
<ellipse cx="179.4" cy="663.4" rx="2.4" ry="2.4" fill="#6f8ad8" opacity="0.9"/>
<ellipse cx="190.5" cy="695" rx="2.7" ry="2" fill="#6f8ad8" opacity="0.9"/>
<ellipse cx="198.9" cy="646" rx="1.8" ry="1.2" fill="#5b7bd4" opacity="0.9"/>
<ellipse cx="242.3" cy="638.5" rx="2.3" ry="2.1" fill="#8497d4" opacity="0.9"/>
<ellipse cx="276.5" cy="603" rx="1.6" ry="1.4" fill="#5b7bd4" opacity="0.9"/>
<ellipse cx="275.6" cy="608.5" rx="1.7" ry="1.2" fill="#5b7bd4" opacity="0.9"/>
<ellipse cx="238.6" cy="695.8" rx="2.5" ry="1.5" fill="#6f8ad8" opacity="0.9"/>
<ellipse cx="193.1" cy="607" rx="1.5" ry="1" fill="#8497d4" opacity="0.8"/>
<ellipse cx="282.2" cy="691.3" rx="1.8" ry="1.1" fill="#3f60c8" opacity="0.8"/>
<ellipse cx="201.8" cy="669.8" rx="1.7" ry="1.5" fill="#5b7bd4" opacity="0.8"/>
<ellipse cx="254.4" cy="639.9" rx="1.7" ry="1.4" fill="#3f60c8" opacity="0.8"/>
<ellipse cx="185.7" cy="670.2" rx="2.4" ry="1.7" fill="#3f60c8" opacity="0.7"/>
<ellipse cx="275.3" cy="637.5" rx="2.1" ry="1.2" fill="#5b7bd4" opacity="0.9"/>
<ellipse cx="229" cy="658.7" rx="3.5" ry="1.9" fill="#4a6bd0" opacity="0.8"/>
<ellipse cx="194.6" cy="690" rx="2.1" ry="1.5" fill="#6f8ad8" opacity="0.9"/>
<ellipse cx="186" cy="624.2" rx="2.4" ry="1.6" fill="#3f60c8" opacity="0.9"/>
<ellipse cx="239.4" cy="642.3" rx="2.4" ry="2" fill="#5b7bd4" opacity="0.9"/>
<ellipse cx="290" cy="668.6" rx="2.5" ry="2.4" fill="#4a6bd0" opacity="0.9"/>
<ellipse cx="280" cy="627.6" rx="1.7" ry="1.7" fill="#6f8ad8" opacity="0.8"/>
<ellipse cx="283.4" cy="614.6" rx="2.6" ry="1.8" fill="#5572cc" opacity="0.8"/>
<ellipse cx="272.5" cy="623.5" rx="1.7" ry="1.1" fill="#8497d4" opacity="0.9"/>
<ellipse cx="210.9" cy="700.3" rx="1.7" ry="1.1" fill="#5b7bd4" opacity="0.9"/>
<ellipse cx="230.5" cy="688.2" rx="1.6" ry="1.4" fill="#5b7bd4" opacity="0.8"/>
<ellipse cx="180.1" cy="692.2" rx="1.7" ry="1.7" fill="#5b7bd4" opacity="0.7"/>
<ellipse cx="195.9" cy="599.8" rx="2.5" ry="1.6" fill="#4a6bd0" opacity="0.9"/>
<rect x="146" y="558" width="186" height="186" fill="#000" filter="url(#vf1)" transform="rotate(-35 239 651)"/>
<rect x="273" y="693.5" width="23" height="4" fill="#ffffff" stroke="#000" stroke-width="1"/>
<text x="284.5" y="696.6" font-size="2.6" text-anchor="middle" fill="#000">100 μm</text>
</g>
<clipPath id="hc2"><rect x="306" y="598" width="125" height="106"/></clipPath>
<filter id="vf2" x="0" y="0" width="1" height="1" color-interpolation-filters="sRGB"><feTurbulence type="fractalNoise" baseFrequency="0.110 0.123" numOctaves="3" seed="13" result="n0"/><feGaussianBlur in="n0" stdDeviation="1.0" result="n"/><feColorMatrix in="n" type="matrix" values="0 0 0 0 0 0 0 0 0 0 0 0 0 0 0 1 0 0 0 0" result="r"/><feComponentTransfer in="r" result="A"><feFuncA type="discrete" tableValues="0 0 0 0 0 0 0 0 0 0 1 1 1 1 1 1 1 1 1 1"/></feComponentTransfer><feComponentTransfer in="r" result="W"><feFuncA type="discrete" tableValues="0 0 0 0 0 0 0 0 0 0 0 1 1 1 1 1 1 1 1 1"/></feComponentTransfer><feMorphology in="A" operator="dilate" radius="0.7" result="D"/><feComposite in="D" in2="A" operator="out" result="E"/><feComposite in="A" in2="W" operator="out" result="H"/><feFlood flood-color="#a07e44"/><feComposite operator="in" in2="E" result="Ec"/><feFlood flood-color="#d0b27c" flood-opacity="0.5"/><feComposite operator="in" in2="H" result="Hc"/><feFlood flood-color="#f6f4f0" flood-opacity="0.65"/><feComposite operator="in" in2="W" result="Wc"/><feMerge><feMergeNode in="Wc"/><feMergeNode in="Hc"/><feMergeNode in="Ec"/></feMerge></filter>
<g clip-path="url(#hc2)">
<rect x="306" y="598" width="125" height="106" fill="#e4e0d9"/>
<ellipse cx="321" cy="664.5" rx="6.9" ry="4.6" fill="#d6c096" opacity="0.2"/>
<ellipse cx="340.5" cy="642.8" rx="3.3" ry="4.1" fill="#bcb8cc" opacity="0.3"/>
<ellipse cx="371.1" cy="695" rx="8.5" ry="3.8" fill="#bcb8cc" opacity="0.3"/>
<ellipse cx="312.5" cy="599.1" rx="7.3" ry="3.8" fill="#d6c096" opacity="0.3"/>
<ellipse cx="331" cy="654.5" rx="6.4" ry="3.6" fill="#d6c096" opacity="0.3"/>
<ellipse cx="310.2" cy="663.9" rx="5.6" ry="2.8" fill="#cfb893" opacity="0.3"/>
<ellipse cx="382.4" cy="690.5" rx="9.4" ry="2.7" fill="#d6c096" opacity="0.2"/>
<ellipse cx="380.5" cy="666.2" rx="3.9" ry="4.5" fill="#cfb893" opacity="0.4"/>
<ellipse cx="404.6" cy="624" rx="7.5" ry="3.9" fill="#cfb893" opacity="0.4"/>
<ellipse cx="361.4" cy="665.6" rx="7.8" ry="3.6" fill="#bcb8cc" opacity="0.3"/>
<ellipse cx="382" cy="699.1" rx="4.1" ry="5.3" fill="#bcb8cc" opacity="0.3"/>
<ellipse cx="307.5" cy="606.8" rx="9.6" ry="2.7" fill="#cfb893" opacity="0.2"/>
<ellipse cx="416.8" cy="695.4" rx="8.1" ry="3.7" fill="#cfb893" opacity="0.4"/>
<ellipse cx="324.2" cy="629.5" rx="7.6" ry="2.9" fill="#d6c096" opacity="0.3"/>
<ellipse cx="320.3" cy="648.6" rx="3.1" ry="3" fill="#d6c096" opacity="0.2"/>
<ellipse cx="316.6" cy="683" rx="5.9" ry="3.3" fill="#d6c096" opacity="0.3"/>
<ellipse cx="356.9" cy="621.2" rx="7.8" ry="5.3" fill="#d6c096" opacity="0.3"/>
<ellipse cx="304" cy="614.8" rx="7" ry="2.8" fill="#cfb893" opacity="0.3"/>
<ellipse cx="336" cy="702.2" rx="5.7" ry="5.3" fill="#bcb8cc" opacity="0.4"/>
<ellipse cx="425.1" cy="647.4" rx="4.8" ry="3.6" fill="#d6c096" opacity="0.2"/>
<ellipse cx="358.6" cy="702.4" rx="7.9" ry="5.8" fill="#d6c096" opacity="0.3"/>
<ellipse cx="365.1" cy="690.1" rx="7.8" ry="2.7" fill="#cfb893" opacity="0.2"/>
<ellipse cx="407.4" cy="673.6" rx="9.6" ry="2.6" fill="#bcb8cc" opacity="0.3"/>
<ellipse cx="382.2" cy="648.9" rx="9.7" ry="3.4" fill="#d6c096" opacity="0.2"/>
<ellipse cx="424.5" cy="645.6" rx="8.6" ry="4.9" fill="#d6c096" opacity="0.2"/>
<ellipse cx="433.2" cy="697.4" rx="9.5" ry="3.9" fill="#d6c096" opacity="0.4"/>
<ellipse cx="310" cy="680.9" rx="9.7" ry="2.1" fill="#d6c096" opacity="0.3"/>
<ellipse cx="376.1" cy="662.4" rx="4.8" ry="2.4" fill="#cfb893" opacity="0.3"/>
<ellipse cx="402.3" cy="614.4" rx="6.9" ry="2.3" fill="#cfb893" opacity="0.3"/>
<ellipse cx="315.2" cy="680.1" rx="7.6" ry="5.7" fill="#bcb8cc" opacity="0.4"/>
<ellipse cx="395.8" cy="693.6" rx="4.6" ry="5.5" fill="#cfb893" opacity="0.2"/>
<ellipse cx="346.7" cy="647.8" rx="4.8" ry="3.8" fill="#cfb893" opacity="0.2"/>
<ellipse cx="391.7" cy="638.6" rx="7.8" ry="3.4" fill="#d6c096" opacity="0.3"/>
<ellipse cx="394.5" cy="603.3" rx="8.4" ry="3.8" fill="#d6c096" opacity="0.2"/>
<ellipse cx="429" cy="596" rx="8.8" ry="6" fill="#d6c096" opacity="0.3"/>
<ellipse cx="432.2" cy="599.5" rx="9.8" ry="4.8" fill="#cfb893" opacity="0.2"/>
<ellipse cx="327.6" cy="677.8" rx="4.6" ry="3.3" fill="#bcb8cc" opacity="0.4"/>
<ellipse cx="401.4" cy="687.5" rx="9.4" ry="2.8" fill="#bcb8cc" opacity="0.2"/>
<ellipse cx="328.4" cy="667.9" rx="9" ry="5.4" fill="#d6c096" opacity="0.4"/>
<ellipse cx="336.8" cy="678.7" rx="4.4" ry="2.1" fill="#d6c096" opacity="0.2"/>
<ellipse cx="330.5" cy="671.9" rx="8.7" ry="4.8" fill="#cfb893" opacity="0.4"/>
<ellipse cx="432.3" cy="644" rx="8" ry="3" fill="#cfb893" opacity="0.3"/>
<ellipse cx="324" cy="639.4" rx="3.1" ry="4.1" fill="#bcb8cc" opacity="0.3"/>
<ellipse cx="339.2" cy="600.5" rx="4.7" ry="3.7" fill="#bcb8cc" opacity="0.4"/>
<ellipse cx="425.3" cy="704.5" rx="8.5" ry="2.3" fill="#cfb893" opacity="0.3"/>
<ellipse cx="350.5" cy="692.5" rx="8.2" ry="3.2" fill="#bcb8cc" opacity="0.2"/>
<ellipse cx="412.4" cy="652.1" rx="3.3" ry="2.7" fill="#bcb8cc" opacity="0.2"/>
<ellipse cx="333.4" cy="637.4" rx="8.9" ry="2.6" fill="#bcb8cc" opacity="0.2"/>
<ellipse cx="368.8" cy="625.8" rx="8" ry="5.7" fill="#bcb8cc" opacity="0.4"/>
<ellipse cx="352.5" cy="642" rx="8.9" ry="5.5" fill="#d6c096" opacity="0.3"/>
<rect x="306" y="598" width="125" height="106" fill="url(#spk)" opacity="0.5"/>
<ellipse cx="349.4" cy="663.6" rx="2" ry="1.3" fill="#5572cc" opacity="0.7"/>
<ellipse cx="419.7" cy="626.6" rx="2.5" ry="1.5" fill="#4a6bd0" opacity="0.8"/>
<ellipse cx="386.7" cy="617.2" rx="2" ry="1.5" fill="#3f60c8" opacity="0.8"/>
<ellipse cx="372.8" cy="686.3" rx="2.6" ry="2" fill="#4a6bd0" opacity="0.8"/>
<ellipse cx="415.9" cy="657.1" rx="2.8" ry="2.7" fill="#5572cc" opacity="0.9"/>
<ellipse cx="414.2" cy="681.2" rx="2.5" ry="2.5" fill="#4a6bd0" opacity="0.8"/>
<ellipse cx="429.1" cy="686.4" rx="1.7" ry="1.4" fill="#8497d4" opacity="0.7"/>
<ellipse cx="366.9" cy="637.4" rx="3.8" ry="3.4" fill="#3f60c8" opacity="0.9"/>
<ellipse cx="327.1" cy="694" rx="1.8" ry="1.1" fill="#5572cc" opacity="0.7"/>
<ellipse cx="348.3" cy="607.5" rx="2.1" ry="1.3" fill="#4a6bd0" opacity="0.9"/>
<ellipse cx="426" cy="609.2" rx="1.9" ry="1.9" fill="#6f8ad8" opacity="0.8"/>
<ellipse cx="381.1" cy="685.7" rx="1.8" ry="1.5" fill="#5572cc" opacity="0.9"/>
<ellipse cx="335.1" cy="650.1" rx="1.8" ry="1.2" fill="#4a6bd0" opacity="0.8"/>
<ellipse cx="349.6" cy="663.5" rx="2.6" ry="2.1" fill="#5572cc" opacity="0.9"/>
<ellipse cx="421.9" cy="695.5" rx="2.4" ry="1.7" fill="#4a6bd0" opacity="0.7"/>
<ellipse cx="390.4" cy="702" rx="2.6" ry="2.4" fill="#4a6bd0" opacity="0.7"/>
<ellipse cx="404" cy="697.7" rx="2.7" ry="2.2" fill="#6f8ad8" opacity="0.8"/>
<ellipse cx="412.1" cy="702.9" rx="1.7" ry="1.5" fill="#8497d4" opacity="0.9"/>
<ellipse cx="363.8" cy="645.6" rx="2.6" ry="1.8" fill="#4a6bd0" opacity="0.8"/>
<ellipse cx="362.6" cy="695" rx="2" ry="1.4" fill="#5b7bd4" opacity="0.9"/>
<ellipse cx="402.5" cy="618.2" rx="2.6" ry="2.5" fill="#4a6bd0" opacity="0.9"/>
<ellipse cx="411.8" cy="649.1" rx="1.8" ry="1.5" fill="#8497d4" opacity="0.7"/>
<ellipse cx="405.8" cy="657.7" rx="2.7" ry="1.8" fill="#4a6bd0" opacity="0.9"/>
<ellipse cx="367.7" cy="685.8" rx="2.5" ry="1.7" fill="#8497d4" opacity="0.7"/>
<ellipse cx="379" cy="703.9" rx="2.2" ry="1.6" fill="#5572cc" opacity="0.9"/>
<ellipse cx="386.7" cy="649.7" rx="2.6" ry="1.7" fill="#3f60c8" opacity="0.8"/>
<ellipse cx="368.9" cy="640.4" rx="2.6" ry="1.5" fill="#4a6bd0" opacity="0.9"/>
<ellipse cx="388.1" cy="616.2" rx="1.7" ry="1.3" fill="#5572cc" opacity="0.9"/>
<ellipse cx="334.9" cy="682.1" rx="3.7" ry="2.2" fill="#5b7bd4" opacity="0.9"/>
<ellipse cx="309.4" cy="703.1" rx="2.4" ry="1.6" fill="#6f8ad8" opacity="0.9"/>
<ellipse cx="399.4" cy="683.6" rx="2.3" ry="2" fill="#5b7bd4" opacity="0.8"/>
<ellipse cx="423.6" cy="672.1" rx="2.4" ry="2.4" fill="#5b7bd4" opacity="0.8"/>
<ellipse cx="402.8" cy="621.4" rx="2.8" ry="2.5" fill="#6f8ad8" opacity="0.8"/>
<ellipse cx="393.4" cy="680.8" rx="3.3" ry="2.6" fill="#3f60c8" opacity="0.9"/>
<ellipse cx="336.3" cy="640.2" rx="2.4" ry="2" fill="#5572cc" opacity="0.8"/>
<ellipse cx="393.7" cy="631" rx="2.2" ry="1.4" fill="#3f60c8" opacity="0.8"/>
<ellipse cx="333.4" cy="685.1" rx="3.7" ry="2.9" fill="#5b7bd4" opacity="0.9"/>
<ellipse cx="308" cy="638.1" rx="2.2" ry="2" fill="#5572cc" opacity="0.8"/>
<ellipse cx="343.5" cy="702" rx="2" ry="1.6" fill="#6f8ad8" opacity="0.8"/>
<ellipse cx="430.8" cy="638" rx="2.4" ry="2" fill="#5572cc" opacity="0.8"/>
<ellipse cx="385.5" cy="652.1" rx="2.1" ry="1.3" fill="#4a6bd0" opacity="0.9"/>
<ellipse cx="353.8" cy="608" rx="2" ry="1.8" fill="#4a6bd0" opacity="0.8"/>
<ellipse cx="354.8" cy="633.6" rx="2.1" ry="1.7" fill="#5b7bd4" opacity="0.9"/>
<ellipse cx="330" cy="650.1" rx="1.6" ry="1.5" fill="#5b7bd4" opacity="0.9"/>
<ellipse cx="349.2" cy="635.7" rx="2.5" ry="2.4" fill="#8497d4" opacity="0.8"/>
<ellipse cx="420.8" cy="683.2" rx="2.5" ry="2.3" fill="#4a6bd0" opacity="0.9"/>
<ellipse cx="338.7" cy="607.1" rx="2.6" ry="1.5" fill="#5b7bd4" opacity="0.8"/>
<ellipse cx="307.1" cy="637.7" rx="1.5" ry="1" fill="#5572cc" opacity="0.8"/>
<ellipse cx="320.3" cy="637.5" rx="2.5" ry="1.7" fill="#8497d4" opacity="0.8"/>
<ellipse cx="411.1" cy="645.2" rx="2.7" ry="1.5" fill="#3f60c8" opacity="0.7"/>
<ellipse cx="413.2" cy="634.6" rx="3.2" ry="1.8" fill="#5572cc" opacity="0.7"/>
<ellipse cx="401.4" cy="612.6" rx="3.4" ry="2.5" fill="#6f8ad8" opacity="0.9"/>
<ellipse cx="386.4" cy="609" rx="2.6" ry="2" fill="#3f60c8" opacity="0.9"/>
<ellipse cx="376.6" cy="682.1" rx="2.3" ry="1.5" fill="#4a6bd0" opacity="0.9"/>
<ellipse cx="425" cy="629.3" rx="2.2" ry="1.9" fill="#5572cc" opacity="0.8"/>
<ellipse cx="430.9" cy="696.5" rx="1.8" ry="1.5" fill="#8497d4" opacity="0.7"/>
<ellipse cx="380.6" cy="662.2" rx="2" ry="1.9" fill="#3f60c8" opacity="0.8"/>
<ellipse cx="418" cy="701.6" rx="1.9" ry="1.7" fill="#8497d4" opacity="0.9"/>
<ellipse cx="372.3" cy="664" rx="3.5" ry="3.2" fill="#5572cc" opacity="0.7"/>
<ellipse cx="353.3" cy="631" rx="2.2" ry="2.1" fill="#4a6bd0" opacity="0.7"/>
<ellipse cx="393.3" cy="695" rx="2" ry="1.9" fill="#4a6bd0" opacity="0.7"/>
<ellipse cx="412.2" cy="676.6" rx="2.6" ry="2.3" fill="#6f8ad8" opacity="0.9"/>
<ellipse cx="313.2" cy="604.4" rx="2.1" ry="1.8" fill="#6f8ad8" opacity="0.9"/>
<ellipse cx="384.8" cy="642.5" rx="2.8" ry="1.6" fill="#6f8ad8" opacity="0.9"/>
<ellipse cx="379.5" cy="692.4" rx="3.1" ry="2.3" fill="#8497d4" opacity="0.8"/>
<ellipse cx="367.9" cy="600.7" rx="2.2" ry="1.3" fill="#4a6bd0" opacity="0.8"/>
<ellipse cx="365.4" cy="688.8" rx="2.2" ry="2.1" fill="#5572cc" opacity="0.9"/>
<ellipse cx="389.8" cy="695.9" rx="3" ry="1.8" fill="#6f8ad8" opacity="0.8"/>
<ellipse cx="343.1" cy="655.2" rx="1.8" ry="1.4" fill="#6f8ad8" opacity="0.7"/>
<ellipse cx="361.9" cy="679.7" rx="2.6" ry="1.6" fill="#8497d4" opacity="0.8"/>
<ellipse cx="390.5" cy="612" rx="2.7" ry="2.2" fill="#8497d4" opacity="0.9"/>
<ellipse cx="348.6" cy="627.6" rx="1.7" ry="1.7" fill="#6f8ad8" opacity="0.8"/>
<ellipse cx="355.8" cy="649.6" rx="1.5" ry="1" fill="#5572cc" opacity="0.8"/>
<ellipse cx="409.3" cy="685.4" rx="1.9" ry="1.3" fill="#8497d4" opacity="0.8"/>
<ellipse cx="412.4" cy="616.6" rx="2.8" ry="2" fill="#4a6bd0" opacity="0.9"/>
<ellipse cx="403.3" cy="650.2" rx="2.1" ry="1.8" fill="#5b7bd4" opacity="0.9"/>
<ellipse cx="374.7" cy="636.6" rx="2.1" ry="1.9" fill="#6f8ad8" opacity="0.8"/>
<ellipse cx="353.3" cy="663" rx="2.1" ry="1.5" fill="#4a6bd0" opacity="0.8"/>
<ellipse cx="312.4" cy="666.4" rx="3.7" ry="2" fill="#3f60c8" opacity="0.9"/>
<ellipse cx="308.7" cy="683.1" rx="2.4" ry="2.4" fill="#4a6bd0" opacity="0.8"/>
<ellipse cx="407.8" cy="615.1" rx="1.9" ry="1.1" fill="#6f8ad8" opacity="0.8"/>
<ellipse cx="309.8" cy="621" rx="1.7" ry="1.2" fill="#5572cc" opacity="0.7"/>
<ellipse cx="379.2" cy="616.1" rx="2.2" ry="2" fill="#6f8ad8" opacity="0.9"/>
<ellipse cx="326.7" cy="634.1" rx="2.6" ry="2.6" fill="#3f60c8" opacity="0.9"/>
<ellipse cx="381.2" cy="663.1" rx="3.4" ry="1.9" fill="#3f60c8" opacity="0.7"/>
<ellipse cx="355.4" cy="692.4" rx="3.3" ry="2.4" fill="#5572cc" opacity="0.9"/>
<ellipse cx="350.7" cy="600.4" rx="2.7" ry="2.6" fill="#5572cc" opacity="0.9"/>
<ellipse cx="321.4" cy="623.2" rx="2.6" ry="2.2" fill="#5572cc" opacity="0.9"/>
<ellipse cx="396.3" cy="691.8" rx="1.9" ry="1.5" fill="#4a6bd0" opacity="0.9"/>
<ellipse cx="318.8" cy="632.9" rx="2.7" ry="2.3" fill="#5b7bd4" opacity="0.8"/>
<ellipse cx="329.1" cy="693.2" rx="2.4" ry="1.4" fill="#5b7bd4" opacity="0.8"/>
<ellipse cx="314.4" cy="635.1" rx="3.3" ry="3.3" fill="#5b7bd4" opacity="0.9"/>
<ellipse cx="324.2" cy="670.4" rx="2.1" ry="1.9" fill="#4a6bd0" opacity="0.9"/>
<ellipse cx="372.6" cy="682.3" rx="2.5" ry="1.5" fill="#6f8ad8" opacity="0.9"/>
<ellipse cx="374.8" cy="622.5" rx="2.4" ry="1.7" fill="#8497d4" opacity="0.8"/>
<ellipse cx="414.9" cy="682.8" rx="2.3" ry="1.7" fill="#4a6bd0" opacity="0.8"/>
<ellipse cx="413.3" cy="598.8" rx="1.6" ry="1.5" fill="#5b7bd4" opacity="0.7"/>
<ellipse cx="390.9" cy="642.8" rx="2.3" ry="1.4" fill="#8497d4" opacity="0.8"/>
<ellipse cx="405.5" cy="665.1" rx="1.8" ry="1.3" fill="#8497d4" opacity="0.8"/>
<ellipse cx="307.2" cy="672.2" rx="2.1" ry="2.1" fill="#5572cc" opacity="0.9"/>
<ellipse cx="318.4" cy="599.3" rx="2" ry="1.2" fill="#4a6bd0" opacity="0.9"/>
<ellipse cx="409.2" cy="666.4" rx="2.2" ry="1.4" fill="#4a6bd0" opacity="0.7"/>
<ellipse cx="390.8" cy="643" rx="2" ry="1.7" fill="#5572cc" opacity="0.9"/>
<ellipse cx="428.5" cy="607.8" rx="1.6" ry="1.5" fill="#6f8ad8" opacity="0.7"/>
<ellipse cx="380.4" cy="683.5" rx="2.6" ry="2.2" fill="#8497d4" opacity="0.9"/>
<ellipse cx="333.5" cy="599.1" rx="1.6" ry="1" fill="#5b7bd4" opacity="0.7"/>
<ellipse cx="402.6" cy="616.3" rx="1.6" ry="1.4" fill="#5b7bd4" opacity="0.9"/>
<ellipse cx="399" cy="627.3" rx="4" ry="3.8" fill="#6f8ad8" opacity="0.7"/>
<ellipse cx="401.6" cy="646.4" rx="1.8" ry="1.6" fill="#6f8ad8" opacity="0.8"/>
<ellipse cx="349.9" cy="638.7" rx="2.1" ry="1.3" fill="#5b7bd4" opacity="0.9"/>
<ellipse cx="345.1" cy="606.1" rx="2" ry="1.3" fill="#5572cc" opacity="0.8"/>
<ellipse cx="401.1" cy="671.4" rx="2.4" ry="1.9" fill="#5b7bd4" opacity="0.9"/>
<ellipse cx="309.8" cy="694" rx="1.6" ry="1.3" fill="#3f60c8" opacity="0.9"/>
<ellipse cx="426.3" cy="673.7" rx="3.6" ry="2.3" fill="#8497d4" opacity="0.8"/>
<ellipse cx="392.3" cy="626.1" rx="1.5" ry="1" fill="#6f8ad8" opacity="0.8"/>
<ellipse cx="410.6" cy="700.3" rx="2.5" ry="1.5" fill="#3f60c8" opacity="0.8"/>
<ellipse cx="416.6" cy="692.3" rx="3.5" ry="3" fill="#8497d4" opacity="0.9"/>
<ellipse cx="356.1" cy="620" rx="1.7" ry="1.7" fill="#6f8ad8" opacity="0.9"/>
<ellipse cx="354.6" cy="609.2" rx="2.6" ry="2.1" fill="#4a6bd0" opacity="0.9"/>
<ellipse cx="401.3" cy="658.8" rx="2.6" ry="1.6" fill="#8497d4" opacity="0.7"/>
<ellipse cx="337.7" cy="642.9" rx="3.8" ry="2.5" fill="#4a6bd0" opacity="0.9"/>
<ellipse cx="428.2" cy="614.1" rx="2.3" ry="1.8" fill="#4a6bd0" opacity="0.9"/>
<ellipse cx="353.4" cy="627" rx="2.1" ry="1.7" fill="#4a6bd0" opacity="0.9"/>
<ellipse cx="392.4" cy="628.8" rx="2.4" ry="2.3" fill="#5b7bd4" opacity="0.8"/>
<ellipse cx="324.2" cy="671.2" rx="2.5" ry="2.5" fill="#5572cc" opacity="0.7"/>
<ellipse cx="366.7" cy="671.2" rx="2.8" ry="2.5" fill="#5572cc" opacity="0.9"/>
<ellipse cx="315.4" cy="686.6" rx="1.9" ry="1.5" fill="#3f60c8" opacity="0.7"/>
<ellipse cx="395.4" cy="700.2" rx="2.8" ry="2.6" fill="#3f60c8" opacity="0.8"/>
<ellipse cx="342.8" cy="680.8" rx="1.8" ry="1.5" fill="#6f8ad8" opacity="0.8"/>
<ellipse cx="380.8" cy="650.3" rx="1.5" ry="0.9" fill="#5b7bd4" opacity="0.8"/>
<ellipse cx="424.4" cy="613.7" rx="1.9" ry="1.7" fill="#6f8ad8" opacity="0.9"/>
<ellipse cx="426.8" cy="687.5" rx="1.8" ry="1" fill="#6f8ad8" opacity="0.9"/>
<ellipse cx="398.8" cy="630.1" rx="2.2" ry="1.9" fill="#3f60c8" opacity="0.8"/>
<ellipse cx="390.2" cy="669" rx="1.6" ry="1" fill="#5572cc" opacity="0.9"/>
<ellipse cx="409.1" cy="602.2" rx="2.5" ry="2.3" fill="#3f60c8" opacity="0.9"/>
<ellipse cx="342.3" cy="676.3" rx="3" ry="2.6" fill="#8497d4" opacity="0.9"/>
<ellipse cx="385.4" cy="641.8" rx="2.1" ry="1.1" fill="#6f8ad8" opacity="0.8"/>
<ellipse cx="346.9" cy="608.2" rx="1.9" ry="1.9" fill="#6f8ad8" opacity="0.8"/>
<ellipse cx="321.7" cy="700.3" rx="2" ry="1.8" fill="#8497d4" opacity="0.9"/>
<ellipse cx="419.4" cy="636.4" rx="2.1" ry="1.5" fill="#6f8ad8" opacity="0.9"/>
<ellipse cx="416.3" cy="687.8" rx="2.7" ry="1.6" fill="#3f60c8" opacity="0.8"/>
<ellipse cx="331.5" cy="658.7" rx="3.9" ry="3.4" fill="#3f60c8" opacity="0.9"/>
<ellipse cx="415.5" cy="698.2" rx="2.6" ry="1.9" fill="#4a6bd0" opacity="0.7"/>
<ellipse cx="404.3" cy="700.9" rx="1.9" ry="1.7" fill="#5b7bd4" opacity="0.9"/>
<ellipse cx="370.7" cy="639.8" rx="2.4" ry="2" fill="#5572cc" opacity="0.8"/>
<ellipse cx="365.8" cy="625.1" rx="2" ry="1.4" fill="#4a6bd0" opacity="0.9"/>
<ellipse cx="394.3" cy="658.2" rx="2.2" ry="1.6" fill="#3f60c8" opacity="0.7"/>
<ellipse cx="341.5" cy="658.9" rx="2" ry="2" fill="#8497d4" opacity="0.9"/>
<ellipse cx="420.3" cy="665.6" rx="1.5" ry="1.3" fill="#4a6bd0" opacity="0.7"/>
<ellipse cx="400.9" cy="687.4" rx="2.6" ry="1.8" fill="#8497d4" opacity="0.8"/>
<ellipse cx="349.4" cy="658.3" rx="2.1" ry="1.7" fill="#3f60c8" opacity="0.8"/>
<ellipse cx="362.2" cy="628.1" rx="2" ry="1.8" fill="#4a6bd0" opacity="0.8"/>
<ellipse cx="324.1" cy="699.7" rx="2.4" ry="1.7" fill="#6f8ad8" opacity="0.9"/>
<ellipse cx="419.4" cy="690" rx="2.7" ry="2.4" fill="#6f8ad8" opacity="0.8"/>
<ellipse cx="327.3" cy="625.5" rx="2.4" ry="1.6" fill="#5b7bd4" opacity="0.8"/>
<ellipse cx="383" cy="699.8" rx="2.2" ry="1.4" fill="#5b7bd4" opacity="0.9"/>
<ellipse cx="381" cy="678.9" rx="2.1" ry="2" fill="#5572cc" opacity="0.9"/>
<ellipse cx="428.9" cy="632.6" rx="2.5" ry="1.8" fill="#6f8ad8" opacity="0.8"/>
<ellipse cx="332.5" cy="695.3" rx="1.6" ry="1.1" fill="#3f60c8" opacity="0.9"/>
<ellipse cx="338.6" cy="600.3" rx="3.4" ry="2.4" fill="#3f60c8" opacity="0.7"/>
<ellipse cx="412.5" cy="644" rx="2.6" ry="1.4" fill="#3f60c8" opacity="0.8"/>
<ellipse cx="399.2" cy="626.7" rx="2.1" ry="1.7" fill="#5b7bd4" opacity="0.9"/>
<ellipse cx="350.2" cy="616.1" rx="1.8" ry="1.3" fill="#6f8ad8" opacity="0.9"/>
<ellipse cx="350.4" cy="636.4" rx="1.9" ry="1.1" fill="#4a6bd0" opacity="0.9"/>
<ellipse cx="367.6" cy="701" rx="2.7" ry="1.5" fill="#5b7bd4" opacity="0.8"/>
<ellipse cx="416.2" cy="698.7" rx="3.7" ry="2.7" fill="#5b7bd4" opacity="0.8"/>
<ellipse cx="398.5" cy="622.9" rx="3.7" ry="2.4" fill="#5572cc" opacity="0.9"/>
<ellipse cx="404.4" cy="611.6" rx="1.8" ry="1.3" fill="#6f8ad8" opacity="0.9"/>
<ellipse cx="346.7" cy="666.1" rx="1.9" ry="1.2" fill="#8497d4" opacity="0.9"/>
<ellipse cx="381.5" cy="693.3" rx="2.7" ry="2.5" fill="#4a6bd0" opacity="0.7"/>
<ellipse cx="418.9" cy="677.9" rx="2.7" ry="2.4" fill="#8497d4" opacity="0.7"/>
<ellipse cx="402.8" cy="652.9" rx="2" ry="1.9" fill="#5572cc" opacity="0.7"/>
<ellipse cx="417.7" cy="625.7" rx="2" ry="1.4" fill="#3f60c8" opacity="0.9"/>
<ellipse cx="371" cy="684.8" rx="2.6" ry="2" fill="#4a6bd0" opacity="0.8"/>
<ellipse cx="390.7" cy="700.2" rx="2" ry="1.3" fill="#5572cc" opacity="0.7"/>
<ellipse cx="391.8" cy="658.3" rx="2.4" ry="1.5" fill="#6f8ad8" opacity="0.9"/>
<ellipse cx="421" cy="609.2" rx="3.9" ry="2.3" fill="#5572cc" opacity="0.9"/>
<ellipse cx="307.2" cy="676.6" rx="2.7" ry="2.7" fill="#3f60c8" opacity="0.7"/>
<ellipse cx="319.5" cy="697.1" rx="2.7" ry="1.8" fill="#5572cc" opacity="0.8"/>
<ellipse cx="421.9" cy="623.3" rx="2.5" ry="1.8" fill="#3f60c8" opacity="0.8"/>
<ellipse cx="351.5" cy="648.7" rx="2.1" ry="1.9" fill="#4a6bd0" opacity="0.8"/>
<ellipse cx="312.3" cy="623.8" rx="1.6" ry="1.6" fill="#8497d4" opacity="0.9"/>
<ellipse cx="418" cy="625.7" rx="2.4" ry="1.6" fill="#8497d4" opacity="0.9"/>
<ellipse cx="373.3" cy="656" rx="2.6" ry="1.7" fill="#8497d4" opacity="0.9"/>
<ellipse cx="336.9" cy="607" rx="2.2" ry="2" fill="#6f8ad8" opacity="0.9"/>
<ellipse cx="404.4" cy="617.8" rx="2.2" ry="1.8" fill="#5572cc" opacity="0.8"/>
<ellipse cx="324.4" cy="604.6" rx="2.1" ry="1.5" fill="#8497d4" opacity="0.8"/>
<ellipse cx="372.1" cy="692.8" rx="1.6" ry="1.4" fill="#4a6bd0" opacity="0.9"/>
<ellipse cx="341.9" cy="639.4" rx="2.1" ry="1.5" fill="#8497d4" opacity="0.9"/>
<ellipse cx="323.4" cy="697.5" rx="2.8" ry="1.5" fill="#4a6bd0" opacity="0.9"/>
<ellipse cx="366.5" cy="643.8" rx="1.6" ry="1.4" fill="#4a6bd0" opacity="0.8"/>
<ellipse cx="326.5" cy="599.5" rx="1.6" ry="1.2" fill="#4a6bd0" opacity="0.7"/>
<ellipse cx="428.3" cy="669.7" rx="1.7" ry="1.1" fill="#8497d4" opacity="0.8"/>
<ellipse cx="398.3" cy="599.3" rx="2.8" ry="1.6" fill="#5572cc" opacity="0.7"/>
<ellipse cx="320.6" cy="661.5" rx="1.8" ry="1.6" fill="#5572cc" opacity="0.8"/>
<ellipse cx="338.2" cy="610.5" rx="1.8" ry="1.4" fill="#8497d4" opacity="0.8"/>
<ellipse cx="417.9" cy="603.7" rx="1.6" ry="1.5" fill="#3f60c8" opacity="0.9"/>
<ellipse cx="347.9" cy="632" rx="2.6" ry="2.3" fill="#3f60c8" opacity="0.9"/>
<ellipse cx="361.7" cy="659.2" rx="1.6" ry="1.1" fill="#5b7bd4" opacity="0.9"/>
<ellipse cx="351.8" cy="647.4" rx="3.1" ry="2.9" fill="#5b7bd4" opacity="0.8"/>
<ellipse cx="332.8" cy="618.1" rx="1.7" ry="1" fill="#8497d4" opacity="0.8"/>
<ellipse cx="370" cy="692.9" rx="1.5" ry="1.2" fill="#5b7bd4" opacity="0.9"/>
<ellipse cx="397.7" cy="646.7" rx="2.1" ry="1.7" fill="#8497d4" opacity="0.8"/>
<ellipse cx="378.8" cy="640.7" rx="2" ry="2" fill="#5b7bd4" opacity="0.7"/>
<ellipse cx="369.5" cy="696.4" rx="2.7" ry="1.8" fill="#3f60c8" opacity="0.7"/>
<ellipse cx="316.5" cy="664.2" rx="2.4" ry="1.4" fill="#6f8ad8" opacity="0.9"/>
<ellipse cx="428.6" cy="683.3" rx="1.7" ry="1.4" fill="#8497d4" opacity="0.8"/>
<ellipse cx="428.6" cy="632.2" rx="1.9" ry="1.7" fill="#3f60c8" opacity="0.7"/>
<ellipse cx="337.6" cy="661.8" rx="2.3" ry="1.8" fill="#3f60c8" opacity="0.9"/>
<ellipse cx="421.7" cy="659.4" rx="2.2" ry="1.6" fill="#6f8ad8" opacity="0.7"/>
<ellipse cx="345.4" cy="643.5" rx="2" ry="1.2" fill="#3f60c8" opacity="0.8"/>
<ellipse cx="325.1" cy="604.3" rx="1.6" ry="1.1" fill="#4a6bd0" opacity="0.9"/>
<ellipse cx="407" cy="644.9" rx="2.7" ry="2" fill="#8497d4" opacity="0.9"/>
<ellipse cx="420.8" cy="667.4" rx="2" ry="1.6" fill="#3f60c8" opacity="0.8"/>
<ellipse cx="352.7" cy="638.5" rx="2.3" ry="2.2" fill="#6f8ad8" opacity="0.8"/>
<ellipse cx="332.8" cy="695.2" rx="1.7" ry="1.5" fill="#8497d4" opacity="0.9"/>
<ellipse cx="349.2" cy="639.8" rx="2" ry="1.4" fill="#8497d4" opacity="0.8"/>
<ellipse cx="368.7" cy="599.8" rx="1.7" ry="1.6" fill="#8497d4" opacity="0.9"/>
<ellipse cx="372.5" cy="655.5" rx="2.1" ry="1.5" fill="#6f8ad8" opacity="0.8"/>
<ellipse cx="316.3" cy="662.1" rx="2.4" ry="2" fill="#5572cc" opacity="0.7"/>
<ellipse cx="403" cy="616.8" rx="2.2" ry="1.7" fill="#5572cc" opacity="0.8"/>
<ellipse cx="352.3" cy="674.6" rx="1.7" ry="1" fill="#8497d4" opacity="0.7"/>
<ellipse cx="306.5" cy="692.3" rx="2.3" ry="1.8" fill="#4a6bd0" opacity="0.7"/>
<ellipse cx="309.7" cy="650.2" rx="2.2" ry="1.3" fill="#5572cc" opacity="0.8"/>
<ellipse cx="328.1" cy="675.7" rx="2.1" ry="1.3" fill="#4a6bd0" opacity="0.8"/>
<ellipse cx="426.8" cy="649.1" rx="2.6" ry="1.9" fill="#6f8ad8" opacity="0.9"/>
<ellipse cx="398.4" cy="601.8" rx="1.8" ry="1.3" fill="#5572cc" opacity="0.8"/>
<ellipse cx="427.7" cy="668" rx="2.5" ry="1.6" fill="#3f60c8" opacity="0.9"/>
<ellipse cx="356.7" cy="679.1" rx="2.7" ry="2.1" fill="#6f8ad8" opacity="0.8"/>
<ellipse cx="403.6" cy="648.8" rx="2.3" ry="2.1" fill="#4a6bd0" opacity="0.9"/>
<ellipse cx="417" cy="598.7" rx="1.9" ry="1.6" fill="#5b7bd4" opacity="0.8"/>
<rect x="274.75" y="557.25" width="187.5" height="187.5" fill="#000" filter="url(#vf2)" transform="rotate(0 368.5 651)"/>
<rect x="403" y="693.5" width="23" height="4" fill="#ffffff" stroke="#000" stroke-width="1"/>
<text x="414.5" y="696.6" font-size="2.6" text-anchor="middle" fill="#000">100 μm</text>
</g>
<clipPath id="hc3"><rect x="49" y="711" width="123" height="106"/></clipPath>
<filter id="vf3" x="0" y="0" width="1" height="1" color-interpolation-filters="sRGB"><feTurbulence type="fractalNoise" baseFrequency="0.068 0.131" numOctaves="3" seed="14" result="n0"/><feGaussianBlur in="n0" stdDeviation="1.0" result="n"/><feColorMatrix in="n" type="matrix" values="0 0 0 0 0 0 0 0 0 0 0 0 0 0 0 1 0 0 0 0" result="r"/><feComponentTransfer in="r" result="A"><feFuncA type="discrete" tableValues="0 0 0 0 0 0 0 0 0 1 1 1 1 1 1 1 1 1 1 1"/></feComponentTransfer><feComponentTransfer in="r" result="W"><feFuncA type="discrete" tableValues="0 0 0 0 0 0 0 0 0 0 1 1 1 1 1 1 1 1 1 1"/></feComponentTransfer><feMorphology in="A" operator="dilate" radius="0.9" result="D"/><feComposite in="D" in2="A" operator="out" result="E"/><feComposite in="A" in2="W" operator="out" result="H"/><feFlood flood-color="#86642c"/><feComposite operator="in" in2="E" result="Ec"/><feFlood flood-color="#d0b27c" flood-opacity="0.5"/><feComposite operator="in" in2="H" result="Hc"/><feFlood flood-color="#f9f8f5" flood-opacity="0.85"/><feComposite operator="in" in2="W" result="Wc"/><feMerge><feMergeNode in="Wc"/><feMergeNode in="Hc"/><feMergeNode in="Ec"/></feMerge></filter>
<g clip-path="url(#hc3)">
<rect x="49" y="711" width="123" height="106" fill="#e7e5e1"/>
<ellipse cx="174.2" cy="758.9" rx="7.9" ry="5.3" fill="#bcb8cc" opacity="0.2"/>
<ellipse cx="165.3" cy="791.7" rx="5.7" ry="5.6" fill="#bcb8cc" opacity="0.3"/>
<ellipse cx="59.8" cy="715.5" rx="7.1" ry="5.9" fill="#d6c096" opacity="0.1"/>
<ellipse cx="171.9" cy="786.2" rx="6.7" ry="2.7" fill="#bcb8cc" opacity="0.2"/>
<ellipse cx="141.5" cy="789.9" rx="4.6" ry="4.6" fill="#cfb893" opacity="0.3"/>
<ellipse cx="126.1" cy="716" rx="7.1" ry="5.8" fill="#d6c096" opacity="0.2"/>
<ellipse cx="107.1" cy="735.1" rx="9.3" ry="5" fill="#cfb893" opacity="0.2"/>
<ellipse cx="150.8" cy="759.3" rx="8" ry="3.2" fill="#d6c096" opacity="0.2"/>
<ellipse cx="63.4" cy="754.7" rx="9.4" ry="3.9" fill="#cfb893" opacity="0.2"/>
<ellipse cx="155.8" cy="782.3" rx="5.1" ry="4.7" fill="#d6c096" opacity="0.1"/>
<ellipse cx="165.4" cy="794.9" rx="8" ry="3.2" fill="#d6c096" opacity="0.2"/>
<ellipse cx="123.4" cy="751.7" rx="6.1" ry="5" fill="#bcb8cc" opacity="0.1"/>
<ellipse cx="103.2" cy="711.2" rx="5.1" ry="2" fill="#bcb8cc" opacity="0.2"/>
<ellipse cx="75.6" cy="731.4" rx="4.1" ry="2.3" fill="#cfb893" opacity="0.2"/>
<ellipse cx="47.7" cy="758.7" rx="6.9" ry="4.7" fill="#d6c096" opacity="0.2"/>
<ellipse cx="135.1" cy="804.5" rx="3.7" ry="3.8" fill="#bcb8cc" opacity="0.2"/>
<ellipse cx="68.1" cy="737" rx="8.7" ry="2.1" fill="#bcb8cc" opacity="0.2"/>
<ellipse cx="159.9" cy="815.5" rx="6.4" ry="2.5" fill="#bcb8cc" opacity="0.2"/>
<ellipse cx="143.5" cy="804" rx="9.2" ry="4.5" fill="#bcb8cc" opacity="0.2"/>
<ellipse cx="101" cy="739.5" rx="7.2" ry="5.7" fill="#cfb893" opacity="0.2"/>
<ellipse cx="99.1" cy="737" rx="5.8" ry="4.4" fill="#d6c096" opacity="0.2"/>
<ellipse cx="149.7" cy="754.8" rx="6.2" ry="3.8" fill="#d6c096" opacity="0.3"/>
<ellipse cx="119.2" cy="782.6" rx="3.1" ry="4" fill="#bcb8cc" opacity="0.1"/>
<ellipse cx="88.4" cy="734.1" rx="8" ry="3.5" fill="#cfb893" opacity="0.1"/>
<ellipse cx="134.1" cy="781.2" rx="8.5" ry="4.2" fill="#bcb8cc" opacity="0.1"/>
<rect x="49" y="711" width="123" height="106" fill="url(#spk)" opacity="0.5"/>
<ellipse cx="55.4" cy="810" rx="2.6" ry="2.4" fill="#8497d4" opacity="0.8"/>
<ellipse cx="79.3" cy="757" rx="2.5" ry="2.3" fill="#8497d4" opacity="0.9"/>
<ellipse cx="85.6" cy="754.6" rx="2.3" ry="1.7" fill="#8497d4" opacity="0.9"/>
<ellipse cx="165.1" cy="722.4" rx="2.3" ry="2" fill="#5b7bd4" opacity="0.7"/>
<ellipse cx="106.8" cy="753.4" rx="2.4" ry="1.8" fill="#3f60c8" opacity="0.9"/>
<ellipse cx="113.2" cy="812" rx="1.9" ry="1.4" fill="#6f8ad8" opacity="0.8"/>
<ellipse cx="64.4" cy="718.1" rx="2.5" ry="2.3" fill="#5b7bd4" opacity="0.7"/>
<ellipse cx="157" cy="804.3" rx="1.9" ry="1.5" fill="#4a6bd0" opacity="0.8"/>
<ellipse cx="171.3" cy="727.7" rx="1.9" ry="1.7" fill="#5b7bd4" opacity="0.9"/>
<ellipse cx="135.2" cy="779" rx="3" ry="2.6" fill="#6f8ad8" opacity="0.7"/>
<ellipse cx="82" cy="805.6" rx="2.7" ry="2.3" fill="#5b7bd4" opacity="0.9"/>
<ellipse cx="101.4" cy="739.3" rx="1.8" ry="1.7" fill="#5572cc" opacity="0.9"/>
<ellipse cx="131.8" cy="799.9" rx="1.8" ry="1.2" fill="#5b7bd4" opacity="0.8"/>
<ellipse cx="156.9" cy="787.9" rx="1.9" ry="1.6" fill="#3f60c8" opacity="0.8"/>
<ellipse cx="99.5" cy="733.5" rx="2.3" ry="2" fill="#5572cc" opacity="0.9"/>
<ellipse cx="148.8" cy="796.3" rx="1.6" ry="1" fill="#6f8ad8" opacity="0.8"/>
<ellipse cx="115.1" cy="758.3" rx="2.3" ry="2.1" fill="#8497d4" opacity="0.9"/>
<ellipse cx="141.6" cy="785.1" rx="1.7" ry="1.2" fill="#8497d4" opacity="0.7"/>
<ellipse cx="104.1" cy="773.9" rx="2.1" ry="1.7" fill="#4a6bd0" opacity="0.8"/>
<ellipse cx="135.6" cy="713.3" rx="2" ry="1.8" fill="#3f60c8" opacity="0.8"/>
<ellipse cx="150.4" cy="810.1" rx="2.5" ry="1.4" fill="#3f60c8" opacity="0.7"/>
<ellipse cx="138.5" cy="788" rx="2.6" ry="1.6" fill="#5572cc" opacity="0.8"/>
<ellipse cx="94" cy="760.9" rx="1.5" ry="1.1" fill="#6f8ad8" opacity="0.9"/>
<ellipse cx="119.3" cy="717.7" rx="2" ry="1.7" fill="#6f8ad8" opacity="0.7"/>
<ellipse cx="103.3" cy="736" rx="1.9" ry="1.6" fill="#4a6bd0" opacity="0.9"/>
<ellipse cx="86.3" cy="732" rx="2.3" ry="1.3" fill="#5572cc" opacity="0.8"/>
<ellipse cx="85.8" cy="764.6" rx="2.3" ry="1.7" fill="#6f8ad8" opacity="0.9"/>
<ellipse cx="131.4" cy="713.2" rx="2.2" ry="1.5" fill="#6f8ad8" opacity="0.9"/>
<ellipse cx="71.4" cy="807.6" rx="1.7" ry="1.1" fill="#6f8ad8" opacity="0.9"/>
<ellipse cx="77.7" cy="805.6" rx="3.6" ry="3" fill="#5b7bd4" opacity="0.9"/>
<ellipse cx="139" cy="800.4" rx="2.7" ry="2" fill="#5572cc" opacity="0.9"/>
<ellipse cx="133.6" cy="783.2" rx="2.1" ry="1.2" fill="#6f8ad8" opacity="0.9"/>
<ellipse cx="88" cy="772.7" rx="2.7" ry="2.6" fill="#5b7bd4" opacity="0.7"/>
<ellipse cx="106.3" cy="778.7" rx="2.2" ry="2.1" fill="#3f60c8" opacity="0.9"/>
<ellipse cx="61.6" cy="784.3" rx="2" ry="1.9" fill="#5572cc" opacity="0.8"/>
<ellipse cx="114" cy="721.4" rx="2.3" ry="1.6" fill="#5572cc" opacity="0.8"/>
<ellipse cx="92" cy="730.8" rx="2.2" ry="1.4" fill="#6f8ad8" opacity="0.8"/>
<ellipse cx="144" cy="783.5" rx="1.6" ry="1.6" fill="#8497d4" opacity="0.9"/>
<ellipse cx="56.7" cy="714" rx="2.3" ry="1.6" fill="#5572cc" opacity="0.8"/>
<ellipse cx="152.2" cy="791.4" rx="2.5" ry="2.1" fill="#8497d4" opacity="0.8"/>
<ellipse cx="54.8" cy="767.7" rx="2.7" ry="1.8" fill="#5572cc" opacity="0.9"/>
<ellipse cx="104.3" cy="727.1" rx="2.4" ry="1.5" fill="#8497d4" opacity="0.8"/>
<ellipse cx="60.1" cy="791.9" rx="2.2" ry="2.2" fill="#5572cc" opacity="0.8"/>
<ellipse cx="146.2" cy="756.9" rx="2.6" ry="2.3" fill="#5572cc" opacity="0.8"/>
<ellipse cx="54.7" cy="800.8" rx="2" ry="1.9" fill="#3f60c8" opacity="0.7"/>
<ellipse cx="67.8" cy="750.4" rx="2.7" ry="1.9" fill="#8497d4" opacity="0.8"/>
<ellipse cx="115.4" cy="749.4" rx="2.1" ry="1.2" fill="#3f60c8" opacity="0.9"/>
<ellipse cx="103.9" cy="771.9" rx="1.7" ry="1.4" fill="#3f60c8" opacity="0.9"/>
<ellipse cx="110" cy="778.3" rx="1.7" ry="1.5" fill="#5572cc" opacity="0.8"/>
<ellipse cx="79.8" cy="774.2" rx="2.7" ry="2.6" fill="#4a6bd0" opacity="0.9"/>
<ellipse cx="89.4" cy="791.4" rx="2.2" ry="1.7" fill="#3f60c8" opacity="0.9"/>
<ellipse cx="50.2" cy="747.6" rx="2.5" ry="1.9" fill="#5b7bd4" opacity="0.8"/>
<ellipse cx="82.7" cy="796.6" rx="2.3" ry="2.1" fill="#3f60c8" opacity="0.7"/>
<ellipse cx="75.8" cy="813.2" rx="3.5" ry="2.9" fill="#3f60c8" opacity="0.8"/>
<ellipse cx="65.7" cy="771.9" rx="2" ry="1.5" fill="#8497d4" opacity="0.8"/>
<ellipse cx="81.7" cy="787.8" rx="2.2" ry="2" fill="#5572cc" opacity="0.8"/>
<ellipse cx="144.8" cy="784.8" rx="2" ry="1.3" fill="#6f8ad8" opacity="0.7"/>
<ellipse cx="54.8" cy="774.8" rx="1.6" ry="1.1" fill="#5572cc" opacity="0.9"/>
<ellipse cx="112.4" cy="746.2" rx="2.6" ry="2.3" fill="#8497d4" opacity="0.8"/>
<ellipse cx="117.1" cy="759.3" rx="2.8" ry="1.9" fill="#5572cc" opacity="0.7"/>
<ellipse cx="72.9" cy="751.6" rx="2.6" ry="1.7" fill="#5572cc" opacity="0.9"/>
<ellipse cx="149" cy="771.1" rx="1.7" ry="1.2" fill="#3f60c8" opacity="0.8"/>
<ellipse cx="81.6" cy="714.1" rx="1.9" ry="1.9" fill="#6f8ad8" opacity="0.8"/>
<ellipse cx="58.6" cy="782.2" rx="2.3" ry="1.6" fill="#6f8ad8" opacity="0.8"/>
<ellipse cx="148.1" cy="725" rx="2.8" ry="2.5" fill="#8497d4" opacity="0.9"/>
<ellipse cx="133.4" cy="711.8" rx="1.7" ry="1.4" fill="#4a6bd0" opacity="0.9"/>
<ellipse cx="161.7" cy="731.8" rx="2.8" ry="2.5" fill="#5572cc" opacity="0.9"/>
<ellipse cx="57" cy="785.9" rx="2.5" ry="1.9" fill="#5b7bd4" opacity="0.8"/>
<ellipse cx="50.4" cy="800.4" rx="2.2" ry="1.6" fill="#4a6bd0" opacity="0.9"/>
<ellipse cx="107.5" cy="783.3" rx="2.5" ry="1.7" fill="#3f60c8" opacity="0.7"/>
<ellipse cx="61.5" cy="762.5" rx="4" ry="3.4" fill="#5b7bd4" opacity="0.9"/>
<ellipse cx="58.2" cy="811.1" rx="1.7" ry="1.1" fill="#4a6bd0" opacity="0.8"/>
<ellipse cx="163.6" cy="719.4" rx="2.4" ry="2.4" fill="#3f60c8" opacity="0.7"/>
<ellipse cx="165.8" cy="723.7" rx="2.1" ry="2" fill="#4a6bd0" opacity="0.7"/>
<ellipse cx="151.5" cy="727.9" rx="2.5" ry="1.5" fill="#5b7bd4" opacity="0.9"/>
<ellipse cx="122.3" cy="738.6" rx="2.4" ry="2.3" fill="#5572cc" opacity="0.8"/>
<ellipse cx="75.1" cy="806.9" rx="1.8" ry="1.2" fill="#8497d4" opacity="0.9"/>
<ellipse cx="99.7" cy="767.6" rx="2.7" ry="2.1" fill="#6f8ad8" opacity="0.8"/>
<ellipse cx="85.7" cy="789.7" rx="2.6" ry="1.6" fill="#6f8ad8" opacity="0.8"/>
<ellipse cx="57.2" cy="796.7" rx="2.1" ry="1.2" fill="#8497d4" opacity="0.7"/>
<ellipse cx="125.1" cy="782" rx="2.7" ry="1.8" fill="#5b7bd4" opacity="0.7"/>
<ellipse cx="141.5" cy="797" rx="1.7" ry="1.5" fill="#4a6bd0" opacity="0.8"/>
<ellipse cx="152.6" cy="722.7" rx="2.3" ry="1.9" fill="#5b7bd4" opacity="0.8"/>
<ellipse cx="77" cy="717.8" rx="1.5" ry="0.9" fill="#5572cc" opacity="0.7"/>
<ellipse cx="124.3" cy="714.4" rx="1.5" ry="1.2" fill="#5572cc" opacity="0.9"/>
<ellipse cx="167.6" cy="723.2" rx="2.2" ry="1.3" fill="#6f8ad8" opacity="0.9"/>
<ellipse cx="126.3" cy="745.4" rx="1.8" ry="1.1" fill="#5572cc" opacity="0.8"/>
<ellipse cx="166" cy="776.4" rx="1.5" ry="1.1" fill="#5572cc" opacity="0.7"/>
<ellipse cx="51.3" cy="741.7" rx="2.2" ry="1.6" fill="#6f8ad8" opacity="0.9"/>
<ellipse cx="95.3" cy="808" rx="2.7" ry="2.7" fill="#6f8ad8" opacity="0.9"/>
<ellipse cx="105.7" cy="815.9" rx="2.4" ry="1.3" fill="#3f60c8" opacity="0.9"/>
<ellipse cx="55.2" cy="813.1" rx="2" ry="1.6" fill="#8497d4" opacity="0.9"/>
<ellipse cx="64.6" cy="736.6" rx="1.5" ry="0.9" fill="#8497d4" opacity="0.9"/>
<ellipse cx="56.1" cy="720.9" rx="2.2" ry="1.9" fill="#5572cc" opacity="0.8"/>
<ellipse cx="142.5" cy="774.4" rx="2.4" ry="1.5" fill="#8497d4" opacity="0.8"/>
<ellipse cx="143" cy="720" rx="1.5" ry="1.2" fill="#4a6bd0" opacity="0.9"/>
<ellipse cx="59" cy="798.7" rx="1.9" ry="1.2" fill="#4a6bd0" opacity="0.7"/>
<ellipse cx="76.7" cy="806.7" rx="1.7" ry="1.3" fill="#5b7bd4" opacity="0.9"/>
<ellipse cx="150.5" cy="722.9" rx="2.1" ry="1.9" fill="#8497d4" opacity="0.8"/>
<ellipse cx="129.2" cy="781.2" rx="2.5" ry="1.5" fill="#3f60c8" opacity="0.7"/>
<ellipse cx="113" cy="743" rx="2.8" ry="1.6" fill="#5572cc" opacity="0.9"/>
<ellipse cx="159.8" cy="729.7" rx="2.3" ry="1.5" fill="#5b7bd4" opacity="0.7"/>
<ellipse cx="61.2" cy="805.1" rx="2.6" ry="2.4" fill="#4a6bd0" opacity="0.9"/>
<ellipse cx="90.4" cy="775.6" rx="2.1" ry="1.4" fill="#4a6bd0" opacity="0.9"/>
<ellipse cx="65.5" cy="813.6" rx="2.2" ry="1.5" fill="#5b7bd4" opacity="0.7"/>
<ellipse cx="157.5" cy="755.4" rx="2.3" ry="1.8" fill="#5b7bd4" opacity="0.7"/>
<ellipse cx="108.6" cy="768" rx="2.5" ry="2" fill="#6f8ad8" opacity="0.9"/>
<ellipse cx="121.9" cy="761.5" rx="1.6" ry="1.2" fill="#6f8ad8" opacity="0.9"/>
<ellipse cx="128.6" cy="717.3" rx="2" ry="1.3" fill="#8497d4" opacity="0.8"/>
<ellipse cx="98.2" cy="755.5" rx="2.2" ry="1.8" fill="#5b7bd4" opacity="0.8"/>
<ellipse cx="115.7" cy="732.7" rx="2.5" ry="1.6" fill="#3f60c8" opacity="0.7"/>
<ellipse cx="85.2" cy="770.4" rx="3.3" ry="2.6" fill="#5b7bd4" opacity="0.8"/>
<ellipse cx="66.2" cy="728.7" rx="2.4" ry="2.3" fill="#6f8ad8" opacity="0.8"/>
<ellipse cx="113.6" cy="768.6" rx="2.8" ry="1.9" fill="#5572cc" opacity="0.7"/>
<ellipse cx="62.1" cy="764.2" rx="2" ry="1.3" fill="#3f60c8" opacity="0.8"/>
<ellipse cx="171.4" cy="717.6" rx="2.1" ry="1.5" fill="#3f60c8" opacity="0.8"/>
<ellipse cx="112.4" cy="782.7" rx="1.7" ry="1.1" fill="#5572cc" opacity="0.7"/>
<ellipse cx="100" cy="778.4" rx="2.1" ry="2.1" fill="#5572cc" opacity="0.7"/>
<ellipse cx="92.5" cy="741.9" rx="2" ry="1.7" fill="#8497d4" opacity="0.7"/>
<ellipse cx="67.3" cy="735.7" rx="1.9" ry="1.3" fill="#8497d4" opacity="0.8"/>
<ellipse cx="94.9" cy="807.7" rx="2.8" ry="2" fill="#5572cc" opacity="0.9"/>
<ellipse cx="100.3" cy="754.1" rx="2.6" ry="1.7" fill="#8497d4" opacity="0.9"/>
<ellipse cx="138.6" cy="736.5" rx="2" ry="1.4" fill="#4a6bd0" opacity="0.8"/>
<ellipse cx="126.6" cy="791.9" rx="2.7" ry="1.5" fill="#5572cc" opacity="0.7"/>
<ellipse cx="108.4" cy="713.4" rx="2.2" ry="2" fill="#4a6bd0" opacity="0.9"/>
<ellipse cx="86.2" cy="778.4" rx="2.7" ry="1.8" fill="#5572cc" opacity="0.9"/>
<ellipse cx="95.5" cy="726.7" rx="2.1" ry="1.2" fill="#4a6bd0" opacity="0.8"/>
<ellipse cx="102.7" cy="805.2" rx="2.7" ry="2.5" fill="#4a6bd0" opacity="0.8"/>
<ellipse cx="80.7" cy="770.3" rx="1.9" ry="1.6" fill="#8497d4" opacity="0.9"/>
<ellipse cx="157.8" cy="761.4" rx="1.6" ry="1.5" fill="#4a6bd0" opacity="0.9"/>
<ellipse cx="81.5" cy="788.2" rx="2.5" ry="2.1" fill="#3f60c8" opacity="0.8"/>
<ellipse cx="107.9" cy="774.8" rx="1.9" ry="1.1" fill="#6f8ad8" opacity="0.9"/>
<ellipse cx="149.2" cy="801.2" rx="2.4" ry="2.1" fill="#5b7bd4" opacity="0.8"/>
<ellipse cx="121.2" cy="763.9" rx="2.5" ry="2.3" fill="#5b7bd4" opacity="0.9"/>
<ellipse cx="154.9" cy="759" rx="1.7" ry="1.5" fill="#6f8ad8" opacity="0.9"/>
<ellipse cx="80.8" cy="777.5" rx="2.3" ry="2" fill="#5b7bd4" opacity="0.9"/>
<ellipse cx="97.2" cy="737.8" rx="1.6" ry="1.4" fill="#4a6bd0" opacity="0.7"/>
<ellipse cx="155.8" cy="783.1" rx="2.1" ry="1.4" fill="#8497d4" opacity="0.8"/>
<ellipse cx="170.9" cy="780.6" rx="3.1" ry="2.2" fill="#5b7bd4" opacity="0.9"/>
<ellipse cx="123.8" cy="801.9" rx="1.6" ry="1.1" fill="#5572cc" opacity="0.8"/>
<ellipse cx="54.8" cy="775.4" rx="1.8" ry="1.7" fill="#4a6bd0" opacity="0.8"/>
<ellipse cx="119.7" cy="715.1" rx="2.4" ry="2.1" fill="#8497d4" opacity="0.8"/>
<ellipse cx="166.9" cy="716" rx="1.6" ry="1.1" fill="#5572cc" opacity="0.9"/>
<ellipse cx="168.4" cy="740.7" rx="2.1" ry="1.4" fill="#6f8ad8" opacity="0.9"/>
<ellipse cx="75.8" cy="806.5" rx="1.6" ry="1" fill="#5572cc" opacity="0.8"/>
<ellipse cx="160.1" cy="802.9" rx="3.1" ry="2.5" fill="#5572cc" opacity="0.7"/>
<ellipse cx="77.9" cy="808.2" rx="1.7" ry="1.1" fill="#8497d4" opacity="0.8"/>
<rect x="18.25" y="671.75" width="184.5" height="184.5" fill="#000" filter="url(#vf3)" transform="rotate(-35 110.5 764)"/>
<path d="M0 0L-4 -2.8L-3.4 -1L-9 -1.2L-9 1.2L-3.4 1L-4 2.8Z" fill="#000" transform="translate(99.6 741.4) rotate(208) scale(1.15 1.3)"/>
<path d="M0 0L-4 -2.8L-3.4 -1L-9 -1.2L-9 1.2L-3.4 1L-4 2.8Z" fill="#000" transform="translate(109 769.6) rotate(206) scale(1.15 1.3)"/>
<rect x="144" y="806.5" width="23" height="4" fill="#ffffff" stroke="#000" stroke-width="1"/>
<text x="155.5" y="809.6" font-size="2.6" text-anchor="middle" fill="#000">100 μm</text>
</g>
<clipPath id="hc4"><rect x="177" y="711" width="124" height="106"/></clipPath>
<filter id="vf4" x="0" y="0" width="1" height="1" color-interpolation-filters="sRGB"><feTurbulence type="fractalNoise" baseFrequency="0.083 0.152" numOctaves="3" seed="15" result="n0"/><feGaussianBlur in="n0" stdDeviation="1.0" result="n"/><feColorMatrix in="n" type="matrix" values="0 0 0 0 0 0 0 0 0 0 0 0 0 0 0 1 0 0 0 0" result="r"/><feComponentTransfer in="r" result="A"><feFuncA type="discrete" tableValues="0 0 0 0 0 0 0 0 0 0 1 1 1 1 1 1 1 1 1 1"/></feComponentTransfer><feComponentTransfer in="r" result="W"><feFuncA type="discrete" tableValues="0 0 0 0 0 0 0 0 0 0 0 1 1 1 1 1 1 1 1 1"/></feComponentTransfer><feMorphology in="A" operator="dilate" radius="0.7" result="D"/><feComposite in="D" in2="A" operator="out" result="E"/><feComposite in="A" in2="W" operator="out" result="H"/><feFlood flood-color="#a07e44"/><feComposite operator="in" in2="E" result="Ec"/><feFlood flood-color="#d0b27c" flood-opacity="0.5"/><feComposite operator="in" in2="H" result="Hc"/><feFlood flood-color="#f6f4f0" flood-opacity="0.65"/><feComposite operator="in" in2="W" result="Wc"/><feMerge><feMergeNode in="Wc"/><feMergeNode in="Hc"/><feMergeNode in="Ec"/></feMerge></filter>
<g clip-path="url(#hc4)">
<rect x="177" y="711" width="124" height="106" fill="#e4e1da"/>
<ellipse cx="300.6" cy="807.1" rx="8.4" ry="3.6" fill="#bcb8cc" opacity="0.2"/>
<ellipse cx="188.8" cy="800.9" rx="3.7" ry="2.6" fill="#d6c096" opacity="0.2"/>
<ellipse cx="273" cy="748.8" rx="9" ry="4.3" fill="#d6c096" opacity="0.2"/>
<ellipse cx="215.2" cy="778.1" rx="5.1" ry="2.2" fill="#bcb8cc" opacity="0.2"/>
<ellipse cx="204.7" cy="817.5" rx="3.3" ry="2.2" fill="#bcb8cc" opacity="0.3"/>
<ellipse cx="188.6" cy="724.9" rx="5.9" ry="5.7" fill="#bcb8cc" opacity="0.2"/>
<ellipse cx="304.9" cy="729.2" rx="3.3" ry="4.7" fill="#d6c096" opacity="0.3"/>
<ellipse cx="245.4" cy="779.4" rx="10" ry="2.7" fill="#d6c096" opacity="0.3"/>
<ellipse cx="177.3" cy="749.9" rx="6.2" ry="2.8" fill="#d6c096" opacity="0.2"/>
<ellipse cx="180.3" cy="714.3" rx="8.7" ry="3" fill="#d6c096" opacity="0.2"/>
<ellipse cx="255.2" cy="789.2" rx="8.8" ry="3.9" fill="#bcb8cc" opacity="0.2"/>
<ellipse cx="229.8" cy="709" rx="3.2" ry="5.5" fill="#bcb8cc" opacity="0.3"/>
<ellipse cx="237.1" cy="779.3" rx="8.1" ry="4.3" fill="#bcb8cc" opacity="0.2"/>
<ellipse cx="294.9" cy="729.1" rx="9.2" ry="2.5" fill="#cfb893" opacity="0.2"/>
<ellipse cx="204.7" cy="716.2" rx="7.6" ry="2.4" fill="#bcb8cc" opacity="0.3"/>
<ellipse cx="194.4" cy="714.5" rx="3.1" ry="4.8" fill="#bcb8cc" opacity="0.2"/>
<ellipse cx="193.8" cy="744.4" rx="4.7" ry="2.7" fill="#d6c096" opacity="0.3"/>
<ellipse cx="287.1" cy="774.6" rx="3.6" ry="2.8" fill="#bcb8cc" opacity="0.2"/>
<ellipse cx="239.8" cy="732.6" rx="9.4" ry="3.9" fill="#bcb8cc" opacity="0.3"/>
<ellipse cx="173.1" cy="806.6" rx="6.9" ry="3.6" fill="#cfb893" opacity="0.3"/>
<ellipse cx="298.9" cy="763.3" rx="8.5" ry="5.7" fill="#cfb893" opacity="0.3"/>
<ellipse cx="294.6" cy="757.3" rx="9.3" ry="2.5" fill="#d6c096" opacity="0.2"/>
<ellipse cx="276" cy="812.2" rx="9.9" ry="2.7" fill="#cfb893" opacity="0.2"/>
<ellipse cx="290.8" cy="736.4" rx="9.2" ry="2.1" fill="#bcb8cc" opacity="0.2"/>
<ellipse cx="194.4" cy="798.5" rx="8.1" ry="2.2" fill="#cfb893" opacity="0.2"/>
<ellipse cx="180.5" cy="744.7" rx="8.6" ry="4" fill="#d6c096" opacity="0.2"/>
<ellipse cx="280.9" cy="801.4" rx="4.9" ry="5" fill="#d6c096" opacity="0.3"/>
<ellipse cx="235.2" cy="808" rx="9.8" ry="4.7" fill="#bcb8cc" opacity="0.4"/>
<ellipse cx="254.9" cy="733.1" rx="5.6" ry="2.4" fill="#bcb8cc" opacity="0.2"/>
<ellipse cx="260.5" cy="755" rx="9.3" ry="2.9" fill="#bcb8cc" opacity="0.2"/>
<ellipse cx="205" cy="801.5" rx="8.2" ry="4.3" fill="#bcb8cc" opacity="0.2"/>
<ellipse cx="204" cy="709.8" rx="3.9" ry="4.9" fill="#cfb893" opacity="0.2"/>
<ellipse cx="210.1" cy="776" rx="4.5" ry="4.2" fill="#d6c096" opacity="0.3"/>
<ellipse cx="195" cy="813.9" rx="9.9" ry="4.2" fill="#cfb893" opacity="0.2"/>
<ellipse cx="228" cy="776.7" rx="3.6" ry="3.5" fill="#d6c096" opacity="0.2"/>
<ellipse cx="259" cy="801.1" rx="6.6" ry="5.9" fill="#d6c096" opacity="0.2"/>
<ellipse cx="241.4" cy="784.4" rx="4.8" ry="4.7" fill="#cfb893" opacity="0.2"/>
<ellipse cx="266.1" cy="780.2" rx="7.3" ry="4.4" fill="#cfb893" opacity="0.3"/>
<ellipse cx="225.4" cy="783.9" rx="8.7" ry="5.1" fill="#bcb8cc" opacity="0.2"/>
<ellipse cx="299.9" cy="804.4" rx="6.8" ry="4.6" fill="#bcb8cc" opacity="0.2"/>
<ellipse cx="176.7" cy="707.7" rx="6.9" ry="2.8" fill="#d6c096" opacity="0.2"/>
<ellipse cx="187.8" cy="807.6" rx="4.9" ry="4" fill="#d6c096" opacity="0.3"/>
<ellipse cx="216.2" cy="787" rx="7.1" ry="5.1" fill="#cfb893" opacity="0.2"/>
<ellipse cx="248.9" cy="807.9" rx="5.5" ry="3" fill="#cfb893" opacity="0.3"/>
<ellipse cx="172.8" cy="794.4" rx="4.6" ry="5" fill="#cfb893" opacity="0.3"/>
<rect x="177" y="711" width="124" height="106" fill="url(#spk)" opacity="0.5"/>
<ellipse cx="242.6" cy="721.4" rx="2.3" ry="1.3" fill="#8497d4" opacity="0.9"/>
<ellipse cx="222.2" cy="811.7" rx="1.8" ry="1" fill="#4a6bd0" opacity="0.9"/>
<ellipse cx="226" cy="780.1" rx="2.3" ry="2.1" fill="#5572cc" opacity="0.9"/>
<ellipse cx="216.8" cy="735.9" rx="2.8" ry="2.3" fill="#6f8ad8" opacity="0.9"/>
<ellipse cx="298.3" cy="715.4" rx="2.2" ry="2.2" fill="#8497d4" opacity="0.7"/>
<ellipse cx="235.6" cy="791.8" rx="2.6" ry="2.5" fill="#8497d4" opacity="0.8"/>
<ellipse cx="266.6" cy="727.1" rx="3.8" ry="2.7" fill="#3f60c8" opacity="0.9"/>
<ellipse cx="189.1" cy="727.1" rx="2.4" ry="1.8" fill="#5572cc" opacity="0.8"/>
<ellipse cx="251.4" cy="801.6" rx="2.2" ry="1.4" fill="#8497d4" opacity="0.9"/>
<ellipse cx="184.8" cy="731.7" rx="2.4" ry="1.7" fill="#3f60c8" opacity="0.9"/>
<ellipse cx="278.8" cy="771.9" rx="2.6" ry="1.8" fill="#4a6bd0" opacity="0.8"/>
<ellipse cx="297.6" cy="753" rx="2.3" ry="2.2" fill="#4a6bd0" opacity="0.7"/>
<ellipse cx="262.3" cy="749.1" rx="2.3" ry="1.8" fill="#6f8ad8" opacity="0.9"/>
<ellipse cx="247.2" cy="740.3" rx="1.9" ry="1.1" fill="#4a6bd0" opacity="0.7"/>
<ellipse cx="273.3" cy="745.7" rx="2.6" ry="2.1" fill="#6f8ad8" opacity="0.8"/>
<ellipse cx="219.7" cy="727.8" rx="3.6" ry="3.4" fill="#3f60c8" opacity="0.8"/>
<ellipse cx="293.1" cy="762" rx="1.5" ry="1.4" fill="#5b7bd4" opacity="0.9"/>
<ellipse cx="282.2" cy="717.8" rx="2.5" ry="2" fill="#8497d4" opacity="0.7"/>
<ellipse cx="204.7" cy="752.8" rx="1.6" ry="1.2" fill="#3f60c8" opacity="0.7"/>
<ellipse cx="287.4" cy="782" rx="2.8" ry="2.4" fill="#6f8ad8" opacity="0.9"/>
<ellipse cx="269.2" cy="755.1" rx="2.5" ry="1.7" fill="#3f60c8" opacity="0.9"/>
<ellipse cx="224.1" cy="757" rx="1.6" ry="0.9" fill="#6f8ad8" opacity="0.9"/>
<ellipse cx="186.3" cy="770.9" rx="1.9" ry="1.7" fill="#6f8ad8" opacity="0.9"/>
<ellipse cx="256.1" cy="805.8" rx="2.1" ry="1.8" fill="#5572cc" opacity="0.9"/>
<ellipse cx="239" cy="773.6" rx="2.4" ry="1.4" fill="#6f8ad8" opacity="0.8"/>
<ellipse cx="187.6" cy="737" rx="3.1" ry="2.5" fill="#8497d4" opacity="0.8"/>
<ellipse cx="189.5" cy="751.7" rx="1.8" ry="1.8" fill="#3f60c8" opacity="0.8"/>
<ellipse cx="186.5" cy="729.8" rx="2.8" ry="1.7" fill="#3f60c8" opacity="0.8"/>
<ellipse cx="272.8" cy="711.2" rx="1.7" ry="1.5" fill="#5b7bd4" opacity="0.9"/>
<ellipse cx="240.2" cy="766.1" rx="2.7" ry="2.7" fill="#6f8ad8" opacity="0.8"/>
<ellipse cx="244.4" cy="725.4" rx="2.4" ry="2.3" fill="#5572cc" opacity="0.8"/>
<ellipse cx="232" cy="774.4" rx="2.6" ry="2" fill="#8497d4" opacity="0.7"/>
<ellipse cx="242.9" cy="739.1" rx="1.5" ry="1.5" fill="#3f60c8" opacity="0.7"/>
<ellipse cx="184.1" cy="764.5" rx="2.3" ry="1.8" fill="#3f60c8" opacity="0.9"/>
<ellipse cx="253.1" cy="775.3" rx="2.7" ry="1.7" fill="#6f8ad8" opacity="0.9"/>
<ellipse cx="267.6" cy="816.2" rx="2.2" ry="1.6" fill="#5572cc" opacity="0.9"/>
<ellipse cx="230.3" cy="761.5" rx="2.6" ry="2.1" fill="#5572cc" opacity="0.7"/>
<ellipse cx="216.6" cy="771.3" rx="2.4" ry="2.1" fill="#4a6bd0" opacity="0.8"/>
<ellipse cx="281.2" cy="789.9" rx="2.4" ry="1.6" fill="#8497d4" opacity="0.8"/>
<ellipse cx="268.5" cy="730.4" rx="3.7" ry="2.3" fill="#5572cc" opacity="0.8"/>
<ellipse cx="232.2" cy="816.9" rx="1.9" ry="1.4" fill="#5b7bd4" opacity="0.9"/>
<ellipse cx="263.1" cy="812" rx="2.7" ry="1.8" fill="#5b7bd4" opacity="0.9"/>
<ellipse cx="242.8" cy="782.2" rx="1.5" ry="1.4" fill="#4a6bd0" opacity="0.7"/>
<ellipse cx="243.4" cy="755.1" rx="2.3" ry="1.5" fill="#5572cc" opacity="0.9"/>
<ellipse cx="213.5" cy="716" rx="3.9" ry="3.3" fill="#3f60c8" opacity="0.9"/>
<ellipse cx="228.4" cy="760.9" rx="2.2" ry="1.9" fill="#5b7bd4" opacity="0.8"/>
<ellipse cx="195.5" cy="785.2" rx="2.2" ry="1.5" fill="#8497d4" opacity="0.7"/>
<ellipse cx="211.3" cy="722.4" rx="2.3" ry="1.5" fill="#3f60c8" opacity="0.8"/>
<ellipse cx="239.3" cy="711.8" rx="2.4" ry="1.6" fill="#8497d4" opacity="0.9"/>
<ellipse cx="234.2" cy="735.1" rx="2.7" ry="2.4" fill="#5572cc" opacity="0.9"/>
<ellipse cx="249" cy="745.1" rx="2.2" ry="1.6" fill="#6f8ad8" opacity="0.9"/>
<ellipse cx="197" cy="740.8" rx="1.9" ry="1.8" fill="#6f8ad8" opacity="0.8"/>
<ellipse cx="241" cy="742" rx="3.3" ry="2" fill="#8497d4" opacity="0.8"/>
<ellipse cx="264.3" cy="759.7" rx="1.9" ry="1.8" fill="#3f60c8" opacity="0.8"/>
<ellipse cx="202.7" cy="797.8" rx="1.5" ry="1.1" fill="#8497d4" opacity="0.9"/>
<ellipse cx="269.3" cy="808.1" rx="2.1" ry="2" fill="#8497d4" opacity="0.8"/>
<ellipse cx="222.2" cy="783.1" rx="2.3" ry="2.3" fill="#5572cc" opacity="0.9"/>
<ellipse cx="254" cy="793.3" rx="2.1" ry="1.5" fill="#6f8ad8" opacity="0.9"/>
<ellipse cx="185" cy="721" rx="1.6" ry="1.3" fill="#5572cc" opacity="0.8"/>
<ellipse cx="270.9" cy="732.4" rx="2.1" ry="1.8" fill="#8497d4" opacity="0.8"/>
<ellipse cx="264.4" cy="806.8" rx="2.3" ry="1.9" fill="#5572cc" opacity="0.8"/>
<ellipse cx="246.2" cy="815.4" rx="1.9" ry="1.8" fill="#5b7bd4" opacity="0.8"/>
<ellipse cx="253.4" cy="793.4" rx="2.4" ry="1.6" fill="#5572cc" opacity="0.9"/>
<ellipse cx="264.9" cy="738.7" rx="2.5" ry="2.2" fill="#4a6bd0" opacity="0.9"/>
<ellipse cx="260.1" cy="786.3" rx="2.6" ry="1.9" fill="#5572cc" opacity="0.8"/>
<ellipse cx="243.3" cy="759.3" rx="3" ry="2.6" fill="#6f8ad8" opacity="0.8"/>
<ellipse cx="242.6" cy="731.1" rx="2.5" ry="2.1" fill="#8497d4" opacity="0.9"/>
<ellipse cx="297.1" cy="773.1" rx="1.6" ry="1.6" fill="#8497d4" opacity="0.8"/>
<ellipse cx="179.4" cy="768.6" rx="1.7" ry="1.6" fill="#4a6bd0" opacity="0.8"/>
<ellipse cx="242.5" cy="752.3" rx="2.7" ry="2.3" fill="#5b7bd4" opacity="0.8"/>
<ellipse cx="222.5" cy="745.4" rx="2.2" ry="1.3" fill="#4a6bd0" opacity="0.7"/>
<ellipse cx="182.5" cy="756.8" rx="2.3" ry="1.6" fill="#4a6bd0" opacity="0.8"/>
<ellipse cx="209.1" cy="724.2" rx="2.1" ry="2" fill="#5572cc" opacity="0.9"/>
<ellipse cx="236.7" cy="723.2" rx="1.7" ry="1.3" fill="#8497d4" opacity="0.8"/>
<ellipse cx="263.4" cy="790.5" rx="2.5" ry="1.6" fill="#5572cc" opacity="0.7"/>
<ellipse cx="221.3" cy="716.4" rx="1.6" ry="1.2" fill="#5b7bd4" opacity="0.7"/>
<ellipse cx="256.9" cy="802.4" rx="1.6" ry="1.5" fill="#5b7bd4" opacity="0.8"/>
<ellipse cx="208.3" cy="765.5" rx="3.4" ry="2.7" fill="#5572cc" opacity="0.8"/>
<ellipse cx="281.5" cy="773.2" rx="2.1" ry="1.4" fill="#4a6bd0" opacity="0.8"/>
<ellipse cx="215.6" cy="794.3" rx="2.6" ry="1.8" fill="#3f60c8" opacity="0.7"/>
<ellipse cx="212.7" cy="795.9" rx="1.8" ry="1.7" fill="#6f8ad8" opacity="0.8"/>
<ellipse cx="178.2" cy="725.8" rx="3.9" ry="2.7" fill="#5b7bd4" opacity="0.7"/>
<ellipse cx="258.9" cy="815" rx="2.2" ry="1.4" fill="#6f8ad8" opacity="0.8"/>
<ellipse cx="233.1" cy="775.9" rx="2" ry="1.1" fill="#3f60c8" opacity="0.8"/>
<ellipse cx="217.5" cy="755.8" rx="1.8" ry="1.8" fill="#5572cc" opacity="0.8"/>
<ellipse cx="276" cy="802.2" rx="2.4" ry="2.4" fill="#6f8ad8" opacity="0.8"/>
<ellipse cx="226.2" cy="735.6" rx="2.2" ry="2" fill="#3f60c8" opacity="0.8"/>
<ellipse cx="183.4" cy="738.5" rx="1.9" ry="1.9" fill="#8497d4" opacity="0.9"/>
<ellipse cx="228.5" cy="717.1" rx="2.3" ry="2.3" fill="#6f8ad8" opacity="0.7"/>
<ellipse cx="258.6" cy="751.2" rx="1.6" ry="0.9" fill="#8497d4" opacity="0.7"/>
<ellipse cx="294.4" cy="798.4" rx="2.5" ry="1.5" fill="#5572cc" opacity="0.8"/>
<ellipse cx="248.4" cy="795.2" rx="2.3" ry="1.6" fill="#8497d4" opacity="0.8"/>
<ellipse cx="227" cy="792" rx="1.9" ry="1.5" fill="#6f8ad8" opacity="0.8"/>
<ellipse cx="250.6" cy="800.7" rx="2.4" ry="1.6" fill="#5b7bd4" opacity="0.8"/>
<ellipse cx="270.7" cy="720.9" rx="1.8" ry="1.3" fill="#6f8ad8" opacity="0.9"/>
<ellipse cx="231.1" cy="782.3" rx="1.8" ry="1.4" fill="#3f60c8" opacity="0.7"/>
<ellipse cx="287.2" cy="758.4" rx="2" ry="1.9" fill="#5572cc" opacity="0.9"/>
<ellipse cx="300.5" cy="752.4" rx="2.6" ry="1.9" fill="#3f60c8" opacity="0.9"/>
<ellipse cx="215.4" cy="744.6" rx="2.4" ry="2" fill="#5b7bd4" opacity="0.9"/>
<ellipse cx="190.8" cy="776" rx="1.8" ry="1.5" fill="#8497d4" opacity="0.9"/>
<ellipse cx="181.9" cy="792.1" rx="2.3" ry="1.4" fill="#6f8ad8" opacity="0.8"/>
<ellipse cx="253.7" cy="761.5" rx="1.7" ry="1.6" fill="#6f8ad8" opacity="0.7"/>
<ellipse cx="193.5" cy="777.6" rx="2.5" ry="1.4" fill="#5b7bd4" opacity="0.8"/>
<ellipse cx="258.5" cy="723.3" rx="2.3" ry="2.1" fill="#3f60c8" opacity="0.9"/>
<ellipse cx="282.5" cy="795.8" rx="1.9" ry="1.1" fill="#3f60c8" opacity="0.9"/>
<ellipse cx="262.8" cy="797.8" rx="1.9" ry="1.7" fill="#8497d4" opacity="0.9"/>
<ellipse cx="207.3" cy="765.3" rx="2" ry="1.3" fill="#4a6bd0" opacity="0.7"/>
<ellipse cx="263.5" cy="764.4" rx="3.8" ry="3.2" fill="#5b7bd4" opacity="0.8"/>
<ellipse cx="205.7" cy="804.5" rx="2" ry="2" fill="#3f60c8" opacity="0.8"/>
<ellipse cx="184" cy="739.9" rx="2.2" ry="1.4" fill="#8497d4" opacity="0.7"/>
<ellipse cx="262.9" cy="807.9" rx="1.9" ry="1.5" fill="#3f60c8" opacity="0.7"/>
<ellipse cx="178.3" cy="764.9" rx="2.4" ry="1.8" fill="#8497d4" opacity="0.7"/>
<ellipse cx="179.6" cy="756.1" rx="2.7" ry="2.4" fill="#4a6bd0" opacity="0.9"/>
<ellipse cx="285.6" cy="733.2" rx="1.7" ry="1.2" fill="#5572cc" opacity="0.8"/>
<ellipse cx="200.8" cy="741.6" rx="3.8" ry="2.5" fill="#6f8ad8" opacity="0.9"/>
<ellipse cx="238.3" cy="792" rx="2.5" ry="2" fill="#8497d4" opacity="0.7"/>
<ellipse cx="212.1" cy="754.4" rx="1.8" ry="1.1" fill="#3f60c8" opacity="0.8"/>
<ellipse cx="187.9" cy="742.8" rx="3.7" ry="3" fill="#4a6bd0" opacity="0.8"/>
<ellipse cx="268.7" cy="722.9" rx="1.9" ry="1.7" fill="#5b7bd4" opacity="0.7"/>
<ellipse cx="257.4" cy="798.8" rx="3.8" ry="2.5" fill="#5572cc" opacity="0.8"/>
<ellipse cx="247.9" cy="797.4" rx="2.8" ry="2.3" fill="#3f60c8" opacity="0.7"/>
<ellipse cx="296.6" cy="776.6" rx="3" ry="1.7" fill="#6f8ad8" opacity="0.9"/>
<ellipse cx="231.4" cy="776.7" rx="2.2" ry="2" fill="#6f8ad8" opacity="0.7"/>
<ellipse cx="290.5" cy="793.9" rx="1.7" ry="1.3" fill="#5b7bd4" opacity="0.9"/>
<ellipse cx="274" cy="741.5" rx="1.7" ry="1.4" fill="#5b7bd4" opacity="0.7"/>
<ellipse cx="235.8" cy="803.4" rx="1.6" ry="1" fill="#6f8ad8" opacity="0.7"/>
<ellipse cx="290.8" cy="761.3" rx="2.6" ry="1.5" fill="#8497d4" opacity="0.8"/>
<ellipse cx="288.4" cy="734.8" rx="2" ry="2" fill="#3f60c8" opacity="0.8"/>
<ellipse cx="226" cy="769.7" rx="2.5" ry="1.5" fill="#4a6bd0" opacity="0.8"/>
<ellipse cx="212.6" cy="777.4" rx="2.6" ry="1.5" fill="#3f60c8" opacity="0.9"/>
<ellipse cx="220.1" cy="794.2" rx="2.7" ry="1.5" fill="#3f60c8" opacity="0.7"/>
<ellipse cx="277.4" cy="774.3" rx="2.1" ry="1.5" fill="#5572cc" opacity="0.8"/>
<ellipse cx="184.1" cy="802.4" rx="3.5" ry="3" fill="#5b7bd4" opacity="0.9"/>
<ellipse cx="229.1" cy="749.8" rx="1.9" ry="1.5" fill="#8497d4" opacity="0.9"/>
<ellipse cx="240.4" cy="786" rx="2.1" ry="1.8" fill="#5572cc" opacity="0.8"/>
<ellipse cx="274.7" cy="779.2" rx="2.6" ry="2.4" fill="#3f60c8" opacity="0.8"/>
<ellipse cx="253.8" cy="767.7" rx="1.9" ry="1.2" fill="#3f60c8" opacity="0.8"/>
<ellipse cx="181" cy="717.4" rx="2.2" ry="1.5" fill="#8497d4" opacity="0.8"/>
<ellipse cx="234.9" cy="711.4" rx="2.8" ry="2.4" fill="#5572cc" opacity="0.7"/>
<ellipse cx="256.2" cy="768.8" rx="1.5" ry="0.9" fill="#5b7bd4" opacity="0.8"/>
<ellipse cx="270.5" cy="787.3" rx="3.9" ry="2.8" fill="#4a6bd0" opacity="0.7"/>
<ellipse cx="182.1" cy="763.5" rx="1.9" ry="1.8" fill="#8497d4" opacity="0.9"/>
<ellipse cx="281.9" cy="712.5" rx="2.3" ry="2.1" fill="#8497d4" opacity="0.9"/>
<ellipse cx="181.9" cy="778.5" rx="1.7" ry="1.1" fill="#4a6bd0" opacity="0.8"/>
<ellipse cx="203.2" cy="749.9" rx="1.6" ry="1" fill="#6f8ad8" opacity="0.8"/>
<ellipse cx="207.8" cy="812.6" rx="2.4" ry="2" fill="#5b7bd4" opacity="0.9"/>
<ellipse cx="205.8" cy="760" rx="2.8" ry="2.8" fill="#5572cc" opacity="0.7"/>
<ellipse cx="206.9" cy="807.4" rx="1.5" ry="1" fill="#4a6bd0" opacity="0.8"/>
<ellipse cx="192.8" cy="727.7" rx="2.2" ry="1.9" fill="#5b7bd4" opacity="0.8"/>
<ellipse cx="192.1" cy="790" rx="2.3" ry="2.2" fill="#6f8ad8" opacity="0.9"/>
<ellipse cx="270.6" cy="811" rx="2.4" ry="1.7" fill="#8497d4" opacity="0.9"/>
<ellipse cx="258.2" cy="770.1" rx="2.2" ry="1.3" fill="#4a6bd0" opacity="0.9"/>
<ellipse cx="226.9" cy="778" rx="1.6" ry="1.6" fill="#5b7bd4" opacity="0.8"/>
<ellipse cx="253.2" cy="780.4" rx="2.5" ry="1.9" fill="#5572cc" opacity="0.8"/>
<ellipse cx="236.4" cy="800.7" rx="2.2" ry="1.7" fill="#8497d4" opacity="0.8"/>
<ellipse cx="235.8" cy="764.2" rx="2.8" ry="2.3" fill="#3f60c8" opacity="0.7"/>
<ellipse cx="193.8" cy="714.1" rx="3.6" ry="3" fill="#5b7bd4" opacity="0.7"/>
<ellipse cx="293.9" cy="802.4" rx="3.1" ry="1.9" fill="#6f8ad8" opacity="0.8"/>
<ellipse cx="290.3" cy="791.4" rx="1.8" ry="1.4" fill="#5572cc" opacity="0.7"/>
<ellipse cx="187.5" cy="782" rx="2.1" ry="1.3" fill="#5b7bd4" opacity="0.7"/>
<ellipse cx="271.8" cy="753.5" rx="2" ry="1.6" fill="#5b7bd4" opacity="0.9"/>
<ellipse cx="259.6" cy="744.1" rx="2.5" ry="2.3" fill="#5572cc" opacity="0.7"/>
<ellipse cx="217.9" cy="788" rx="2.7" ry="2.6" fill="#4a6bd0" opacity="0.7"/>
<ellipse cx="286.8" cy="769.9" rx="1.6" ry="1.6" fill="#4a6bd0" opacity="0.9"/>
<ellipse cx="212" cy="714.7" rx="1.7" ry="1.4" fill="#8497d4" opacity="0.9"/>
<ellipse cx="273.1" cy="713.3" rx="1.8" ry="1.6" fill="#5572cc" opacity="0.8"/>
<ellipse cx="217.4" cy="716.3" rx="1.8" ry="1.2" fill="#5572cc" opacity="0.8"/>
<ellipse cx="181" cy="725.1" rx="2.2" ry="1.4" fill="#8497d4" opacity="0.8"/>
<ellipse cx="255" cy="740.7" rx="2.3" ry="2.3" fill="#5b7bd4" opacity="0.7"/>
<ellipse cx="278.9" cy="794.5" rx="2.2" ry="1.4" fill="#8497d4" opacity="0.9"/>
<ellipse cx="199.4" cy="751.4" rx="2.3" ry="2.1" fill="#5572cc" opacity="0.8"/>
<ellipse cx="255" cy="764.9" rx="2.1" ry="1.6" fill="#8497d4" opacity="0.9"/>
<ellipse cx="286.7" cy="778.8" rx="3.4" ry="3.3" fill="#4a6bd0" opacity="0.9"/>
<ellipse cx="191" cy="765.2" rx="2.5" ry="2.2" fill="#8497d4" opacity="0.7"/>
<ellipse cx="199.2" cy="791.9" rx="1.6" ry="1.3" fill="#4a6bd0" opacity="0.8"/>
<ellipse cx="206.5" cy="743.4" rx="2.6" ry="2" fill="#8497d4" opacity="0.7"/>
<ellipse cx="233.2" cy="757.3" rx="2.1" ry="2.1" fill="#5b7bd4" opacity="0.9"/>
<ellipse cx="207.1" cy="795.3" rx="1.9" ry="1.1" fill="#3f60c8" opacity="0.9"/>
<ellipse cx="268.9" cy="802.4" rx="2.3" ry="1.7" fill="#8497d4" opacity="0.7"/>
<ellipse cx="270.2" cy="815.1" rx="1.5" ry="1.1" fill="#3f60c8" opacity="0.9"/>
<ellipse cx="211.2" cy="816.1" rx="2.8" ry="2.2" fill="#5572cc" opacity="0.9"/>
<ellipse cx="243.2" cy="771.1" rx="1.6" ry="1.1" fill="#4a6bd0" opacity="0.7"/>
<ellipse cx="241.2" cy="793" rx="2.1" ry="1.3" fill="#8497d4" opacity="0.9"/>
<ellipse cx="274.8" cy="814.5" rx="2.3" ry="1.4" fill="#4a6bd0" opacity="0.9"/>
<ellipse cx="186.9" cy="724.6" rx="2.4" ry="2.3" fill="#4a6bd0" opacity="0.9"/>
<ellipse cx="185.4" cy="733.8" rx="2.2" ry="1.6" fill="#6f8ad8" opacity="0.9"/>
<ellipse cx="221.4" cy="802.9" rx="2.4" ry="2.2" fill="#5b7bd4" opacity="0.7"/>
<ellipse cx="289.8" cy="781.5" rx="2.3" ry="1.3" fill="#5b7bd4" opacity="0.9"/>
<ellipse cx="271.2" cy="725.8" rx="1.8" ry="1" fill="#6f8ad8" opacity="0.9"/>
<rect x="146" y="671" width="186" height="186" fill="#000" filter="url(#vf4)" transform="rotate(-30 239 764)"/>
<rect x="273" y="806.5" width="23" height="4" fill="#ffffff" stroke="#000" stroke-width="1"/>
<text x="284.5" y="809.6" font-size="2.6" text-anchor="middle" fill="#000">100 μm</text>
</g>
<clipPath id="hc5"><rect x="306" y="711" width="125" height="106"/></clipPath>
<filter id="vf5" x="0" y="0" width="1" height="1" color-interpolation-filters="sRGB"><feTurbulence type="fractalNoise" baseFrequency="0.089 0.138" numOctaves="3" seed="16" result="n0"/><feGaussianBlur in="n0" stdDeviation="1.0" result="n"/><feColorMatrix in="n" type="matrix" values="0 0 0 0 0 0 0 0 0 0 0 0 0 0 0 1 0 0 0 0" result="r"/><feComponentTransfer in="r" result="A"><feFuncA type="discrete" tableValues="0 0 0 0 0 0 0 0 0 1 1 1 1 1 1 1 1 1 1 1"/></feComponentTransfer><feComponentTransfer in="r" result="W"><feFuncA type="discrete" tableValues="0 0 0 0 0 0 0 0 0 0 1 1 1 1 1 1 1 1 1 1"/></feComponentTransfer><feMorphology in="A" operator="dilate" radius="0.7" result="D"/><feComposite in="D" in2="A" operator="out" result="E"/><feComposite in="A" in2="W" operator="out" result="H"/><feFlood flood-color="#a07e44"/><feComposite operator="in" in2="E" result="Ec"/><feFlood flood-color="#d0b27c" flood-opacity="0.5"/><feComposite operator="in" in2="H" result="Hc"/><feFlood flood-color="#f6f4f0" flood-opacity="0.7"/><feComposite operator="in" in2="W" result="Wc"/><feMerge><feMergeNode in="Wc"/><feMergeNode in="Hc"/><feMergeNode in="Ec"/></feMerge></filter>
<g clip-path="url(#hc5)">
<rect x="306" y="711" width="125" height="106" fill="#e6e3de"/>
<ellipse cx="419.5" cy="746.5" rx="9.7" ry="3.2" fill="#d6c096" opacity="0.3"/>
<ellipse cx="346.2" cy="725" rx="4.2" ry="5.6" fill="#cfb893" opacity="0.2"/>
<ellipse cx="354.5" cy="814" rx="7.3" ry="5.3" fill="#cfb893" opacity="0.2"/>
<ellipse cx="418.7" cy="784.5" rx="9.9" ry="4.4" fill="#bcb8cc" opacity="0.3"/>
<ellipse cx="411.3" cy="767" rx="3.4" ry="3.3" fill="#cfb893" opacity="0.3"/>
<ellipse cx="428.2" cy="747.6" rx="8.4" ry="5.5" fill="#bcb8cc" opacity="0.3"/>
<ellipse cx="432.7" cy="791.4" rx="9.7" ry="5.5" fill="#cfb893" opacity="0.3"/>
<ellipse cx="386.1" cy="762.9" rx="6.6" ry="4.4" fill="#bcb8cc" opacity="0.3"/>
<ellipse cx="407.9" cy="814" rx="9.3" ry="4.3" fill="#bcb8cc" opacity="0.2"/>
<ellipse cx="396.3" cy="771.6" rx="6.9" ry="5.4" fill="#d6c096" opacity="0.2"/>
<ellipse cx="349.1" cy="804.6" rx="6.8" ry="2.8" fill="#d6c096" opacity="0.3"/>
<ellipse cx="326.1" cy="794" rx="6.2" ry="4.3" fill="#cfb893" opacity="0.3"/>
<ellipse cx="389.7" cy="714.7" rx="3.5" ry="4.3" fill="#bcb8cc" opacity="0.2"/>
<ellipse cx="389.6" cy="781.5" rx="5.9" ry="2.3" fill="#cfb893" opacity="0.3"/>
<ellipse cx="425.1" cy="763.1" rx="6.1" ry="4.5" fill="#d6c096" opacity="0.2"/>
<ellipse cx="403.8" cy="739.2" rx="4.6" ry="2.5" fill="#d6c096" opacity="0.2"/>
<ellipse cx="395.5" cy="821.7" rx="9.5" ry="5.3" fill="#d6c096" opacity="0.2"/>
<ellipse cx="316.9" cy="802.8" rx="6.7" ry="3.9" fill="#bcb8cc" opacity="0.1"/>
<ellipse cx="323.4" cy="786.3" rx="7" ry="2.2" fill="#d6c096" opacity="0.3"/>
<ellipse cx="415.6" cy="805.3" rx="7.6" ry="3.4" fill="#d6c096" opacity="0.2"/>
<ellipse cx="326.7" cy="780.6" rx="7.5" ry="2.4" fill="#cfb893" opacity="0.2"/>
<ellipse cx="424.2" cy="799.8" rx="8.4" ry="5.3" fill="#d6c096" opacity="0.3"/>
<ellipse cx="305.7" cy="785.5" rx="3.6" ry="5" fill="#bcb8cc" opacity="0.2"/>
<ellipse cx="413.8" cy="794.2" rx="6.1" ry="3.9" fill="#bcb8cc" opacity="0.2"/>
<ellipse cx="365.1" cy="709" rx="5.1" ry="3.8" fill="#d6c096" opacity="0.2"/>
<ellipse cx="377.7" cy="714.2" rx="5.5" ry="3.5" fill="#d6c096" opacity="0.3"/>
<ellipse cx="305.6" cy="754.3" rx="6.2" ry="4.9" fill="#bcb8cc" opacity="0.3"/>
<ellipse cx="361.7" cy="714.9" rx="3.4" ry="6" fill="#cfb893" opacity="0.3"/>
<ellipse cx="408.7" cy="777.3" rx="7" ry="3.8" fill="#bcb8cc" opacity="0.3"/>
<ellipse cx="377.1" cy="717.2" rx="4.3" ry="2" fill="#bcb8cc" opacity="0.3"/>
<ellipse cx="374.2" cy="772.2" rx="7.7" ry="3.9" fill="#d6c096" opacity="0.2"/>
<ellipse cx="434.2" cy="738.6" rx="5.2" ry="4" fill="#cfb893" opacity="0.2"/>
<ellipse cx="390.7" cy="814.7" rx="4.8" ry="2.8" fill="#bcb8cc" opacity="0.2"/>
<ellipse cx="346.2" cy="811.9" rx="9.7" ry="3" fill="#d6c096" opacity="0.3"/>
<ellipse cx="354.7" cy="803" rx="5.3" ry="3.3" fill="#bcb8cc" opacity="0.3"/>
<ellipse cx="303" cy="713.7" rx="9.9" ry="3.5" fill="#bcb8cc" opacity="0.3"/>
<ellipse cx="408.9" cy="786.9" rx="5.5" ry="4.4" fill="#bcb8cc" opacity="0.2"/>
<ellipse cx="380.5" cy="710.8" rx="3.1" ry="3.9" fill="#cfb893" opacity="0.2"/>
<ellipse cx="318.5" cy="818.9" rx="9.5" ry="3.1" fill="#cfb893" opacity="0.2"/>
<ellipse cx="314.8" cy="735.1" rx="9.7" ry="2.9" fill="#d6c096" opacity="0.3"/>
<rect x="306" y="711" width="125" height="106" fill="url(#spk)" opacity="0.5"/>
<ellipse cx="376.4" cy="792" rx="1.6" ry="0.9" fill="#6f8ad8" opacity="0.7"/>
<ellipse cx="311.2" cy="760" rx="3" ry="2.9" fill="#3f60c8" opacity="0.9"/>
<ellipse cx="306.4" cy="769.4" rx="1.9" ry="1.6" fill="#8497d4" opacity="0.9"/>
<ellipse cx="412" cy="737.8" rx="2.7" ry="1.7" fill="#6f8ad8" opacity="0.8"/>
<ellipse cx="411.3" cy="775" rx="2.6" ry="1.8" fill="#5572cc" opacity="0.9"/>
<ellipse cx="430.9" cy="746.7" rx="2.3" ry="1.4" fill="#3f60c8" opacity="0.8"/>
<ellipse cx="355.2" cy="723.5" rx="2.6" ry="1.7" fill="#6f8ad8" opacity="0.8"/>
<ellipse cx="358.7" cy="797.1" rx="1.6" ry="1.3" fill="#3f60c8" opacity="0.8"/>
<ellipse cx="403.8" cy="722.3" rx="2.2" ry="1.3" fill="#5b7bd4" opacity="0.8"/>
<ellipse cx="415.6" cy="719.9" rx="2.3" ry="1.3" fill="#3f60c8" opacity="0.9"/>
<ellipse cx="366.7" cy="721.9" rx="2.1" ry="2" fill="#5572cc" opacity="0.9"/>
<ellipse cx="379.7" cy="791" rx="1.7" ry="1.4" fill="#5b7bd4" opacity="0.9"/>
<ellipse cx="316.1" cy="770.2" rx="1.8" ry="1.6" fill="#3f60c8" opacity="0.8"/>
<ellipse cx="363.9" cy="732.7" rx="1.8" ry="1.3" fill="#8497d4" opacity="0.8"/>
<ellipse cx="382.6" cy="740.5" rx="3.4" ry="2.9" fill="#5572cc" opacity="0.8"/>
<ellipse cx="411.6" cy="793.2" rx="1.6" ry="1.2" fill="#4a6bd0" opacity="0.8"/>
<ellipse cx="307" cy="753.2" rx="2.6" ry="2.6" fill="#8497d4" opacity="0.8"/>
<ellipse cx="392.1" cy="771.6" rx="1.7" ry="1.2" fill="#5572cc" opacity="0.9"/>
<ellipse cx="399.1" cy="814.7" rx="4" ry="2.8" fill="#5b7bd4" opacity="0.8"/>
<ellipse cx="327.4" cy="789.6" rx="2.5" ry="1.8" fill="#3f60c8" opacity="0.8"/>
<ellipse cx="339.4" cy="796.1" rx="2" ry="1.1" fill="#3f60c8" opacity="0.8"/>
<ellipse cx="388.6" cy="784.2" rx="1.7" ry="0.9" fill="#3f60c8" opacity="0.7"/>
<ellipse cx="348.6" cy="806.5" rx="1.8" ry="1.3" fill="#4a6bd0" opacity="0.8"/>
<ellipse cx="399" cy="768.2" rx="2.3" ry="1.9" fill="#3f60c8" opacity="0.9"/>
<ellipse cx="379.2" cy="794.5" rx="1.8" ry="1" fill="#5572cc" opacity="0.8"/>
<ellipse cx="401.9" cy="785.1" rx="2.8" ry="2" fill="#8497d4" opacity="0.8"/>
<ellipse cx="360.2" cy="779.9" rx="3.1" ry="3.1" fill="#8497d4" opacity="0.8"/>
<ellipse cx="329.5" cy="790.6" rx="2.2" ry="1.8" fill="#6f8ad8" opacity="0.9"/>
<ellipse cx="413.6" cy="808.9" rx="1.9" ry="1.4" fill="#8497d4" opacity="0.7"/>
<ellipse cx="338.6" cy="748.2" rx="2.1" ry="1.7" fill="#6f8ad8" opacity="0.7"/>
<ellipse cx="339.1" cy="727.8" rx="2.6" ry="1.6" fill="#8497d4" opacity="0.9"/>
<ellipse cx="342.9" cy="717.1" rx="2" ry="1.8" fill="#5b7bd4" opacity="0.9"/>
<ellipse cx="319.8" cy="722.6" rx="1.7" ry="1" fill="#8497d4" opacity="0.8"/>
<ellipse cx="425.6" cy="726.7" rx="2.7" ry="2.6" fill="#3f60c8" opacity="0.9"/>
<ellipse cx="334.8" cy="797.5" rx="1.7" ry="1" fill="#5572cc" opacity="0.8"/>
<ellipse cx="344.5" cy="739.5" rx="2.5" ry="2.2" fill="#3f60c8" opacity="0.8"/>
<ellipse cx="413.6" cy="734.5" rx="1.7" ry="1.3" fill="#5572cc" opacity="0.7"/>
<ellipse cx="328.1" cy="796.3" rx="1.9" ry="1.9" fill="#3f60c8" opacity="0.9"/>
<ellipse cx="364.1" cy="749.6" rx="1.5" ry="1" fill="#4a6bd0" opacity="0.8"/>
<ellipse cx="315.6" cy="725.7" rx="1.6" ry="1.5" fill="#6f8ad8" opacity="0.8"/>
<ellipse cx="329.7" cy="803.8" rx="1.5" ry="1.1" fill="#6f8ad8" opacity="0.9"/>
<ellipse cx="342.2" cy="793.9" rx="2.1" ry="1.3" fill="#5572cc" opacity="0.9"/>
<ellipse cx="374" cy="760.2" rx="2.3" ry="2.3" fill="#5b7bd4" opacity="0.7"/>
<ellipse cx="324.5" cy="806.6" rx="1.9" ry="1.7" fill="#5b7bd4" opacity="0.7"/>
<ellipse cx="369.3" cy="714.6" rx="1.7" ry="1.2" fill="#5572cc" opacity="0.8"/>
<ellipse cx="327.2" cy="772.2" rx="1.5" ry="1.4" fill="#8497d4" opacity="0.8"/>
<ellipse cx="366.8" cy="742.7" rx="2.1" ry="1.2" fill="#3f60c8" opacity="0.7"/>
<ellipse cx="340.2" cy="812.8" rx="2.3" ry="1.9" fill="#5b7bd4" opacity="0.9"/>
<ellipse cx="430.8" cy="737" rx="2" ry="1.5" fill="#5b7bd4" opacity="0.8"/>
<ellipse cx="345.7" cy="768.5" rx="2.3" ry="1.6" fill="#6f8ad8" opacity="0.9"/>
<ellipse cx="324.4" cy="715.4" rx="2.3" ry="2.1" fill="#6f8ad8" opacity="0.7"/>
<ellipse cx="402.4" cy="757.3" rx="1.6" ry="1.2" fill="#8497d4" opacity="0.7"/>
<ellipse cx="416.5" cy="765.1" rx="1.7" ry="1.3" fill="#4a6bd0" opacity="0.9"/>
<ellipse cx="419.2" cy="766.9" rx="2.8" ry="2" fill="#5572cc" opacity="0.8"/>
<ellipse cx="337.6" cy="789.8" rx="1.6" ry="1.3" fill="#5b7bd4" opacity="0.8"/>
<ellipse cx="327.1" cy="762.9" rx="2" ry="1.4" fill="#6f8ad8" opacity="0.9"/>
<ellipse cx="357.5" cy="793.5" rx="1.6" ry="1.2" fill="#5b7bd4" opacity="0.7"/>
<ellipse cx="410.7" cy="762.7" rx="1.7" ry="1.6" fill="#4a6bd0" opacity="0.9"/>
<ellipse cx="376.3" cy="737.5" rx="1.9" ry="1.6" fill="#5b7bd4" opacity="0.8"/>
<ellipse cx="364.8" cy="790.5" rx="2.1" ry="1.6" fill="#5b7bd4" opacity="0.8"/>
<ellipse cx="355.7" cy="753.4" rx="1.8" ry="1.7" fill="#4a6bd0" opacity="0.9"/>
<ellipse cx="364" cy="759.8" rx="2.6" ry="2" fill="#4a6bd0" opacity="0.7"/>
<ellipse cx="423.7" cy="748.1" rx="2.3" ry="1.5" fill="#6f8ad8" opacity="0.8"/>
<ellipse cx="369.6" cy="753.7" rx="1.6" ry="1.4" fill="#4a6bd0" opacity="0.9"/>
<ellipse cx="407.3" cy="775" rx="1.8" ry="1.5" fill="#5572cc" opacity="0.9"/>
<ellipse cx="424.2" cy="741.8" rx="2.7" ry="1.7" fill="#5b7bd4" opacity="0.7"/>
<ellipse cx="367.4" cy="752.1" rx="1.8" ry="1.2" fill="#5572cc" opacity="0.8"/>
<ellipse cx="315.6" cy="813.8" rx="2.4" ry="2.1" fill="#5572cc" opacity="0.9"/>
<ellipse cx="418.8" cy="778.3" rx="2.4" ry="2.3" fill="#6f8ad8" opacity="0.8"/>
<ellipse cx="416.2" cy="736.3" rx="1.6" ry="0.9" fill="#6f8ad8" opacity="0.9"/>
<ellipse cx="353.7" cy="789.8" rx="2.8" ry="1.7" fill="#8497d4" opacity="0.7"/>
<ellipse cx="367.3" cy="792.4" rx="2" ry="1.6" fill="#4a6bd0" opacity="0.9"/>
<ellipse cx="428.6" cy="789.6" rx="2.3" ry="1.7" fill="#8497d4" opacity="0.9"/>
<ellipse cx="320.7" cy="809.9" rx="2.7" ry="1.7" fill="#6f8ad8" opacity="0.8"/>
<ellipse cx="375.9" cy="742.8" rx="2.5" ry="1.9" fill="#4a6bd0" opacity="0.9"/>
<ellipse cx="363.6" cy="731.6" rx="2.7" ry="1.8" fill="#5b7bd4" opacity="0.8"/>
<ellipse cx="331.2" cy="731.9" rx="1.5" ry="1.2" fill="#3f60c8" opacity="0.8"/>
<ellipse cx="318" cy="791.2" rx="2.3" ry="1.7" fill="#8497d4" opacity="0.8"/>
<ellipse cx="373.3" cy="732.3" rx="2.3" ry="2.2" fill="#5572cc" opacity="0.8"/>
<ellipse cx="333.7" cy="764.6" rx="3.6" ry="3.2" fill="#5572cc" opacity="0.7"/>
<ellipse cx="412.8" cy="803.5" rx="1.5" ry="1.2" fill="#6f8ad8" opacity="0.8"/>
<ellipse cx="422.6" cy="806" rx="1.8" ry="1.2" fill="#5572cc" opacity="0.9"/>
<ellipse cx="316.4" cy="812.5" rx="2.4" ry="1.5" fill="#4a6bd0" opacity="0.8"/>
<ellipse cx="414.8" cy="766.1" rx="1.9" ry="1.2" fill="#5b7bd4" opacity="0.8"/>
<ellipse cx="345.9" cy="769.6" rx="2" ry="1.2" fill="#5572cc" opacity="0.9"/>
<ellipse cx="308.2" cy="723.5" rx="1.7" ry="1.6" fill="#6f8ad8" opacity="0.9"/>
<ellipse cx="333.8" cy="739.9" rx="2.1" ry="1.5" fill="#5b7bd4" opacity="0.8"/>
<ellipse cx="342.4" cy="801.9" rx="1.5" ry="1.2" fill="#4a6bd0" opacity="0.8"/>
<ellipse cx="384.7" cy="765.5" rx="2.1" ry="1.4" fill="#5572cc" opacity="0.7"/>
<ellipse cx="371.9" cy="762.4" rx="2.8" ry="2.2" fill="#8497d4" opacity="0.9"/>
<ellipse cx="363.2" cy="743.5" rx="1.7" ry="1.7" fill="#4a6bd0" opacity="0.8"/>
<ellipse cx="356.9" cy="749.5" rx="2" ry="1.6" fill="#3f60c8" opacity="0.9"/>
<ellipse cx="384.4" cy="779.7" rx="2.6" ry="2" fill="#5572cc" opacity="0.7"/>
<ellipse cx="329.2" cy="764.8" rx="2.7" ry="2.3" fill="#5572cc" opacity="0.8"/>
<ellipse cx="398.8" cy="761.8" rx="2.5" ry="1.9" fill="#6f8ad8" opacity="0.8"/>
<ellipse cx="379.2" cy="784.9" rx="2.6" ry="2.1" fill="#5b7bd4" opacity="0.9"/>
<ellipse cx="333.2" cy="747.4" rx="1.9" ry="1.8" fill="#6f8ad8" opacity="0.9"/>
<ellipse cx="320.6" cy="784.2" rx="2.3" ry="2.3" fill="#6f8ad8" opacity="0.9"/>
<ellipse cx="337.9" cy="802.7" rx="1.8" ry="1.2" fill="#3f60c8" opacity="0.9"/>
<ellipse cx="318.5" cy="803.1" rx="1.9" ry="1.7" fill="#5572cc" opacity="0.8"/>
<ellipse cx="321.3" cy="776.7" rx="1.6" ry="1.3" fill="#8497d4" opacity="0.8"/>
<ellipse cx="317.4" cy="757.9" rx="1.6" ry="1.4" fill="#5b7bd4" opacity="0.9"/>
<ellipse cx="345" cy="811.6" rx="2.4" ry="2.2" fill="#8497d4" opacity="0.9"/>
<ellipse cx="378.2" cy="809" rx="1.7" ry="1" fill="#4a6bd0" opacity="0.8"/>
<ellipse cx="394.6" cy="780.4" rx="2.6" ry="2.4" fill="#5572cc" opacity="0.7"/>
<ellipse cx="357.3" cy="716" rx="2.6" ry="1.7" fill="#6f8ad8" opacity="0.9"/>
<ellipse cx="390.8" cy="809.5" rx="2.2" ry="2.1" fill="#5572cc" opacity="0.9"/>
<ellipse cx="325.2" cy="742.5" rx="1.9" ry="1.8" fill="#6f8ad8" opacity="0.9"/>
<ellipse cx="333.6" cy="739.2" rx="1.9" ry="1.5" fill="#4a6bd0" opacity="0.9"/>
<ellipse cx="332.1" cy="809.3" rx="2.9" ry="1.7" fill="#6f8ad8" opacity="0.8"/>
<ellipse cx="311.5" cy="785" rx="1.5" ry="1" fill="#5b7bd4" opacity="0.9"/>
<ellipse cx="385.8" cy="815.9" rx="1.6" ry="1.5" fill="#5572cc" opacity="0.7"/>
<ellipse cx="330.5" cy="732.2" rx="1.8" ry="1.6" fill="#4a6bd0" opacity="0.7"/>
<ellipse cx="394.3" cy="751.2" rx="2.7" ry="2.3" fill="#5b7bd4" opacity="0.9"/>
<ellipse cx="319.7" cy="766.5" rx="1.8" ry="1.6" fill="#3f60c8" opacity="0.8"/>
<ellipse cx="425.4" cy="719.2" rx="2.3" ry="1.5" fill="#5b7bd4" opacity="0.9"/>
<ellipse cx="318.8" cy="714.1" rx="2.4" ry="1.7" fill="#6f8ad8" opacity="0.9"/>
<ellipse cx="375.3" cy="796.3" rx="2.6" ry="1.8" fill="#3f60c8" opacity="0.9"/>
<ellipse cx="319.1" cy="794.9" rx="1.8" ry="1.8" fill="#6f8ad8" opacity="0.7"/>
<ellipse cx="325.5" cy="712.7" rx="2.5" ry="2.3" fill="#5b7bd4" opacity="0.9"/>
<ellipse cx="385" cy="728.9" rx="1.8" ry="1.3" fill="#8497d4" opacity="0.7"/>
<ellipse cx="373.7" cy="769.1" rx="1.6" ry="1.6" fill="#5b7bd4" opacity="0.9"/>
<ellipse cx="427.8" cy="763.1" rx="2.7" ry="2.3" fill="#8497d4" opacity="0.9"/>
<ellipse cx="374.1" cy="757" rx="2.4" ry="1.4" fill="#3f60c8" opacity="0.9"/>
<ellipse cx="348.9" cy="728.5" rx="2.5" ry="1.7" fill="#8497d4" opacity="0.8"/>
<ellipse cx="350.1" cy="774.3" rx="1.9" ry="1.4" fill="#3f60c8" opacity="0.7"/>
<ellipse cx="424.1" cy="752.5" rx="2.6" ry="2.3" fill="#3f60c8" opacity="0.9"/>
<ellipse cx="356.6" cy="730.8" rx="2.6" ry="1.7" fill="#4a6bd0" opacity="0.9"/>
<ellipse cx="363.2" cy="724.7" rx="2" ry="1.5" fill="#6f8ad8" opacity="0.9"/>
<ellipse cx="404.5" cy="770.4" rx="2.1" ry="2" fill="#6f8ad8" opacity="0.9"/>
<ellipse cx="399.5" cy="730.6" rx="2.6" ry="2.6" fill="#4a6bd0" opacity="0.9"/>
<ellipse cx="335.3" cy="777.5" rx="1.9" ry="1.2" fill="#3f60c8" opacity="0.8"/>
<ellipse cx="326.9" cy="782.7" rx="1.7" ry="1" fill="#5b7bd4" opacity="0.9"/>
<ellipse cx="335.2" cy="732.5" rx="1.8" ry="1.4" fill="#5b7bd4" opacity="0.9"/>
<ellipse cx="430.7" cy="808" rx="3.6" ry="3.2" fill="#4a6bd0" opacity="0.8"/>
<ellipse cx="371.1" cy="770.6" rx="1.6" ry="1.3" fill="#3f60c8" opacity="0.7"/>
<ellipse cx="381.3" cy="718" rx="3.9" ry="3.3" fill="#6f8ad8" opacity="0.7"/>
<ellipse cx="401" cy="754.6" rx="2.2" ry="2.1" fill="#3f60c8" opacity="0.9"/>
<ellipse cx="312.1" cy="748" rx="2.1" ry="1.6" fill="#4a6bd0" opacity="0.9"/>
<ellipse cx="312.9" cy="757.6" rx="2" ry="1.3" fill="#5b7bd4" opacity="0.9"/>
<ellipse cx="317.8" cy="746.7" rx="2.6" ry="1.8" fill="#5572cc" opacity="0.9"/>
<ellipse cx="429.8" cy="716.1" rx="1.6" ry="1.5" fill="#5b7bd4" opacity="0.9"/>
<ellipse cx="362.3" cy="754.1" rx="2" ry="1.9" fill="#6f8ad8" opacity="0.9"/>
<ellipse cx="343.3" cy="715.5" rx="1.7" ry="1.1" fill="#6f8ad8" opacity="0.8"/>
<ellipse cx="367.1" cy="748.8" rx="1.9" ry="1.1" fill="#6f8ad8" opacity="0.9"/>
<ellipse cx="338.4" cy="786" rx="3.3" ry="3.1" fill="#5b7bd4" opacity="0.8"/>
<ellipse cx="375.9" cy="782.4" rx="2.4" ry="1.8" fill="#5b7bd4" opacity="0.9"/>
<ellipse cx="383.9" cy="758.9" rx="3.1" ry="2.9" fill="#3f60c8" opacity="0.8"/>
<ellipse cx="338.4" cy="736.4" rx="2.1" ry="1.9" fill="#8497d4" opacity="0.8"/>
<ellipse cx="324.5" cy="790.5" rx="2.4" ry="1.8" fill="#3f60c8" opacity="0.9"/>
<ellipse cx="384" cy="768.8" rx="1.8" ry="1.5" fill="#5b7bd4" opacity="0.9"/>
<ellipse cx="360.1" cy="805.6" rx="2.6" ry="1.5" fill="#3f60c8" opacity="0.8"/>
<ellipse cx="383.9" cy="718" rx="2.5" ry="2.3" fill="#4a6bd0" opacity="0.8"/>
<ellipse cx="400.8" cy="768.5" rx="2.6" ry="2.2" fill="#3f60c8" opacity="0.8"/>
<ellipse cx="404" cy="812.8" rx="1.6" ry="1.4" fill="#6f8ad8" opacity="0.8"/>
<ellipse cx="314" cy="734.3" rx="2.2" ry="1.5" fill="#6f8ad8" opacity="0.7"/>
<ellipse cx="323.8" cy="740.2" rx="1.8" ry="1.1" fill="#4a6bd0" opacity="0.9"/>
<ellipse cx="325.1" cy="775.1" rx="2.8" ry="1.9" fill="#4a6bd0" opacity="0.9"/>
<ellipse cx="418.9" cy="800.2" rx="2" ry="1.3" fill="#5b7bd4" opacity="0.8"/>
<ellipse cx="326.4" cy="769.4" rx="1.8" ry="1" fill="#6f8ad8" opacity="0.7"/>
<ellipse cx="402.7" cy="753.1" rx="1.6" ry="1.3" fill="#8497d4" opacity="0.9"/>
<ellipse cx="324" cy="759.9" rx="2.7" ry="2" fill="#6f8ad8" opacity="0.9"/>
<ellipse cx="311.5" cy="733.9" rx="2" ry="2" fill="#4a6bd0" opacity="0.8"/>
<ellipse cx="318.4" cy="751.2" rx="2" ry="1.9" fill="#8497d4" opacity="0.7"/>
<ellipse cx="409.8" cy="717.5" rx="1.9" ry="1.4" fill="#8497d4" opacity="0.8"/>
<ellipse cx="374.4" cy="756" rx="2.3" ry="2.1" fill="#6f8ad8" opacity="0.9"/>
<ellipse cx="426.9" cy="785.5" rx="1.9" ry="1.5" fill="#5572cc" opacity="0.9"/>
<ellipse cx="322.3" cy="749.5" rx="1.6" ry="1" fill="#4a6bd0" opacity="0.9"/>
<rect x="274.75" y="670.25" width="187.5" height="187.5" fill="#000" filter="url(#vf5)" transform="rotate(-60 368.5 764)"/>
<rect x="403" y="806.5" width="23" height="4" fill="#ffffff" stroke="#000" stroke-width="1"/>
<text x="414.5" y="809.6" font-size="2.6" text-anchor="middle" fill="#000">100 μm</text>
</g>
<line x1="482.3" y1="601.8" x2="482.3" y2="696.8" stroke="#1a1a1a" stroke-width="1.3"/>
<line x1="479.3" y1="602.3" x2="482.3" y2="602.3" stroke="#1a1a1a" stroke-width="1.3"/>
<text transform="translate(479.1 604.74) scale(0.84 1)" font-size="7.63" font-weight="bold" text-anchor="end" fill="#111">1.5</text>
<line x1="479.3" y1="633.63" x2="482.3" y2="633.63" stroke="#1a1a1a" stroke-width="1.3"/>
<text transform="translate(479.1 636.07) scale(0.84 1)" font-size="7.63" font-weight="bold" text-anchor="end" fill="#111">1.0</text>
<line x1="479.3" y1="664.97" x2="482.3" y2="664.97" stroke="#1a1a1a" stroke-width="1.3"/>
<text transform="translate(479.1 667.41) scale(0.84 1)" font-size="7.63" font-weight="bold" text-anchor="end" fill="#111">0.5</text>
<line x1="479.3" y1="696.3" x2="482.3" y2="696.3" stroke="#1a1a1a" stroke-width="1.3"/>
<text transform="translate(479.1 698.74) scale(0.84 1)" font-size="7.63" font-weight="bold" text-anchor="end" fill="#111">0.0</text>
<line x1="508.15" y1="633.63" x2="508.15" y2="630.81" stroke="#000" stroke-width="1"/>
<line x1="501.03" y1="630.81" x2="515.27" y2="630.81" stroke="#000" stroke-width="1.1"/>
<rect x="495.8" y="634.23" width="24.7" height="62.07" fill="#ffffff" stroke="#000" stroke-width="1.2"/>
<line x1="553.45" y1="659.95" x2="553.45" y2="658.7" stroke="#000" stroke-width="1"/>
<line x1="546.38" y1="658.7" x2="560.52" y2="658.7" stroke="#000" stroke-width="1.1"/>
<rect x="541.2" y="660.55" width="24.5" height="35.75" fill="#a3a3a7" stroke="#000" stroke-width="1.2"/>
<line x1="599.35" y1="657.45" x2="599.35" y2="655.88" stroke="#000" stroke-width="1"/>
<line x1="592.06" y1="655.88" x2="606.64" y2="655.88" stroke="#000" stroke-width="1.1"/>
<rect x="586.7" y="658.05" width="25.3" height="38.25" fill="#0c0808" stroke="#000" stroke-width="1.2"/>
<line x1="481.8" y1="696.3" x2="625.1" y2="696.3" stroke="#1a1a1a" stroke-width="1.3"/>
<text x="456.06" y="648.8" font-size="8" font-weight="bold" text-anchor="middle" textLength="86" lengthAdjust="spacingAndGlyphs" transform="rotate(-90 456.06 648.8)">Relative integral optical</text>
<text x="465.66" y="648.8" font-size="8" font-weight="bold" text-anchor="middle" textLength="45" lengthAdjust="spacingAndGlyphs" transform="rotate(-90 465.66 648.8)">density (IOD)</text>
<polygon points="551.6,646.35 552.17,647.42 553.36,647.63 552.51,648.5 552.69,649.7 551.6,649.16 550.51,649.7 550.69,648.5 549.84,647.63 551.03,647.42" fill="#111"/>
<polygon points="556,646.35 556.57,647.42 557.76,647.63 556.91,648.5 557.09,649.7 556,649.16 554.91,649.7 555.09,648.5 554.24,647.63 555.43,647.42" fill="#111"/>
<polygon points="596.6,644.25 597.17,645.32 598.36,645.53 597.51,646.4 597.69,647.6 596.6,647.06 595.51,647.6 595.69,646.4 594.84,645.53 596.03,645.32" fill="#111"/>
<polygon points="601,644.25 601.57,645.32 602.76,645.53 601.91,646.4 602.09,647.6 601,647.06 599.91,647.6 600.09,646.4 599.24,645.53 600.43,645.32" fill="#111"/>
<line x1="482.3" y1="716.9" x2="482.3" y2="811.9" stroke="#1a1a1a" stroke-width="1.3"/>
<line x1="479.3" y1="717.4" x2="482.3" y2="717.4" stroke="#1a1a1a" stroke-width="1.3"/>
<text transform="translate(479.1 719.84) scale(0.84 1)" font-size="7.63" font-weight="bold" text-anchor="end" fill="#111">1.5</text>
<line x1="479.3" y1="748.73" x2="482.3" y2="748.73" stroke="#1a1a1a" stroke-width="1.3"/>
<text transform="translate(479.1 751.17) scale(0.84 1)" font-size="7.63" font-weight="bold" text-anchor="end" fill="#111">1.0</text>
<line x1="479.3" y1="780.07" x2="482.3" y2="780.07" stroke="#1a1a1a" stroke-width="1.3"/>
<text transform="translate(479.1 782.51) scale(0.84 1)" font-size="7.63" font-weight="bold" text-anchor="end" fill="#111">0.5</text>
<line x1="479.3" y1="811.4" x2="482.3" y2="811.4" stroke="#1a1a1a" stroke-width="1.3"/>
<text transform="translate(479.1 813.84) scale(0.84 1)" font-size="7.63" font-weight="bold" text-anchor="end" fill="#111">0.0</text>
<line x1="508.15" y1="748.73" x2="508.15" y2="740.59" stroke="#000" stroke-width="1"/>
<line x1="501.03" y1="740.59" x2="515.27" y2="740.59" stroke="#000" stroke-width="1.1"/>
<rect x="495.8" y="749.33" width="24.7" height="62.07" fill="#ffffff" stroke="#000" stroke-width="1.2"/>
<line x1="553.45" y1="793.85" x2="553.45" y2="793.23" stroke="#000" stroke-width="1"/>
<line x1="546.38" y1="793.23" x2="560.52" y2="793.23" stroke="#000" stroke-width="1.1"/>
<rect x="541.2" y="794.45" width="24.5" height="16.95" fill="#a3a3a7" stroke="#000" stroke-width="1.2"/>
<line x1="599.35" y1="784.27" x2="599.35" y2="783.83" stroke="#000" stroke-width="1"/>
<line x1="592.06" y1="783.83" x2="606.64" y2="783.83" stroke="#000" stroke-width="1.1"/>
<rect x="586.7" y="784.87" width="25.3" height="26.53" fill="#0c0808" stroke="#000" stroke-width="1.2"/>
<line x1="481.8" y1="811.4" x2="625.1" y2="811.4" stroke="#1a1a1a" stroke-width="1.3"/>
<text x="456.06" y="763.9" font-size="8" font-weight="bold" text-anchor="middle" textLength="86" lengthAdjust="spacingAndGlyphs" transform="rotate(-90 456.06 763.9)">Relative integral optical</text>
<text x="465.66" y="763.9" font-size="8" font-weight="bold" text-anchor="middle" textLength="45" lengthAdjust="spacingAndGlyphs" transform="rotate(-90 465.66 763.9)">density (IOD)</text>
<polygon points="551.6,781.55 552.17,782.62 553.36,782.83 552.51,783.7 552.69,784.9 551.6,784.36 550.51,784.9 550.69,783.7 549.84,782.83 551.03,782.62" fill="#111"/>
<polygon points="556,781.55 556.57,782.62 557.76,782.83 556.91,783.7 557.09,784.9 556,784.36 554.91,784.9 555.09,783.7 554.24,782.83 555.43,782.62" fill="#111"/>
<polygon points="598.3,770.75 598.87,771.82 600.06,772.03 599.21,772.9 599.39,774.1 598.3,773.56 597.21,774.1 597.39,772.9 596.54,772.03 597.73,771.82" fill="#111"/>
<rect x="628.3" y="721.8" width="10.3" height="5.4" fill="#ffffff" stroke="#000" stroke-width="0.9"/>
<rect x="628.3" y="734.5" width="10.3" height="5.4" fill="#a3a3a7" stroke="#000" stroke-width="0.9"/>
<rect x="628.3" y="746.9" width="10.3" height="5.4" fill="#0c0808" stroke="#000" stroke-width="0.9"/>
<text x="644.3" y="726.94" font-size="7.6" textLength="24.3" lengthAdjust="spacingAndGlyphs">Control</text>
<text x="644.3" y="739.74" font-size="7.6" textLength="25.2" lengthAdjust="spacingAndGlyphs">PCE(L)</text>
<text x="644.3" y="752.24" font-size="7.6" textLength="26.7" lengthAdjust="spacingAndGlyphs">PCE(H)</text>
<text x="3.2" y="841" font-size="12.6" font-weight="bold" fill="#000">L</text>
<text x="115.3" y="849.34" font-size="9" text-anchor="middle" textLength="43.6" lengthAdjust="spacingAndGlyphs">Correlation</text>
<text x="49" y="859.64" font-size="9" textLength="132.6" lengthAdjust="spacingAndGlyphs">abcb1a mRNA-Fetal body weight</text>
<line x1="43.4" y1="875.9" x2="43.4" y2="972.3" stroke="#1a1a1a" stroke-width="1.3"/>
<line x1="40.4" y1="971.8" x2="43.4" y2="971.8" stroke="#1a1a1a" stroke-width="1.3"/>
<text transform="translate(40.3 974.45) scale(0.84 1)" font-size="8.28" font-weight="bold" text-anchor="end" fill="#111">2.0</text>
<line x1="40.4" y1="955.9" x2="43.4" y2="955.9" stroke="#1a1a1a" stroke-width="1.3"/>
<text transform="translate(40.3 958.55) scale(0.84 1)" font-size="8.28" font-weight="bold" text-anchor="end" fill="#111">2.5</text>
<line x1="40.4" y1="940" x2="43.4" y2="940" stroke="#1a1a1a" stroke-width="1.3"/>
<text transform="translate(40.3 942.65) scale(0.84 1)" font-size="8.28" font-weight="bold" text-anchor="end" fill="#111">3.0</text>
<line x1="40.4" y1="924.1" x2="43.4" y2="924.1" stroke="#1a1a1a" stroke-width="1.3"/>
<text transform="translate(40.3 926.75) scale(0.84 1)" font-size="8.28" font-weight="bold" text-anchor="end" fill="#111">3.5</text>
<line x1="40.4" y1="908.2" x2="43.4" y2="908.2" stroke="#1a1a1a" stroke-width="1.3"/>
<text transform="translate(40.3 910.85) scale(0.84 1)" font-size="8.28" font-weight="bold" text-anchor="end" fill="#111">4.0</text>
<line x1="40.4" y1="892.3" x2="43.4" y2="892.3" stroke="#1a1a1a" stroke-width="1.3"/>
<text transform="translate(40.3 894.95) scale(0.84 1)" font-size="8.28" font-weight="bold" text-anchor="end" fill="#111">4.5</text>
<line x1="40.4" y1="876.4" x2="43.4" y2="876.4" stroke="#1a1a1a" stroke-width="1.3"/>
<text transform="translate(40.3 879.05) scale(0.84 1)" font-size="8.28" font-weight="bold" text-anchor="end" fill="#111">5.0</text>
<line x1="42.9" y1="971.8" x2="187.1" y2="971.8" stroke="#1a1a1a" stroke-width="1.3"/>
<line x1="44.1" y1="971.8" x2="44.1" y2="974.4" stroke="#1a1a1a" stroke-width="1"/>
<text transform="translate(44.1 982.66) scale(0.84 1)" font-size="8.61" font-weight="bold" text-anchor="middle" fill="#111">0.0</text>
<line x1="72.7" y1="971.8" x2="72.7" y2="974.4" stroke="#1a1a1a" stroke-width="1"/>
<text transform="translate(72.7 982.66) scale(0.84 1)" font-size="8.61" font-weight="bold" text-anchor="middle" fill="#111">0.5</text>
<line x1="101.3" y1="971.8" x2="101.3" y2="974.4" stroke="#1a1a1a" stroke-width="1"/>
<text transform="translate(101.3 982.66) scale(0.84 1)" font-size="8.61" font-weight="bold" text-anchor="middle" fill="#111">1.0</text>
<line x1="129.9" y1="971.8" x2="129.9" y2="974.4" stroke="#1a1a1a" stroke-width="1"/>
<text transform="translate(129.9 982.66) scale(0.84 1)" font-size="8.61" font-weight="bold" text-anchor="middle" fill="#111">1.5</text>
<line x1="158.5" y1="971.8" x2="158.5" y2="974.4" stroke="#1a1a1a" stroke-width="1"/>
<text transform="translate(158.5 982.66) scale(0.84 1)" font-size="8.61" font-weight="bold" text-anchor="middle" fill="#111">2.0</text>
<line x1="187.1" y1="971.8" x2="187.1" y2="974.4" stroke="#1a1a1a" stroke-width="1"/>
<text transform="translate(187.1 982.66) scale(0.84 1)" font-size="8.61" font-weight="bold" text-anchor="middle" fill="#111">2.5</text>
<text x="28.9" y="993.54" font-size="7.9" font-weight="bold" textLength="174.3" lengthAdjust="spacingAndGlyphs">Relative abcb1a mRNA expression (of GAPDH)</text>
<text x="25.83" y="925.6" font-size="7.9" font-weight="bold" text-anchor="middle" textLength="77" lengthAdjust="spacingAndGlyphs" transform="rotate(-90 25.83 925.6)">Fetal body weight (g)</text>
<circle cx="45.82" cy="920.92" r="1.85" fill="#aa2329"/>
<circle cx="56.68" cy="937.46" r="1.85" fill="#aa2329"/>
<circle cx="59.54" cy="936.82" r="1.85" fill="#aa2329"/>
<circle cx="61.83" cy="936.82" r="1.85" fill="#aa2329"/>
<circle cx="61.26" cy="931.1" r="1.85" fill="#aa2329"/>
<circle cx="63.55" cy="932.05" r="1.85" fill="#aa2329"/>
<circle cx="66.98" cy="924.1" r="1.85" fill="#aa2329"/>
<circle cx="66.98" cy="949.54" r="1.85" fill="#aa2329"/>
<circle cx="72.7" cy="931.1" r="1.85" fill="#aa2329"/>
<circle cx="73.84" cy="940.95" r="1.85" fill="#aa2329"/>
<circle cx="73.84" cy="890.71" r="1.85" fill="#aa2329"/>
<circle cx="87" cy="933.64" r="1.85" fill="#aa2329"/>
<circle cx="86.43" cy="935.23" r="1.85" fill="#aa2329"/>
<circle cx="88.14" cy="936.82" r="1.85" fill="#aa2329"/>
<circle cx="89.86" cy="928.87" r="1.85" fill="#aa2329"/>
<circle cx="99.58" cy="938.41" r="1.85" fill="#aa2329"/>
<circle cx="99.58" cy="942.54" r="1.85" fill="#aa2329"/>
<circle cx="102.44" cy="933.64" r="1.85" fill="#aa2329"/>
<circle cx="104.16" cy="934.59" r="1.85" fill="#aa2329"/>
<circle cx="105.88" cy="931.41" r="1.85" fill="#aa2329"/>
<circle cx="115.6" cy="936.82" r="1.85" fill="#aa2329"/>
<circle cx="155.64" cy="908.2" r="1.85" fill="#aa2329"/>
<circle cx="159.64" cy="909.79" r="1.85" fill="#aa2329"/>
<circle cx="118.46" cy="927.92" r="1.85" fill="#aa2329"/>
<rect x="53.79" y="927.76" width="3.5" height="3.5" fill="#1d2d6b"/>
<rect x="66.37" y="929.35" width="3.5" height="3.5" fill="#1d2d6b"/>
<rect x="68.09" y="927.12" width="3.5" height="3.5" fill="#1d2d6b"/>
<rect x="69.23" y="928.71" width="3.5" height="3.5" fill="#1d2d6b"/>
<rect x="69.81" y="930.94" width="3.5" height="3.5" fill="#1d2d6b"/>
<rect x="70.95" y="934.12" width="3.5" height="3.5" fill="#1d2d6b"/>
<rect x="74.95" y="939.84" width="3.5" height="3.5" fill="#1d2d6b"/>
<rect x="77.81" y="939.84" width="3.5" height="3.5" fill="#1d2d6b"/>
<rect x="74.95" y="947.79" width="3.5" height="3.5" fill="#1d2d6b"/>
<rect x="79.53" y="928.07" width="3.5" height="3.5" fill="#1d2d6b"/>
<rect x="82.39" y="924.89" width="3.5" height="3.5" fill="#1d2d6b"/>
<rect x="83.53" y="923.94" width="3.5" height="3.5" fill="#1d2d6b"/>
<rect x="85.25" y="923.3" width="3.5" height="3.5" fill="#1d2d6b"/>
<rect x="88.11" y="946.84" width="3.5" height="3.5" fill="#1d2d6b"/>
<rect x="89.25" y="950.02" width="3.5" height="3.5" fill="#1d2d6b"/>
<rect x="92.69" y="923.94" width="3.5" height="3.5" fill="#1d2d6b"/>
<rect x="101.84" y="920.76" width="3.5" height="3.5" fill="#1d2d6b"/>
<rect x="102.41" y="919.17" width="3.5" height="3.5" fill="#1d2d6b"/>
<rect x="104.13" y="923.94" width="3.5" height="3.5" fill="#1d2d6b"/>
<rect x="106.41" y="943.97" width="3.5" height="3.5" fill="#1d2d6b"/>
<rect x="108.13" y="943.97" width="3.5" height="3.5" fill="#1d2d6b"/>
<rect x="123.57" y="924.89" width="3.5" height="3.5" fill="#1d2d6b"/>
<rect x="123.57" y="944.61" width="3.5" height="3.5" fill="#1d2d6b"/>
<rect x="127.01" y="921.71" width="3.5" height="3.5" fill="#1d2d6b"/>
<rect x="131.01" y="897.86" width="3.5" height="3.5" fill="#1d2d6b"/>
<rect x="135.59" y="904.86" width="3.5" height="3.5" fill="#1d2d6b"/>
<rect x="135.01" y="939.84" width="3.5" height="3.5" fill="#1d2d6b"/>
<rect x="139.59" y="920.76" width="3.5" height="3.5" fill="#1d2d6b"/>
<rect x="152.17" y="931.25" width="3.5" height="3.5" fill="#1d2d6b"/>
<rect x="83.53" y="932.53" width="3.5" height="3.5" fill="#1d2d6b"/>
<line x1="44.1" y1="940.95" x2="160.22" y2="918.69" stroke="#aa2329" stroke-width="0.9"/>
<line x1="54.4" y1="937.46" x2="152.78" y2="925.05" stroke="#1d2d6b" stroke-width="0.9"/>
<text x="81.5" y="893.21" font-size="7.8" fill="#aa2329" textLength="68.5" lengthAdjust="spacingAndGlyphs">r=0.4545, P=0.0061</text>
<text x="114.8" y="960.31" font-size="7.8" fill="#1d2d6b" textLength="69.2" lengthAdjust="spacingAndGlyphs">r=0.2767, P=0.1253</text>
<text x="221.8" y="840.7" font-size="12.6" font-weight="bold" fill="#000">M</text>
<text x="340.9" y="849.14" font-size="9" text-anchor="middle" textLength="43.6" lengthAdjust="spacingAndGlyphs">Correlation</text>
<text x="272.6" y="860.04" font-size="9" textLength="136.6" lengthAdjust="spacingAndGlyphs">abcb1b mRNA-Fetal body weight</text>
<line x1="266.4" y1="871.8" x2="266.4" y2="971.2" stroke="#1a1a1a" stroke-width="1.3"/>
<line x1="263.4" y1="970.7" x2="266.4" y2="970.7" stroke="#1a1a1a" stroke-width="1.3"/>
<text transform="translate(263.3 973.35) scale(0.84 1)" font-size="8.28" font-weight="bold" text-anchor="end" fill="#111">2.0</text>
<line x1="263.4" y1="954.3" x2="266.4" y2="954.3" stroke="#1a1a1a" stroke-width="1.3"/>
<text transform="translate(263.3 956.95) scale(0.84 1)" font-size="8.28" font-weight="bold" text-anchor="end" fill="#111">2.5</text>
<line x1="263.4" y1="937.9" x2="266.4" y2="937.9" stroke="#1a1a1a" stroke-width="1.3"/>
<text transform="translate(263.3 940.55) scale(0.84 1)" font-size="8.28" font-weight="bold" text-anchor="end" fill="#111">3.0</text>
<line x1="263.4" y1="921.5" x2="266.4" y2="921.5" stroke="#1a1a1a" stroke-width="1.3"/>
<text transform="translate(263.3 924.15) scale(0.84 1)" font-size="8.28" font-weight="bold" text-anchor="end" fill="#111">3.5</text>
<line x1="263.4" y1="905.1" x2="266.4" y2="905.1" stroke="#1a1a1a" stroke-width="1.3"/>
<text transform="translate(263.3 907.75) scale(0.84 1)" font-size="8.28" font-weight="bold" text-anchor="end" fill="#111">4.0</text>
<line x1="263.4" y1="888.7" x2="266.4" y2="888.7" stroke="#1a1a1a" stroke-width="1.3"/>
<text transform="translate(263.3 891.35) scale(0.84 1)" font-size="8.28" font-weight="bold" text-anchor="end" fill="#111">4.5</text>
<line x1="263.4" y1="872.3" x2="266.4" y2="872.3" stroke="#1a1a1a" stroke-width="1.3"/>
<text transform="translate(263.3 874.95) scale(0.84 1)" font-size="8.28" font-weight="bold" text-anchor="end" fill="#111">5.0</text>
<line x1="265.9" y1="970.7" x2="413.4" y2="970.7" stroke="#1a1a1a" stroke-width="1.3"/>
<line x1="267" y1="970.7" x2="267" y2="973.3" stroke="#1a1a1a" stroke-width="1"/>
<text transform="translate(267 981.86) scale(0.84 1)" font-size="8.61" font-weight="bold" text-anchor="middle" fill="#111">0</text>
<line x1="303.6" y1="970.7" x2="303.6" y2="973.3" stroke="#1a1a1a" stroke-width="1"/>
<text transform="translate(303.6 981.86) scale(0.84 1)" font-size="8.61" font-weight="bold" text-anchor="middle" fill="#111">1</text>
<line x1="340.2" y1="970.7" x2="340.2" y2="973.3" stroke="#1a1a1a" stroke-width="1"/>
<text transform="translate(340.2 981.86) scale(0.84 1)" font-size="8.61" font-weight="bold" text-anchor="middle" fill="#111">2</text>
<line x1="376.8" y1="970.7" x2="376.8" y2="973.3" stroke="#1a1a1a" stroke-width="1"/>
<text transform="translate(376.8 981.86) scale(0.84 1)" font-size="8.61" font-weight="bold" text-anchor="middle" fill="#111">3</text>
<line x1="413.4" y1="970.7" x2="413.4" y2="973.3" stroke="#1a1a1a" stroke-width="1"/>
<text transform="translate(413.4 981.86) scale(0.84 1)" font-size="8.61" font-weight="bold" text-anchor="middle" fill="#111">4</text>
<text x="252.2" y="992.64" font-size="7.9" font-weight="bold" textLength="177" lengthAdjust="spacingAndGlyphs">Relative abcb1b mRNA expression (of GAPDH)</text>
<text x="248.43" y="921" font-size="7.9" font-weight="bold" text-anchor="middle" textLength="81.5" lengthAdjust="spacingAndGlyphs" transform="rotate(-90 248.43 921)">Fetal body weight (g)</text>
<circle cx="267.73" cy="918.22" r="1.85" fill="#aa2329"/>
<circle cx="268.1" cy="946.76" r="1.85" fill="#aa2329"/>
<circle cx="276.15" cy="934.62" r="1.85" fill="#aa2329"/>
<circle cx="277.98" cy="934.62" r="1.85" fill="#aa2329"/>
<circle cx="277.98" cy="928.06" r="1.85" fill="#aa2329"/>
<circle cx="279.81" cy="928.72" r="1.85" fill="#aa2329"/>
<circle cx="280.91" cy="921.5" r="1.85" fill="#aa2329"/>
<circle cx="280.91" cy="947.74" r="1.85" fill="#aa2329"/>
<circle cx="284.2" cy="928.72" r="1.85" fill="#aa2329"/>
<circle cx="285.3" cy="938.88" r="1.85" fill="#aa2329"/>
<circle cx="286.03" cy="887.06" r="1.85" fill="#aa2329"/>
<circle cx="289.69" cy="931.34" r="1.85" fill="#aa2329"/>
<circle cx="294.45" cy="932.98" r="1.85" fill="#aa2329"/>
<circle cx="295.55" cy="933.96" r="1.85" fill="#aa2329"/>
<circle cx="296.28" cy="926.09" r="1.85" fill="#aa2329"/>
<circle cx="301.77" cy="935.6" r="1.85" fill="#aa2329"/>
<circle cx="302.14" cy="940.52" r="1.85" fill="#aa2329"/>
<circle cx="304.33" cy="931.34" r="1.85" fill="#aa2329"/>
<circle cx="305.43" cy="933.64" r="1.85" fill="#aa2329"/>
<circle cx="306.53" cy="929.04" r="1.85" fill="#aa2329"/>
<circle cx="312.75" cy="934.62" r="1.85" fill="#aa2329"/>
<circle cx="338.37" cy="905.1" r="1.85" fill="#aa2329"/>
<circle cx="340.93" cy="906.74" r="1.85" fill="#aa2329"/>
<circle cx="314.58" cy="925.44" r="1.85" fill="#aa2329"/>
<rect x="279.89" y="924.67" width="3.5" height="3.5" fill="#1d2d6b"/>
<rect x="280.62" y="926.31" width="3.5" height="3.5" fill="#1d2d6b"/>
<rect x="281.72" y="923.69" width="3.5" height="3.5" fill="#1d2d6b"/>
<rect x="283.55" y="931.23" width="3.5" height="3.5" fill="#1d2d6b"/>
<rect x="285.38" y="937.13" width="3.5" height="3.5" fill="#1d2d6b"/>
<rect x="287.21" y="937.79" width="3.5" height="3.5" fill="#1d2d6b"/>
<rect x="286.11" y="945.99" width="3.5" height="3.5" fill="#1d2d6b"/>
<rect x="289.04" y="925.65" width="3.5" height="3.5" fill="#1d2d6b"/>
<rect x="290.87" y="922.37" width="3.5" height="3.5" fill="#1d2d6b"/>
<rect x="291.97" y="921.39" width="3.5" height="3.5" fill="#1d2d6b"/>
<rect x="293.07" y="920.73" width="3.5" height="3.5" fill="#1d2d6b"/>
<rect x="294.53" y="945.01" width="3.5" height="3.5" fill="#1d2d6b"/>
<rect x="295.26" y="948.29" width="3.5" height="3.5" fill="#1d2d6b"/>
<rect x="297.46" y="921.39" width="3.5" height="3.5" fill="#1d2d6b"/>
<rect x="302.95" y="918.11" width="3.5" height="3.5" fill="#1d2d6b"/>
<rect x="303.68" y="916.47" width="3.5" height="3.5" fill="#1d2d6b"/>
<rect x="304.78" y="921.39" width="3.5" height="3.5" fill="#1d2d6b"/>
<rect x="306.24" y="942.05" width="3.5" height="3.5" fill="#1d2d6b"/>
<rect x="307.34" y="942.05" width="3.5" height="3.5" fill="#1d2d6b"/>
<rect x="317.59" y="922.37" width="3.5" height="3.5" fill="#1d2d6b"/>
<rect x="317.59" y="942.71" width="3.5" height="3.5" fill="#1d2d6b"/>
<rect x="320.15" y="919.09" width="3.5" height="3.5" fill="#1d2d6b"/>
<rect x="321.98" y="894.49" width="3.5" height="3.5" fill="#1d2d6b"/>
<rect x="325.64" y="901.71" width="3.5" height="3.5" fill="#1d2d6b"/>
<rect x="323.81" y="937.79" width="3.5" height="3.5" fill="#1d2d6b"/>
<rect x="327.47" y="918.11" width="3.5" height="3.5" fill="#1d2d6b"/>
<rect x="335.52" y="929.59" width="3.5" height="3.5" fill="#1d2d6b"/>
<rect x="364.8" y="924.67" width="3.5" height="3.5" fill="#1d2d6b"/>
<rect x="372.49" y="919.09" width="3.5" height="3.5" fill="#1d2d6b"/>
<line x1="267" y1="938.88" x2="340.93" y2="914.94" stroke="#aa2329" stroke-width="0.9"/>
<line x1="276.15" y1="933.96" x2="374.24" y2="918.88" stroke="#1d2d6b" stroke-width="0.9"/>
<text x="298.5" y="890.21" font-size="7.8" fill="#aa2329" textLength="72.2" lengthAdjust="spacingAndGlyphs">r=0.4859, P=0.0027</text>
<text x="326.9" y="952.71" font-size="7.8" fill="#1d2d6b" textLength="71.8" lengthAdjust="spacingAndGlyphs">r=0.2952, P=0.0954</text>
<text x="442.6" y="840.7" font-size="12.6" font-weight="bold" fill="#000">N</text>
<text x="561.25" y="849.14" font-size="9" text-anchor="middle" textLength="43.6" lengthAdjust="spacingAndGlyphs">Correlation</text>
<text x="497.2" y="859.64" font-size="9" textLength="128.1" lengthAdjust="spacingAndGlyphs">abcb1a mRNA-Placental weight</text>
<line x1="487.8" y1="875.2" x2="487.8" y2="971.5" stroke="#1a1a1a" stroke-width="1.3"/>
<line x1="484.8" y1="971" x2="487.8" y2="971" stroke="#1a1a1a" stroke-width="1.3"/>
<text transform="translate(484.7 973.65) scale(0.84 1)" font-size="8.28" font-weight="bold" text-anchor="end" fill="#111">0.0</text>
<line x1="484.8" y1="951.94" x2="487.8" y2="951.94" stroke="#1a1a1a" stroke-width="1.3"/>
<text transform="translate(484.7 954.59) scale(0.84 1)" font-size="8.28" font-weight="bold" text-anchor="end" fill="#111">0.2</text>
<line x1="484.8" y1="932.88" x2="487.8" y2="932.88" stroke="#1a1a1a" stroke-width="1.3"/>
<text transform="translate(484.7 935.53) scale(0.84 1)" font-size="8.28" font-weight="bold" text-anchor="end" fill="#111">0.4</text>
<line x1="484.8" y1="913.82" x2="487.8" y2="913.82" stroke="#1a1a1a" stroke-width="1.3"/>
<text transform="translate(484.7 916.47) scale(0.84 1)" font-size="8.28" font-weight="bold" text-anchor="end" fill="#111">0.6</text>
<line x1="484.8" y1="894.76" x2="487.8" y2="894.76" stroke="#1a1a1a" stroke-width="1.3"/>
<text transform="translate(484.7 897.41) scale(0.84 1)" font-size="8.28" font-weight="bold" text-anchor="end" fill="#111">0.8</text>
<line x1="484.8" y1="875.7" x2="487.8" y2="875.7" stroke="#1a1a1a" stroke-width="1.3"/>
<text transform="translate(484.7 878.35) scale(0.84 1)" font-size="8.28" font-weight="bold" text-anchor="end" fill="#111">1.0</text>
<line x1="487.3" y1="971" x2="631.7" y2="971" stroke="#1a1a1a" stroke-width="1.3"/>
<line x1="488.2" y1="971" x2="488.2" y2="973.6" stroke="#1a1a1a" stroke-width="1"/>
<text transform="translate(488.2 981.86) scale(0.84 1)" font-size="8.61" font-weight="bold" text-anchor="middle" fill="#111">0.0</text>
<line x1="516.9" y1="971" x2="516.9" y2="973.6" stroke="#1a1a1a" stroke-width="1"/>
<text transform="translate(516.9 981.86) scale(0.84 1)" font-size="8.61" font-weight="bold" text-anchor="middle" fill="#111">0.5</text>
<line x1="545.6" y1="971" x2="545.6" y2="973.6" stroke="#1a1a1a" stroke-width="1"/>
<text transform="translate(545.6 981.86) scale(0.84 1)" font-size="8.61" font-weight="bold" text-anchor="middle" fill="#111">1.0</text>
<line x1="574.3" y1="971" x2="574.3" y2="973.6" stroke="#1a1a1a" stroke-width="1"/>
<text transform="translate(574.3 981.86) scale(0.84 1)" font-size="8.61" font-weight="bold" text-anchor="middle" fill="#111">1.5</text>
<line x1="603" y1="971" x2="603" y2="973.6" stroke="#1a1a1a" stroke-width="1"/>
<text transform="translate(603 981.86) scale(0.84 1)" font-size="8.61" font-weight="bold" text-anchor="middle" fill="#111">2.0</text>
<line x1="631.7" y1="971" x2="631.7" y2="973.6" stroke="#1a1a1a" stroke-width="1"/>
<text transform="translate(631.7 981.86) scale(0.84 1)" font-size="8.61" font-weight="bold" text-anchor="middle" fill="#111">2.5</text>
<text x="472.9" y="992.64" font-size="7.9" font-weight="bold" textLength="173.5" lengthAdjust="spacingAndGlyphs">Relative abcb1a mRNA expression (of GAPDH)</text>
<text x="470.13" y="923.2" font-size="7.9" font-weight="bold" text-anchor="middle" textLength="74" lengthAdjust="spacingAndGlyphs" transform="rotate(-90 470.13 923.2)">Placental weight (g)</text>
<circle cx="493.94" cy="924.3" r="1.85" fill="#aa2329"/>
<circle cx="495.09" cy="930.02" r="1.85" fill="#aa2329"/>
<circle cx="496.81" cy="929.07" r="1.85" fill="#aa2329"/>
<circle cx="499.68" cy="925.26" r="1.85" fill="#aa2329"/>
<circle cx="500.83" cy="916.68" r="1.85" fill="#aa2329"/>
<circle cx="506.57" cy="936.69" r="1.85" fill="#aa2329"/>
<circle cx="511.16" cy="942.41" r="1.85" fill="#aa2329"/>
<circle cx="514.03" cy="934.79" r="1.85" fill="#aa2329"/>
<circle cx="515.75" cy="936.69" r="1.85" fill="#aa2329"/>
<circle cx="516.9" cy="935.74" r="1.85" fill="#aa2329"/>
<circle cx="518.05" cy="922.4" r="1.85" fill="#aa2329"/>
<circle cx="519.77" cy="922.4" r="1.85" fill="#aa2329"/>
<circle cx="521.49" cy="914.77" r="1.85" fill="#aa2329"/>
<circle cx="522.64" cy="919.54" r="1.85" fill="#aa2329"/>
<circle cx="525.51" cy="905.24" r="1.85" fill="#aa2329"/>
<circle cx="531.25" cy="933.83" r="1.85" fill="#aa2329"/>
<circle cx="531.82" cy="906.2" r="1.85" fill="#aa2329"/>
<circle cx="532.97" cy="913.82" r="1.85" fill="#aa2329"/>
<circle cx="534.12" cy="911.91" r="1.85" fill="#aa2329"/>
<circle cx="535.27" cy="938.6" r="1.85" fill="#aa2329"/>
<circle cx="541.01" cy="911.91" r="1.85" fill="#aa2329"/>
<circle cx="541.58" cy="931.93" r="1.85" fill="#aa2329"/>
<circle cx="541.58" cy="941.46" r="1.85" fill="#aa2329"/>
<circle cx="545.6" cy="924.3" r="1.85" fill="#aa2329"/>
<circle cx="548.47" cy="919.54" r="1.85" fill="#aa2329"/>
<circle cx="550.19" cy="912.87" r="1.85" fill="#aa2329"/>
<circle cx="553.06" cy="913.82" r="1.85" fill="#aa2329"/>
<circle cx="554.21" cy="942.41" r="1.85" fill="#aa2329"/>
<circle cx="557.08" cy="908.1" r="1.85" fill="#aa2329"/>
<circle cx="562.82" cy="915.73" r="1.85" fill="#aa2329"/>
<circle cx="567.41" cy="906.2" r="1.85" fill="#aa2329"/>
<circle cx="571.43" cy="913.82" r="1.85" fill="#aa2329"/>
<circle cx="571.43" cy="931.93" r="1.85" fill="#aa2329"/>
<circle cx="574.3" cy="923.35" r="1.85" fill="#aa2329"/>
<circle cx="577.17" cy="931.93" r="1.85" fill="#aa2329"/>
<circle cx="611.61" cy="889.04" r="1.85" fill="#aa2329"/>
<circle cx="527.23" cy="920.49" r="1.85" fill="#aa2329"/>
<rect x="496.78" y="911.12" width="3.5" height="3.5" fill="#1d2d6b"/>
<rect x="497.93" y="936.85" width="3.5" height="3.5" fill="#1d2d6b"/>
<rect x="501.95" y="929.22" width="3.5" height="3.5" fill="#1d2d6b"/>
<rect x="503.67" y="937.8" width="3.5" height="3.5" fill="#1d2d6b"/>
<rect x="504.82" y="909.21" width="3.5" height="3.5" fill="#1d2d6b"/>
<rect x="514" y="932.08" width="3.5" height="3.5" fill="#1d2d6b"/>
<rect x="515.15" y="937.8" width="3.5" height="3.5" fill="#1d2d6b"/>
<rect x="516.3" y="909.21" width="3.5" height="3.5" fill="#1d2d6b"/>
<rect x="519.74" y="915.88" width="3.5" height="3.5" fill="#1d2d6b"/>
<rect x="520.89" y="923.51" width="3.5" height="3.5" fill="#1d2d6b"/>
<rect x="523.19" y="935.89" width="3.5" height="3.5" fill="#1d2d6b"/>
<rect x="523.76" y="926.37" width="3.5" height="3.5" fill="#1d2d6b"/>
<rect x="524.33" y="911.12" width="3.5" height="3.5" fill="#1d2d6b"/>
<rect x="525.48" y="932.08" width="3.5" height="3.5" fill="#1d2d6b"/>
<rect x="526.63" y="920.65" width="3.5" height="3.5" fill="#1d2d6b"/>
<rect x="528.35" y="919.69" width="3.5" height="3.5" fill="#1d2d6b"/>
<rect x="530.07" y="920.65" width="3.5" height="3.5" fill="#1d2d6b"/>
<rect x="533.52" y="915.88" width="3.5" height="3.5" fill="#1d2d6b"/>
<rect x="534.67" y="911.12" width="3.5" height="3.5" fill="#1d2d6b"/>
<rect x="539.26" y="926.37" width="3.5" height="3.5" fill="#1d2d6b"/>
<rect x="540.41" y="916.84" width="3.5" height="3.5" fill="#1d2d6b"/>
<rect x="541.55" y="932.08" width="3.5" height="3.5" fill="#1d2d6b"/>
<rect x="542.7" y="916.84" width="3.5" height="3.5" fill="#1d2d6b"/>
<rect x="543.85" y="932.08" width="3.5" height="3.5" fill="#1d2d6b"/>
<rect x="545" y="936.85" width="3.5" height="3.5" fill="#1d2d6b"/>
<rect x="550.74" y="900.63" width="3.5" height="3.5" fill="#1d2d6b"/>
<rect x="561.07" y="914.93" width="3.5" height="3.5" fill="#1d2d6b"/>
<rect x="565.66" y="902.54" width="3.5" height="3.5" fill="#1d2d6b"/>
<rect x="575.42" y="902.54" width="3.5" height="3.5" fill="#1d2d6b"/>
<rect x="575.42" y="913.98" width="3.5" height="3.5" fill="#1d2d6b"/>
<rect x="601.25" y="898.73" width="3.5" height="3.5" fill="#1d2d6b"/>
<rect x="555.33" y="912.07" width="3.5" height="3.5" fill="#1d2d6b"/>
<line x1="493.94" y1="930.02" x2="611.61" y2="908.58" stroke="#aa2329" stroke-width="0.9"/>
<line x1="499.68" y1="931.45" x2="603" y2="905.24" stroke="#1d2d6b" stroke-width="0.9"/>
<text x="564.1" y="948.71" font-size="7.8" fill="#aa2329" textLength="70.8" lengthAdjust="spacingAndGlyphs">r=0.4013, P=0.0153</text>
<text x="515.7" y="885.01" font-size="7.8" fill="#1d2d6b" textLength="70.2" lengthAdjust="spacingAndGlyphs">r=0.5071, P=0.0019</text>
<text x="3.2" y="1009.6" font-size="12.6" font-weight="bold" fill="#000">O</text>
<text x="118.15" y="1020.74" font-size="9" text-anchor="middle" textLength="43.6" lengthAdjust="spacingAndGlyphs">Correlation</text>
<text x="52.3" y="1031.24" font-size="9" textLength="131.7" lengthAdjust="spacingAndGlyphs">abcb1b mRNA-Placental weight</text>
<line x1="44.1" y1="1043.8" x2="44.1" y2="1142.8" stroke="#1a1a1a" stroke-width="1.3"/>
<line x1="41.1" y1="1142.3" x2="44.1" y2="1142.3" stroke="#1a1a1a" stroke-width="1.3"/>
<text transform="translate(40.3 1144.95) scale(0.84 1)" font-size="8.28" font-weight="bold" text-anchor="end" fill="#111">0.0</text>
<line x1="41.1" y1="1122.7" x2="44.1" y2="1122.7" stroke="#1a1a1a" stroke-width="1.3"/>
<text transform="translate(40.3 1125.35) scale(0.84 1)" font-size="8.28" font-weight="bold" text-anchor="end" fill="#111">0.2</text>
<line x1="41.1" y1="1103.1" x2="44.1" y2="1103.1" stroke="#1a1a1a" stroke-width="1.3"/>
<text transform="translate(40.3 1105.75) scale(0.84 1)" font-size="8.28" font-weight="bold" text-anchor="end" fill="#111">0.4</text>
<line x1="41.1" y1="1083.5" x2="44.1" y2="1083.5" stroke="#1a1a1a" stroke-width="1.3"/>
<text transform="translate(40.3 1086.15) scale(0.84 1)" font-size="8.28" font-weight="bold" text-anchor="end" fill="#111">0.6</text>
<line x1="41.1" y1="1063.9" x2="44.1" y2="1063.9" stroke="#1a1a1a" stroke-width="1.3"/>
<text transform="translate(40.3 1066.55) scale(0.84 1)" font-size="8.28" font-weight="bold" text-anchor="end" fill="#111">0.8</text>
<line x1="41.1" y1="1044.3" x2="44.1" y2="1044.3" stroke="#1a1a1a" stroke-width="1.3"/>
<text transform="translate(40.3 1046.95) scale(0.84 1)" font-size="8.28" font-weight="bold" text-anchor="end" fill="#111">1.0</text>
<line x1="43.6" y1="1142.3" x2="192.35" y2="1142.3" stroke="#1a1a1a" stroke-width="1.3"/>
<line x1="44.1" y1="1142.3" x2="44.1" y2="1144.9" stroke="#1a1a1a" stroke-width="1"/>
<text transform="translate(44.1 1153.06) scale(0.84 1)" font-size="8.61" font-weight="bold" text-anchor="middle" fill="#111">0.0</text>
<line x1="73.75" y1="1142.3" x2="73.75" y2="1144.9" stroke="#1a1a1a" stroke-width="1"/>
<text transform="translate(73.75 1153.06) scale(0.84 1)" font-size="8.61" font-weight="bold" text-anchor="middle" fill="#111">0.5</text>
<line x1="103.4" y1="1142.3" x2="103.4" y2="1144.9" stroke="#1a1a1a" stroke-width="1"/>
<text transform="translate(103.4 1153.06) scale(0.84 1)" font-size="8.61" font-weight="bold" text-anchor="middle" fill="#111">1.0</text>
<line x1="133.05" y1="1142.3" x2="133.05" y2="1144.9" stroke="#1a1a1a" stroke-width="1"/>
<text transform="translate(133.05 1153.06) scale(0.84 1)" font-size="8.61" font-weight="bold" text-anchor="middle" fill="#111">1.5</text>
<line x1="162.7" y1="1142.3" x2="162.7" y2="1144.9" stroke="#1a1a1a" stroke-width="1"/>
<text transform="translate(162.7 1153.06) scale(0.84 1)" font-size="8.61" font-weight="bold" text-anchor="middle" fill="#111">2.0</text>
<line x1="192.35" y1="1142.3" x2="192.35" y2="1144.9" stroke="#1a1a1a" stroke-width="1"/>
<text transform="translate(192.35 1153.06) scale(0.84 1)" font-size="8.61" font-weight="bold" text-anchor="middle" fill="#111">2.5</text>
<text x="28.9" y="1164.54" font-size="7.9" font-weight="bold" textLength="178.6" lengthAdjust="spacingAndGlyphs">Relative abcb1b mRNA expression (of GAPDH)</text>
<text x="25.83" y="1093.2" font-size="7.9" font-weight="bold" text-anchor="middle" textLength="74.5" lengthAdjust="spacingAndGlyphs" transform="rotate(-90 25.83 1093.2)">Placental weight (g)</text>
<circle cx="57.15" cy="1099.18" r="1.85" fill="#aa2329"/>
<circle cx="58.92" cy="1086.44" r="1.85" fill="#aa2329"/>
<circle cx="60.7" cy="1087.42" r="1.85" fill="#aa2329"/>
<circle cx="61.89" cy="1099.18" r="1.85" fill="#aa2329"/>
<circle cx="61.89" cy="1090.36" r="1.85" fill="#aa2329"/>
<circle cx="63.67" cy="1095.26" r="1.85" fill="#aa2329"/>
<circle cx="66.63" cy="1091.34" r="1.85" fill="#aa2329"/>
<circle cx="66.63" cy="1088.4" r="1.85" fill="#aa2329"/>
<circle cx="71.97" cy="1082.52" r="1.85" fill="#aa2329"/>
<circle cx="73.75" cy="1112.9" r="1.85" fill="#aa2329"/>
<circle cx="73.75" cy="1102.12" r="1.85" fill="#aa2329"/>
<circle cx="74.94" cy="1093.3" r="1.85" fill="#aa2329"/>
<circle cx="76.72" cy="1106.04" r="1.85" fill="#aa2329"/>
<circle cx="77.9" cy="1107.02" r="1.85" fill="#aa2329"/>
<circle cx="79.68" cy="1105.06" r="1.85" fill="#aa2329"/>
<circle cx="84.42" cy="1111.92" r="1.85" fill="#aa2329"/>
<circle cx="85.61" cy="1107.02" r="1.85" fill="#aa2329"/>
<circle cx="85.61" cy="1102.12" r="1.85" fill="#aa2329"/>
<circle cx="85.61" cy="1108.98" r="1.85" fill="#aa2329"/>
<circle cx="86.8" cy="1083.5" r="1.85" fill="#aa2329"/>
<circle cx="87.98" cy="1081.54" r="1.85" fill="#aa2329"/>
<circle cx="90.35" cy="1073.7" r="1.85" fill="#aa2329"/>
<circle cx="96.28" cy="1104.08" r="1.85" fill="#aa2329"/>
<circle cx="96.28" cy="1112.9" r="1.85" fill="#aa2329"/>
<circle cx="100.44" cy="1085.46" r="1.85" fill="#aa2329"/>
<circle cx="100.44" cy="1091.34" r="1.85" fill="#aa2329"/>
<circle cx="102.21" cy="1083.5" r="1.85" fill="#aa2329"/>
<circle cx="104.59" cy="1081.54" r="1.85" fill="#aa2329"/>
<circle cx="106.37" cy="1080.56" r="1.85" fill="#aa2329"/>
<circle cx="108.14" cy="1058.02" r="1.85" fill="#aa2329"/>
<circle cx="118.22" cy="1077.62" r="1.85" fill="#aa2329"/>
<circle cx="121.19" cy="1088.4" r="1.85" fill="#aa2329"/>
<circle cx="136.01" cy="1102.12" r="1.85" fill="#aa2329"/>
<circle cx="159.73" cy="1075.66" r="1.85" fill="#aa2329"/>
<circle cx="163.89" cy="1082.52" r="1.85" fill="#aa2329"/>
<rect x="58.36" y="1085.67" width="3.5" height="3.5" fill="#1d2d6b"/>
<rect x="66.07" y="1082.73" width="3.5" height="3.5" fill="#1d2d6b"/>
<rect x="67.26" y="1083.71" width="3.5" height="3.5" fill="#1d2d6b"/>
<rect x="69.03" y="1084.69" width="3.5" height="3.5" fill="#1d2d6b"/>
<rect x="70.22" y="1088.61" width="3.5" height="3.5" fill="#1d2d6b"/>
<rect x="72" y="1096.45" width="3.5" height="3.5" fill="#1d2d6b"/>
<rect x="74.97" y="1106.25" width="3.5" height="3.5" fill="#1d2d6b"/>
<rect x="77.93" y="1106.25" width="3.5" height="3.5" fill="#1d2d6b"/>
<rect x="79.12" y="1092.53" width="3.5" height="3.5" fill="#1d2d6b"/>
<rect x="80.9" y="1085.67" width="3.5" height="3.5" fill="#1d2d6b"/>
<rect x="83.86" y="1089.59" width="3.5" height="3.5" fill="#1d2d6b"/>
<rect x="85.64" y="1091.55" width="3.5" height="3.5" fill="#1d2d6b"/>
<rect x="86.82" y="1090.57" width="3.5" height="3.5" fill="#1d2d6b"/>
<rect x="86.82" y="1088.61" width="3.5" height="3.5" fill="#1d2d6b"/>
<rect x="89.79" y="1108.21" width="3.5" height="3.5" fill="#1d2d6b"/>
<rect x="90.98" y="1102.33" width="3.5" height="3.5" fill="#1d2d6b"/>
<rect x="94.53" y="1068.03" width="3.5" height="3.5" fill="#1d2d6b"/>
<rect x="101.65" y="1085.67" width="3.5" height="3.5" fill="#1d2d6b"/>
<rect x="107.58" y="1069.99" width="3.5" height="3.5" fill="#1d2d6b"/>
<rect x="109.36" y="1106.25" width="3.5" height="3.5" fill="#1d2d6b"/>
<rect x="110.54" y="1102.33" width="3.5" height="3.5" fill="#1d2d6b"/>
<rect x="127.15" y="1080.77" width="3.5" height="3.5" fill="#1d2d6b"/>
<rect x="128.34" y="1078.81" width="3.5" height="3.5" fill="#1d2d6b"/>
<rect x="127.15" y="1101.35" width="3.5" height="3.5" fill="#1d2d6b"/>
<rect x="134.26" y="1071.95" width="3.5" height="3.5" fill="#1d2d6b"/>
<rect x="139.01" y="1071.95" width="3.5" height="3.5" fill="#1d2d6b"/>
<rect x="137.23" y="1106.25" width="3.5" height="3.5" fill="#1d2d6b"/>
<rect x="143.16" y="1080.77" width="3.5" height="3.5" fill="#1d2d6b"/>
<rect x="156.21" y="1102.33" width="3.5" height="3.5" fill="#1d2d6b"/>
<line x1="57.15" y1="1097.22" x2="163.89" y2="1079.58" stroke="#aa2329" stroke-width="0.9"/>
<line x1="61.89" y1="1093.3" x2="157.96" y2="1089.38" stroke="#1d2d6b" stroke-width="0.9"/>
<text x="115.8" y="1060.61" font-size="7.8" fill="#aa2329" textLength="71.6" lengthAdjust="spacingAndGlyphs">r=0.3623, P=0.0352</text>
<text x="89.3" y="1132.11" font-size="7.8" fill="#1d2d6b" textLength="72.9" lengthAdjust="spacingAndGlyphs">r=0.1002, P=0.5853</text>
<text x="220.9" y="1010.2" font-size="12.6" font-weight="bold" fill="#000">P</text>
<text x="334.85" y="1020.74" font-size="9" text-anchor="middle" textLength="43.6" lengthAdjust="spacingAndGlyphs">Correlation</text>
<text x="255.9" y="1031.64" font-size="9" textLength="157.9" lengthAdjust="spacingAndGlyphs">Fetal corticosterone-Fetal body weight</text>
<line x1="260.6" y1="1043.82" x2="260.6" y2="1142.8" stroke="#1a1a1a" stroke-width="1.3"/>
<line x1="257.6" y1="1142.3" x2="260.6" y2="1142.3" stroke="#1a1a1a" stroke-width="1.3"/>
<text transform="translate(256.7 1144.95) scale(0.84 1)" font-size="8.28" font-weight="bold" text-anchor="end" fill="#111">0</text>
<line x1="257.6" y1="1109.64" x2="260.6" y2="1109.64" stroke="#1a1a1a" stroke-width="1.3"/>
<text transform="translate(256.7 1112.29) scale(0.84 1)" font-size="8.28" font-weight="bold" text-anchor="end" fill="#111">2</text>
<line x1="257.6" y1="1076.98" x2="260.6" y2="1076.98" stroke="#1a1a1a" stroke-width="1.3"/>
<text transform="translate(256.7 1079.63) scale(0.84 1)" font-size="8.28" font-weight="bold" text-anchor="end" fill="#111">4</text>
<line x1="257.6" y1="1044.32" x2="260.6" y2="1044.32" stroke="#1a1a1a" stroke-width="1.3"/>
<text transform="translate(256.7 1046.97) scale(0.84 1)" font-size="8.28" font-weight="bold" text-anchor="end" fill="#111">6</text>
<line x1="260.1" y1="1142.3" x2="407.5" y2="1142.3" stroke="#1a1a1a" stroke-width="1.3"/>
<line x1="260.8" y1="1142.3" x2="260.8" y2="1144.9" stroke="#1a1a1a" stroke-width="1"/>
<text transform="translate(260.8 1152.76) scale(0.84 1)" font-size="8.61" font-weight="bold" text-anchor="middle" fill="#111">0</text>
<line x1="309.7" y1="1142.3" x2="309.7" y2="1144.9" stroke="#1a1a1a" stroke-width="1"/>
<text transform="translate(309.7 1152.76) scale(0.84 1)" font-size="8.61" font-weight="bold" text-anchor="middle" fill="#111">1000</text>
<line x1="358.6" y1="1142.3" x2="358.6" y2="1144.9" stroke="#1a1a1a" stroke-width="1"/>
<text transform="translate(358.6 1152.76) scale(0.84 1)" font-size="8.61" font-weight="bold" text-anchor="middle" fill="#111">2000</text>
<line x1="407.5" y1="1142.3" x2="407.5" y2="1144.9" stroke="#1a1a1a" stroke-width="1"/>
<text transform="translate(407.5 1152.76) scale(0.84 1)" font-size="8.61" font-weight="bold" text-anchor="middle" fill="#111">3000</text>
<text x="253.8" y="1165.44" font-size="7.9" font-weight="bold" textLength="161.4" lengthAdjust="spacingAndGlyphs">Fetal corticosterone concentration (ng/ml)</text>
<text x="248.43" y="1093.3" font-size="7.9" font-weight="bold" text-anchor="middle" textLength="81.4" lengthAdjust="spacingAndGlyphs" transform="rotate(-90 248.43 1093.3)">Fetal body weight (g)</text>
<circle cx="275.47" cy="1090.04" r="1.85" fill="#aa2329"/>
<circle cx="276.94" cy="1086.78" r="1.85" fill="#aa2329"/>
<circle cx="277.92" cy="1088.41" r="1.85" fill="#aa2329"/>
<circle cx="278.4" cy="1091.68" r="1.85" fill="#aa2329"/>
<circle cx="279.38" cy="1093.31" r="1.85" fill="#aa2329"/>
<circle cx="280.36" cy="1085.14" r="1.85" fill="#aa2329"/>
<circle cx="280.85" cy="1090.04" r="1.85" fill="#aa2329"/>
<circle cx="281.34" cy="1088.41" r="1.85" fill="#aa2329"/>
<circle cx="281.83" cy="1076.98" r="1.85" fill="#aa2329"/>
<circle cx="281.83" cy="1068" r="1.85" fill="#aa2329"/>
<circle cx="282.81" cy="1091.68" r="1.85" fill="#aa2329"/>
<circle cx="283.29" cy="1077.8" r="1.85" fill="#aa2329"/>
<circle cx="283.78" cy="1086.78" r="1.85" fill="#aa2329"/>
<circle cx="284.27" cy="1093.31" r="1.85" fill="#aa2329"/>
<circle cx="284.76" cy="1094.94" r="1.85" fill="#aa2329"/>
<circle cx="285.25" cy="1090.04" r="1.85" fill="#aa2329"/>
<circle cx="286.23" cy="1098.21" r="1.85" fill="#aa2329"/>
<circle cx="287.21" cy="1088.41" r="1.85" fill="#aa2329"/>
<circle cx="288.18" cy="1097.39" r="1.85" fill="#aa2329"/>
<circle cx="289.16" cy="1093.31" r="1.85" fill="#aa2329"/>
<circle cx="289.65" cy="1090.04" r="1.85" fill="#aa2329"/>
<circle cx="290.14" cy="1094.94" r="1.85" fill="#aa2329"/>
<circle cx="291.12" cy="1097.39" r="1.85" fill="#aa2329"/>
<circle cx="290.14" cy="1086.78" r="1.85" fill="#aa2329"/>
<circle cx="292.1" cy="1101.47" r="1.85" fill="#aa2329"/>
<circle cx="292.59" cy="1108.82" r="1.85" fill="#aa2329"/>
<circle cx="293.07" cy="1103.11" r="1.85" fill="#aa2329"/>
<circle cx="294.05" cy="1094.94" r="1.85" fill="#aa2329"/>
<circle cx="295.03" cy="1103.92" r="1.85" fill="#aa2329"/>
<circle cx="296.01" cy="1098.21" r="1.85" fill="#aa2329"/>
<circle cx="295.03" cy="1090.04" r="1.85" fill="#aa2329"/>
<circle cx="291.61" cy="1091.68" r="1.85" fill="#aa2329"/>
<circle cx="287.69" cy="1085.14" r="1.85" fill="#aa2329"/>
<circle cx="285.25" cy="1087.59" r="1.85" fill="#aa2329"/>
<circle cx="282.81" cy="1083.51" r="1.85" fill="#aa2329"/>
<circle cx="279.38" cy="1089.23" r="1.85" fill="#aa2329"/>
<circle cx="286.23" cy="1092.49" r="1.85" fill="#aa2329"/>
<circle cx="290.63" cy="1092.49" r="1.85" fill="#aa2329"/>
<circle cx="277.43" cy="1090.86" r="1.85" fill="#aa2329"/>
<circle cx="283.78" cy="1089.23" r="1.85" fill="#aa2329"/>
<rect x="278.61" y="1081.76" width="3.5" height="3.5" fill="#1d2d6b"/>
<rect x="288.39" y="1071.15" width="3.5" height="3.5" fill="#1d2d6b"/>
<rect x="290.35" y="1074.41" width="3.5" height="3.5" fill="#1d2d6b"/>
<rect x="291.81" y="1059.72" width="3.5" height="3.5" fill="#1d2d6b"/>
<rect x="293.28" y="1084.21" width="3.5" height="3.5" fill="#1d2d6b"/>
<rect x="294.26" y="1082.58" width="3.5" height="3.5" fill="#1d2d6b"/>
<rect x="295.24" y="1085.03" width="3.5" height="3.5" fill="#1d2d6b"/>
<rect x="295.73" y="1081.76" width="3.5" height="3.5" fill="#1d2d6b"/>
<rect x="296.21" y="1086.66" width="3.5" height="3.5" fill="#1d2d6b"/>
<rect x="297.19" y="1083.39" width="3.5" height="3.5" fill="#1d2d6b"/>
<rect x="298.17" y="1084.21" width="3.5" height="3.5" fill="#1d2d6b"/>
<rect x="298.17" y="1087.48" width="3.5" height="3.5" fill="#1d2d6b"/>
<rect x="299.15" y="1085.84" width="3.5" height="3.5" fill="#1d2d6b"/>
<rect x="299.64" y="1085.03" width="3.5" height="3.5" fill="#1d2d6b"/>
<rect x="300.62" y="1093.19" width="3.5" height="3.5" fill="#1d2d6b"/>
<rect x="305.02" y="1089.11" width="3.5" height="3.5" fill="#1d2d6b"/>
<rect x="306.97" y="1092.38" width="3.5" height="3.5" fill="#1d2d6b"/>
<rect x="356.85" y="1095.64" width="3.5" height="3.5" fill="#1d2d6b"/>
<rect x="378.86" y="1094.01" width="3.5" height="3.5" fill="#1d2d6b"/>
<rect x="382.28" y="1097.28" width="3.5" height="3.5" fill="#1d2d6b"/>
<rect x="393.52" y="1094.83" width="3.5" height="3.5" fill="#1d2d6b"/>
<rect x="296.7" y="1085.35" width="3.5" height="3.5" fill="#1d2d6b"/>
<rect x="297.68" y="1083.07" width="3.5" height="3.5" fill="#1d2d6b"/>
<line x1="281.34" y1="1083.51" x2="396.89" y2="1099.19" stroke="#1d2d6b" stroke-width="0.9"/>
<text x="282.2" y="1123.71" font-size="7.8" fill="#aa2329" textLength="70.9" lengthAdjust="spacingAndGlyphs">r=-0.5341, P=0.001</text>
<text x="317.4" y="1068.31" font-size="7.8" fill="#1d2d6b" textLength="76" lengthAdjust="spacingAndGlyphs">r=-0.5965, P=0.0013</text>
<text x="442.1" y="1010.9" font-size="12.6" font-weight="bold" fill="#000">Q</text>
<text x="550.4" y="1020.54" font-size="9" text-anchor="middle" textLength="43.6" lengthAdjust="spacingAndGlyphs">Correlation</text>
<text x="465.9" y="1031.64" font-size="9" textLength="169" lengthAdjust="spacingAndGlyphs">Placental corticosterone-Placental weight</text>
<line x1="475.9" y1="1043.8" x2="475.9" y2="1142.8" stroke="#1a1a1a" stroke-width="1.3"/>
<line x1="472.9" y1="1142.3" x2="475.9" y2="1142.3" stroke="#1a1a1a" stroke-width="1.3"/>
<text transform="translate(472.3 1144.95) scale(0.84 1)" font-size="8.28" font-weight="bold" text-anchor="end" fill="#111">0.0</text>
<line x1="472.9" y1="1122.7" x2="475.9" y2="1122.7" stroke="#1a1a1a" stroke-width="1.3"/>
<text transform="translate(472.3 1125.35) scale(0.84 1)" font-size="8.28" font-weight="bold" text-anchor="end" fill="#111">0.2</text>
<line x1="472.9" y1="1103.1" x2="475.9" y2="1103.1" stroke="#1a1a1a" stroke-width="1.3"/>
<text transform="translate(472.3 1105.75) scale(0.84 1)" font-size="8.28" font-weight="bold" text-anchor="end" fill="#111">0.4</text>
<line x1="472.9" y1="1083.5" x2="475.9" y2="1083.5" stroke="#1a1a1a" stroke-width="1.3"/>
<text transform="translate(472.3 1086.15) scale(0.84 1)" font-size="8.28" font-weight="bold" text-anchor="end" fill="#111">0.6</text>
<line x1="472.9" y1="1063.9" x2="475.9" y2="1063.9" stroke="#1a1a1a" stroke-width="1.3"/>
<text transform="translate(472.3 1066.55) scale(0.84 1)" font-size="8.28" font-weight="bold" text-anchor="end" fill="#111">0.8</text>
<line x1="472.9" y1="1044.3" x2="475.9" y2="1044.3" stroke="#1a1a1a" stroke-width="1.3"/>
<text transform="translate(472.3 1046.95) scale(0.84 1)" font-size="8.28" font-weight="bold" text-anchor="end" fill="#111">1.0</text>
<line x1="475.4" y1="1142.3" x2="622.65" y2="1142.3" stroke="#1a1a1a" stroke-width="1.3"/>
<line x1="475.9" y1="1142.3" x2="475.9" y2="1144.9" stroke="#1a1a1a" stroke-width="1"/>
<text transform="translate(475.9 1152.76) scale(0.84 1)" font-size="8.61" font-weight="bold" text-anchor="middle" fill="#111">0</text>
<line x1="505.25" y1="1142.3" x2="505.25" y2="1144.9" stroke="#1a1a1a" stroke-width="1"/>
<text transform="translate(505.25 1152.76) scale(0.84 1)" font-size="8.61" font-weight="bold" text-anchor="middle" fill="#111">10</text>
<line x1="534.6" y1="1142.3" x2="534.6" y2="1144.9" stroke="#1a1a1a" stroke-width="1"/>
<text transform="translate(534.6 1152.76) scale(0.84 1)" font-size="8.61" font-weight="bold" text-anchor="middle" fill="#111">20</text>
<line x1="563.95" y1="1142.3" x2="563.95" y2="1144.9" stroke="#1a1a1a" stroke-width="1"/>
<text transform="translate(563.95 1152.76) scale(0.84 1)" font-size="8.61" font-weight="bold" text-anchor="middle" fill="#111">30</text>
<line x1="593.3" y1="1142.3" x2="593.3" y2="1144.9" stroke="#1a1a1a" stroke-width="1"/>
<text transform="translate(593.3 1152.76) scale(0.84 1)" font-size="8.61" font-weight="bold" text-anchor="middle" fill="#111">40</text>
<line x1="622.65" y1="1142.3" x2="622.65" y2="1144.9" stroke="#1a1a1a" stroke-width="1"/>
<text transform="translate(622.65 1152.76) scale(0.84 1)" font-size="8.61" font-weight="bold" text-anchor="middle" fill="#111">50</text>
<text x="461.9" y="1165.44" font-size="7.9" font-weight="bold" textLength="175.5" lengthAdjust="spacingAndGlyphs">Placental corticosterone level (ng/mg protein)</text>
<text x="457.03" y="1093.5" font-size="7.9" font-weight="bold" text-anchor="middle" textLength="75.7" lengthAdjust="spacingAndGlyphs" transform="rotate(-90 457.03 1093.5)">Placental weight (g)</text>
<circle cx="528.73" cy="1081.54" r="1.85" fill="#aa2329"/>
<circle cx="531.66" cy="1089.38" r="1.85" fill="#aa2329"/>
<circle cx="533.13" cy="1083.5" r="1.85" fill="#aa2329"/>
<circle cx="534.6" cy="1088.4" r="1.85" fill="#aa2329"/>
<circle cx="534.6" cy="1075.66" r="1.85" fill="#aa2329"/>
<circle cx="536.07" cy="1081.54" r="1.85" fill="#aa2329"/>
<circle cx="537.53" cy="1081.54" r="1.85" fill="#aa2329"/>
<circle cx="539" cy="1083.5" r="1.85" fill="#aa2329"/>
<circle cx="540.47" cy="1077.62" r="1.85" fill="#aa2329"/>
<circle cx="540.47" cy="1082.52" r="1.85" fill="#aa2329"/>
<circle cx="547.81" cy="1074.68" r="1.85" fill="#aa2329"/>
<circle cx="546.34" cy="1091.34" r="1.85" fill="#aa2329"/>
<circle cx="552.21" cy="1091.34" r="1.85" fill="#aa2329"/>
<circle cx="555.14" cy="1093.3" r="1.85" fill="#aa2329"/>
<circle cx="556.61" cy="1094.28" r="1.85" fill="#aa2329"/>
<circle cx="558.08" cy="1087.42" r="1.85" fill="#aa2329"/>
<circle cx="561.01" cy="1058.02" r="1.85" fill="#aa2329"/>
<circle cx="561.01" cy="1088.4" r="1.85" fill="#aa2329"/>
<circle cx="563.95" cy="1073.7" r="1.85" fill="#aa2329"/>
<circle cx="566.88" cy="1093.3" r="1.85" fill="#aa2329"/>
<circle cx="568.35" cy="1090.36" r="1.85" fill="#aa2329"/>
<circle cx="569.82" cy="1098.2" r="1.85" fill="#aa2329"/>
<circle cx="572.75" cy="1102.12" r="1.85" fill="#aa2329"/>
<circle cx="572.75" cy="1111.92" r="1.85" fill="#aa2329"/>
<circle cx="575.69" cy="1095.26" r="1.85" fill="#aa2329"/>
<circle cx="578.62" cy="1098.2" r="1.85" fill="#aa2329"/>
<circle cx="580.09" cy="1108" r="1.85" fill="#aa2329"/>
<circle cx="580.09" cy="1081.54" r="1.85" fill="#aa2329"/>
<circle cx="581.56" cy="1085.46" r="1.85" fill="#aa2329"/>
<circle cx="584.5" cy="1107.02" r="1.85" fill="#aa2329"/>
<circle cx="587.43" cy="1112.9" r="1.85" fill="#aa2329"/>
<circle cx="587.43" cy="1108.98" r="1.85" fill="#aa2329"/>
<circle cx="588.9" cy="1102.12" r="1.85" fill="#aa2329"/>
<circle cx="590.37" cy="1103.1" r="1.85" fill="#aa2329"/>
<circle cx="597.7" cy="1112.9" r="1.85" fill="#aa2329"/>
<circle cx="606.51" cy="1106.04" r="1.85" fill="#aa2329"/>
<rect x="535.78" y="1071.95" width="3.5" height="3.5" fill="#1d2d6b"/>
<rect x="538.72" y="1069.01" width="3.5" height="3.5" fill="#1d2d6b"/>
<rect x="540.19" y="1081.75" width="3.5" height="3.5" fill="#1d2d6b"/>
<rect x="541.65" y="1085.67" width="3.5" height="3.5" fill="#1d2d6b"/>
<rect x="543.12" y="1083.71" width="3.5" height="3.5" fill="#1d2d6b"/>
<rect x="546.06" y="1068.03" width="3.5" height="3.5" fill="#1d2d6b"/>
<rect x="547.52" y="1086.65" width="3.5" height="3.5" fill="#1d2d6b"/>
<rect x="548.99" y="1087.63" width="3.5" height="3.5" fill="#1d2d6b"/>
<rect x="550.46" y="1091.55" width="3.5" height="3.5" fill="#1d2d6b"/>
<rect x="551.93" y="1070.97" width="3.5" height="3.5" fill="#1d2d6b"/>
<rect x="553.39" y="1093.51" width="3.5" height="3.5" fill="#1d2d6b"/>
<rect x="556.33" y="1091.55" width="3.5" height="3.5" fill="#1d2d6b"/>
<rect x="557.8" y="1089.59" width="3.5" height="3.5" fill="#1d2d6b"/>
<rect x="559.26" y="1071.95" width="3.5" height="3.5" fill="#1d2d6b"/>
<rect x="560.73" y="1084.69" width="3.5" height="3.5" fill="#1d2d6b"/>
<rect x="562.2" y="1086.65" width="3.5" height="3.5" fill="#1d2d6b"/>
<rect x="563.67" y="1092.53" width="3.5" height="3.5" fill="#1d2d6b"/>
<rect x="565.13" y="1089.59" width="3.5" height="3.5" fill="#1d2d6b"/>
<rect x="566.6" y="1106.25" width="3.5" height="3.5" fill="#1d2d6b"/>
<rect x="568.07" y="1107.23" width="3.5" height="3.5" fill="#1d2d6b"/>
<rect x="568.07" y="1077.83" width="3.5" height="3.5" fill="#1d2d6b"/>
<rect x="569.54" y="1093.51" width="3.5" height="3.5" fill="#1d2d6b"/>
<rect x="571" y="1101.35" width="3.5" height="3.5" fill="#1d2d6b"/>
<rect x="573.94" y="1096.45" width="3.5" height="3.5" fill="#1d2d6b"/>
<rect x="576.88" y="1106.25" width="3.5" height="3.5" fill="#1d2d6b"/>
<rect x="579.81" y="1103.31" width="3.5" height="3.5" fill="#1d2d6b"/>
<rect x="582.75" y="1101.35" width="3.5" height="3.5" fill="#1d2d6b"/>
<rect x="585.68" y="1102.33" width="3.5" height="3.5" fill="#1d2d6b"/>
<rect x="588.62" y="1099.39" width="3.5" height="3.5" fill="#1d2d6b"/>
<rect x="600.36" y="1096.45" width="3.5" height="3.5" fill="#1d2d6b"/>
<line x1="528.73" y1="1079.09" x2="606.51" y2="1111.43" stroke="#aa2329" stroke-width="0.9"/>
<line x1="537.53" y1="1081.05" x2="602.11" y2="1112.9" stroke="#1d2d6b" stroke-width="0.9"/>
<text x="499.2" y="1126.61" font-size="7.8" fill="#aa2329" textLength="74.9" lengthAdjust="spacingAndGlyphs">r=-0.6658, P&lt;0.0001</text>
<text x="534.6" y="1052.31" font-size="7.8" fill="#1d2d6b" textLength="74.2" lengthAdjust="spacingAndGlyphs">r=-0.7613, P&lt;0.0001</text>
<line x1="627.9" y1="1051.4" x2="638.7" y2="1051.4" stroke="#aa2329" stroke-width="1"/>
<circle cx="633.3" cy="1051.4" r="1.9" fill="#aa2329"/>
<line x1="627.9" y1="1062.7" x2="638.7" y2="1062.7" stroke="#1d2d6b" stroke-width="1"/>
<rect x="631.5" y="1060.9" width="3.6" height="3.6" fill="#1d2d6b"/>
<text x="644.9" y="1054.14" font-size="7.6" textLength="25" lengthAdjust="spacingAndGlyphs">Female</text>
<text x="644.9" y="1065.44" font-size="7.6" textLength="15.9" lengthAdjust="spacingAndGlyphs">Male</text>
</svg>
</body></html>
